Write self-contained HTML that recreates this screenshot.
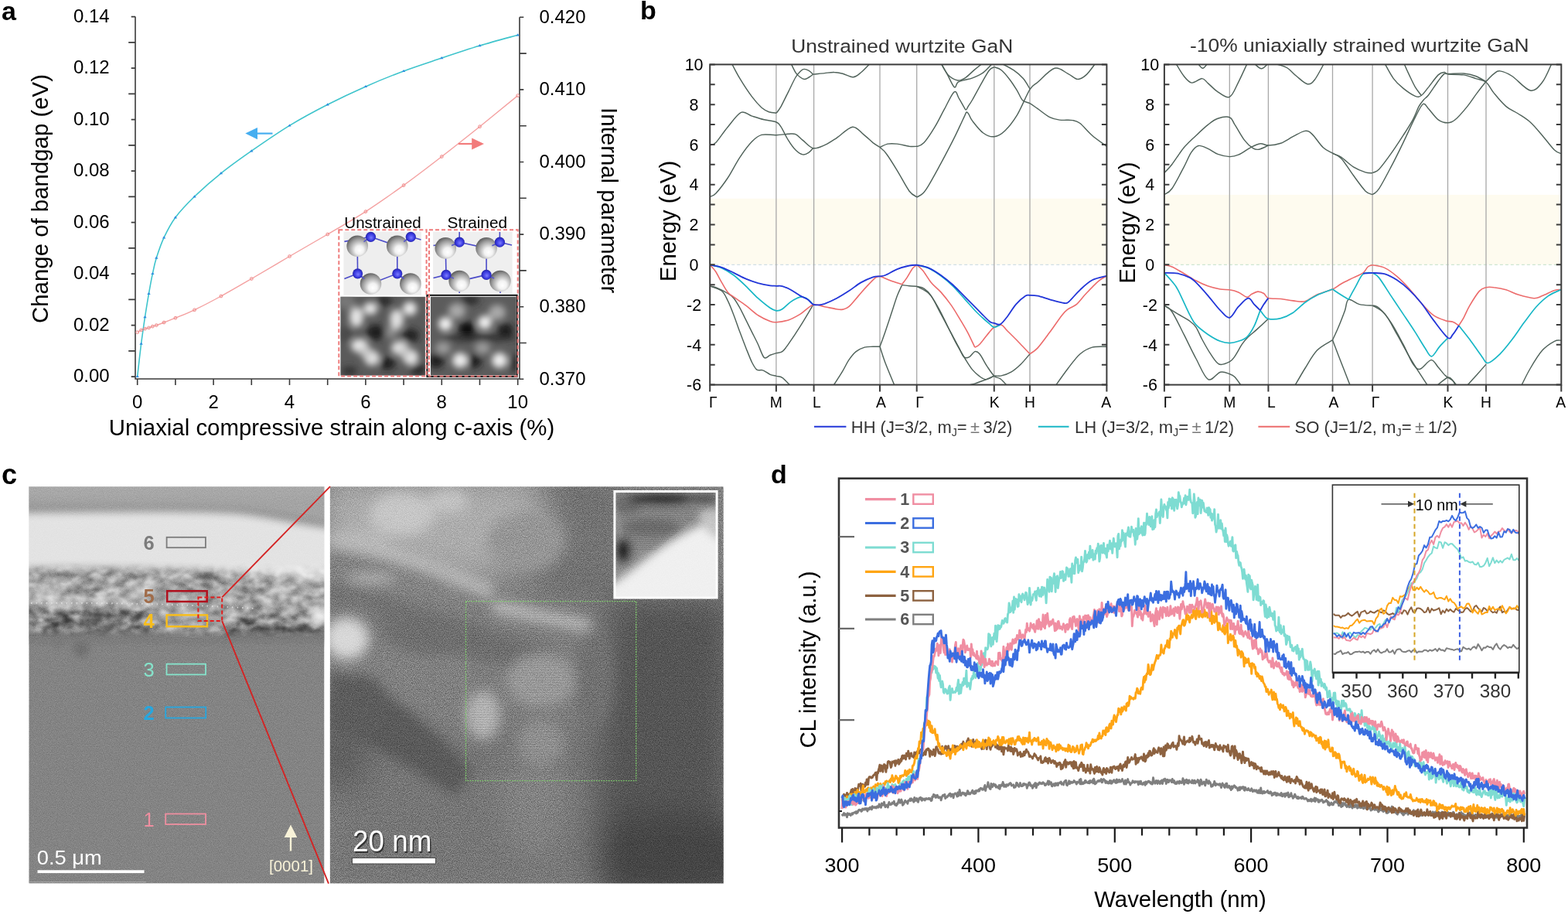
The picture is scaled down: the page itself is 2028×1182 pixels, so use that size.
<!DOCTYPE html>
<html><head><meta charset="utf-8"><title>Figure</title>
<style>
html,body{margin:0;padding:0;background:#fff;width:2028px;height:1182px;overflow:hidden}
svg{display:block}
text{font-family:"Liberation Sans",Arial,Helvetica,sans-serif;fill:#000}
</style></head><body>
<svg width="2028" height="1182" viewBox="0 0 2028 1182">
<defs>
<radialGradient id="gGa" cx="0.6" cy="0.64" r="0.66" fx="0.6" fy="0.7">
<stop offset="0" stop-color="#ffffff"/><stop offset="0.3" stop-color="#f2f2f2"/><stop offset="0.75" stop-color="#9a9a9a"/><stop offset="1" stop-color="#5e5e5e"/></radialGradient>
<radialGradient id="gN" cx="0.5" cy="0.5" r="0.55" fx="0.55" fy="0.6">
<stop offset="0" stop-color="#7c7cff"/><stop offset="0.6" stop-color="#3a3ae0"/><stop offset="1" stop-color="#20209a"/></radialGradient>
<filter id="blur4" x="-20%" y="-20%" width="140%" height="140%"><feGaussianBlur stdDeviation="4.2"/></filter>
<clipPath id="clipL"><rect x="440.5" y="383.8" width="109.4" height="101.8"/></clipPath>
<clipPath id="clipR"><rect x="557" y="383.8" width="110.6" height="101.8"/></clipPath>
<clipPath id="cb1"><rect x="918.2" y="83.4" width="513.2" height="414.20000000000005"/></clipPath>
<clipPath id="cb2"><rect x="1505.9" y="83.4" width="513.3999999999999" height="414.20000000000005"/></clipPath>
<clipPath id="clipTL"><rect x="37.3" y="629.2" width="382.2" height="513.3999999999999"/></clipPath>
<clipPath id="clipTR"><rect x="426.8" y="629.2" width="508.99999999999994" height="513.3999999999999"/></clipPath>
<clipPath id="clipIn"><rect x="795" y="636" width="132" height="137"/></clipPath>
<filter id="bl3" x="-5%" y="-5%" width="110%" height="110%"><feGaussianBlur stdDeviation="3"/></filter>
<filter id="bl5" x="-5%" y="-5%" width="110%" height="110%"><feGaussianBlur stdDeviation="5"/></filter>
<filter id="bl10" x="-10%" y="-10%" width="120%" height="120%"><feGaussianBlur stdDeviation="10"/></filter>
<filter id="bl8" x="-10%" y="-10%" width="120%" height="120%"><feGaussianBlur stdDeviation="8"/></filter>
<filter id="bl7" x="-10%" y="-10%" width="120%" height="120%"><feGaussianBlur stdDeviation="7"/></filter>
<filter id="bl6" x="-5%" y="-5%" width="110%" height="110%"><feGaussianBlur stdDeviation="6"/></filter>
<filter id="bl14" x="-10%" y="-10%" width="120%" height="120%"><feGaussianBlur stdDeviation="20"/></filter>
<filter id="grain" x="0" y="0" width="100%" height="100%" color-interpolation-filters="sRGB"><feTurbulence type="fractalNoise" baseFrequency="0.9" numOctaves="2" seed="7"/><feColorMatrix type="matrix" values="2 0 0 0 -0.5  2 0 0 0 -0.5  2 0 0 0 -0.5  0 0 0 0 1"/></filter>
<filter id="speck" x="0" y="0" width="100%" height="100%" color-interpolation-filters="sRGB"><feTurbulence type="fractalNoise" baseFrequency="0.065 0.1" numOctaves="3" seed="5"/><feColorMatrix type="matrix" values="1.8 0 0 0 -0.4  1.8 0 0 0 -0.4  1.8 0 0 0 -0.4  0 0 0 0 1"/><feGaussianBlur stdDeviation="0.8"/></filter>
<mask id="mTex" maskUnits="userSpaceOnUse" x="30" y="700" width="400" height="150"><rect x="30" y="733" width="400" height="85" fill="#fff" filter="url(#bl5)"/></mask>
<clipPath id="clipD"><rect x="1085.0" y="618.7" width="890.0" height="451.79999999999995"/></clipPath>
<clipPath id="clipDI"><rect x="1724.2" y="627.9" width="239.8" height="241"/></clipPath></defs>
<g id="pa">
<text x="2" y="25.5" font-size="34" font-weight="bold">a</text>
<path d="M175.0,21.6 V490.0 H672.0 V22.3" stroke="#3a3a3a" stroke-width="1.6" fill="none"/>
<path d="M175.0,487.1h-5.3 M175.0,453.9h-8.8 M175.0,420.6h-5.3 M175.0,387.4h-8.8 M175.0,354.1h-5.3 M175.0,320.9h-8.8 M175.0,287.6h-5.3 M175.0,254.4h-8.8 M175.0,221.1h-5.3 M175.0,187.9h-8.8 M175.0,154.6h-5.3 M175.0,121.4h-8.8 M175.0,88.1h-5.3 M175.0,54.9h-8.8 M175.0,21.6h-5.3 M177.7,490.0v8 M226.9,490.0v8 M276.1,490.0v8 M325.3,490.0v8 M374.5,490.0v8 M423.7,490.0v8 M472.9,490.0v8 M522.1,490.0v8 M571.3,490.0v8 M620.5,490.0v8 M669.7,490.0v8 M672.0,22.3h5.3 M672.0,69.1h8.8 M672.0,115.9h5.3 M672.0,162.7h8.8 M672.0,209.5h5.3 M672.0,256.3h8.8 M672.0,303.1h5.3 M672.0,349.9h8.8 M672.0,396.7h5.3 M672.0,443.5h8.8 M672.0,490.3h5.3" stroke="#3a3a3a" stroke-width="1.6" fill="none"/>
<g font-size="24" text-anchor="end"><text x="141.6" y="494.4">0.00</text><text x="141.6" y="427.9">0.02</text><text x="141.6" y="361.4">0.04</text><text x="141.6" y="294.9">0.06</text><text x="141.6" y="228.4">0.08</text><text x="141.6" y="161.9">0.10</text><text x="141.6" y="95.4">0.12</text><text x="141.6" y="28.9">0.14</text></g>
<g font-size="24"><text x="697.5" y="497.6">0.370</text><text x="697.5" y="404">0.380</text><text x="697.5" y="310.4">0.390</text><text x="697.5" y="216.8">0.400</text><text x="697.5" y="123.2">0.410</text><text x="697.5" y="29.6">0.420</text></g>
<g font-size="24" text-anchor="middle"><text x="177.7" y="528">0</text><text x="276.1" y="528">2</text><text x="374.5" y="528">4</text><text x="472.9" y="528">6</text><text x="571.3" y="528">8</text><text x="669.7" y="528">10</text></g>
<text x="429" y="563" font-size="29.4" text-anchor="middle">Uniaxial compressive strain along c-axis (%)</text>
<text transform="translate(62.3,257) rotate(-90)" font-size="29.4" text-anchor="middle">Change of bandgap (eV)</text>
<text transform="translate(777.5,259.2) rotate(90)" font-size="29.4" text-anchor="middle">Internal parameter</text>
<path d="M177.7,429.7 C178.5,429.2 181,427.6 182.6,426.9 C184.3,426.1 185.9,425.7 187.5,425.2 C189.2,424.7 190.8,424.4 192.5,423.9 C194.1,423.4 195.7,422.7 197.4,422.1 C199,421.6 199.8,421.5 202.3,420.6 C204.8,419.8 208,418.6 212.1,417 C216.2,415.4 220.3,413.9 226.9,411.2 C233.5,408.5 241.7,405.5 251.5,400.8 C261.3,396.1 273.6,389.7 285.9,383 C298.2,376.3 310.5,369.1 325.3,360.5 C340.1,351.9 358.1,341.1 374.5,331.5 C390.9,321.9 407.3,312.6 423.7,303 C440.1,293.4 456.5,284.2 472.9,273.6 C489.3,263 505.7,251.4 522.1,239.6 C538.5,227.8 554.9,215.2 571.3,202.5 C587.7,189.8 604.1,176.8 620.5,163.7 C636.9,150.5 661.5,130.3 669.7,123.6" stroke="#f4a0a0" stroke-width="1.4" fill="none"/>
<path d="M177.7,486.9 C178.5,479.8 181,457.3 182.6,444.5 C184.3,431.7 185.9,420.8 187.5,410 C189.2,399.2 190.8,389.1 192.5,379.7 C194.1,370.3 195.7,361.6 197.4,353.9 C199,346.2 199.8,341.4 202.3,333.6 C204.8,325.8 208,315.9 212.1,307.2 C216.2,298.5 220.3,290 226.9,281.2 C233.5,272.4 241.7,263.8 251.5,254.3 C261.3,244.8 273.6,233.9 285.9,224.1 C298.2,214.2 310.5,205.5 325.3,195.2 C340.1,184.9 358.1,172.4 374.5,162.4 C390.9,152.4 407.3,143.7 423.7,135.3 C440.1,126.9 456.5,119.1 472.9,111.9 C489.3,104.7 505.7,98 522.1,91.9 C538.5,85.8 554.9,80.6 571.3,75.1 C587.7,69.6 604.1,64.1 620.5,59.1 C636.9,54.1 661.5,47.6 669.7,45.3" stroke="#3ec4cc" stroke-width="1.6" fill="none"/>
<g fill="none" stroke="#f08a8a" stroke-width="1"><circle cx="177.7" cy="429.7" r="1.9"/><circle cx="182.6" cy="426.9" r="1.9"/><circle cx="187.5" cy="425.2" r="1.9"/><circle cx="192.5" cy="423.9" r="1.9"/><circle cx="197.4" cy="422.1" r="1.9"/><circle cx="202.3" cy="420.6" r="1.9"/><circle cx="212.1" cy="417" r="1.9"/><circle cx="226.9" cy="411.2" r="1.9"/><circle cx="251.5" cy="400.8" r="1.9"/><circle cx="285.9" cy="383" r="1.9"/><circle cx="325.3" cy="360.5" r="1.9"/><circle cx="374.5" cy="331.5" r="1.9"/><circle cx="423.7" cy="303" r="1.9"/><circle cx="472.9" cy="273.6" r="1.9"/><circle cx="522.1" cy="239.6" r="1.9"/><circle cx="571.3" cy="202.5" r="1.9"/><circle cx="620.5" cy="163.7" r="1.9"/><circle cx="669.7" cy="123.6" r="1.9"/></g>
<g fill="#2f8fe0"><path d="M175.5,488.1L177.7,484.9L179.9,488.1Z"/><path d="M180.4,445.7L182.6,442.5L184.8,445.7Z"/><path d="M185.3,411.2L187.5,408L189.7,411.2Z"/><path d="M190.3,380.9L192.5,377.7L194.7,380.9Z"/><path d="M195.2,355.1L197.4,351.9L199.6,355.1Z"/><path d="M200.1,334.8L202.3,331.6L204.5,334.8Z"/><path d="M209.9,308.4L212.1,305.2L214.3,308.4Z"/><path d="M224.7,282.4L226.9,279.2L229.1,282.4Z"/><path d="M249.3,255.5L251.5,252.3L253.7,255.5Z"/><path d="M283.7,225.3L285.9,222.1L288.1,225.3Z"/><path d="M323.1,196.4L325.3,193.2L327.5,196.4Z"/><path d="M372.3,163.6L374.5,160.4L376.7,163.6Z"/><path d="M421.5,136.5L423.7,133.3L425.9,136.5Z"/><path d="M470.7,113.1L472.9,109.9L475.1,113.1Z"/><path d="M519.9,93.1L522.1,89.9L524.3,93.1Z"/><path d="M569.1,76.3L571.3,73.1L573.5,76.3Z"/><path d="M618.3,60.3L620.5,57.1L622.7,60.3Z"/><path d="M667.5,46.5L669.7,43.3L671.9,46.5Z"/></g>
<path d="M332,172.6H352.5" stroke="#46aef0" stroke-width="2.2"/><path d="M317.3,172.6L333,165L333,180.2Z" fill="#46aef0"/>
<path d="M592.9,186H611" stroke="#f27c7c" stroke-width="2.2"/><path d="M626,186L610.2,178.4L610.2,193.6Z" fill="#f27c7c"/>
<g id="inset">
<text x="445.3" y="294.5" font-size="20" textLength="99.5" lengthAdjust="spacingAndGlyphs">Unstrained</text>
<text x="578.6" y="294.5" font-size="20" textLength="77.5" lengthAdjust="spacingAndGlyphs">Strained</text>
<rect x="438.3" y="297.2" width="113.3" height="189.2" fill="#fff"/>
<rect x="555" y="297.2" width="114.7" height="189.2" fill="#fff"/>
<rect x="444.4" y="299.6" width="100.5" height="82.2" fill="#eeeeee"/>
<rect x="560.1" y="299.6" width="102.5" height="80.2" fill="#efefef"/>
<rect x="440.5" y="383.8" width="109.4" height="101.8" fill="#5a5a5a"/>
<rect x="557" y="383.8" width="110.6" height="101.8" fill="#5c5c5c"/>
<g clip-path="url(#clipL)" filter="url(#blur4)">
<ellipse cx="447" cy="390" rx="12" ry="10" fill="#777"/>
<ellipse cx="497" cy="389" rx="10" ry="7" fill="#2a2a2a"/>
<ellipse cx="486" cy="430" rx="12" ry="10" fill="#1e1e1e"/>
<ellipse cx="531" cy="434" rx="11" ry="9" fill="#222"/>
<ellipse cx="447" cy="432" rx="8" ry="10" fill="#4a4a4a"/>
<ellipse cx="501" cy="470" rx="10" ry="8" fill="#1c1c1c"/>
<ellipse cx="541" cy="478" rx="10" ry="8" fill="#2a2a2a"/>
<ellipse cx="452" cy="480" rx="10" ry="6" fill="#333"/>
<ellipse cx="506" cy="430" rx="8" ry="8" fill="#8a8a8a"/>
<ellipse cx="461" cy="410" rx="9" ry="13" fill="#e4e4e4"/>
<ellipse cx="479" cy="399" rx="9" ry="8" fill="#e8e8e8"/>
<ellipse cx="513" cy="413" rx="9" ry="13" fill="#e0e0e0"/>
<ellipse cx="530" cy="399" rx="9" ry="9" fill="#ececec"/>
<ellipse cx="465" cy="447" rx="11" ry="9" fill="#e8e8e8"/>
<ellipse cx="481" cy="463" rx="10" ry="10" fill="#e0e0e0"/>
<ellipse cx="517" cy="450" rx="11" ry="9" fill="#e2e2e2"/>
<ellipse cx="531" cy="462" rx="10" ry="10" fill="#e8e8e8"/>
<ellipse cx="473" cy="455" rx="8" ry="8" fill="#c8c8c8"/>
<ellipse cx="524" cy="456" rx="8" ry="8" fill="#c8c8c8"/>
</g>
<g clip-path="url(#clipR)" filter="url(#blur4)">
<ellipse cx="604" cy="425" rx="11" ry="9" fill="#111"/>
<ellipse cx="654" cy="427" rx="10" ry="9" fill="#1a1a1a"/>
<ellipse cx="564" cy="467" rx="10" ry="9" fill="#1c1c1c"/>
<ellipse cx="613" cy="467" rx="10" ry="9" fill="#1e1e1e"/>
<ellipse cx="620" cy="437" rx="50" ry="4" fill="#2a2a2a"/>
<ellipse cx="608" cy="388" rx="12" ry="6" fill="#2a2a2a"/>
<ellipse cx="665" cy="470" rx="6" ry="12" fill="#333"/>
<ellipse cx="591" cy="402" rx="11" ry="10" fill="#a8a8a8"/>
<ellipse cx="643" cy="404" rx="11" ry="10" fill="#a8a8a8"/>
<ellipse cx="576" cy="419" rx="9" ry="9" fill="#f2f2f2"/>
<ellipse cx="627" cy="417" rx="9" ry="9" fill="#f0f0f0"/>
<ellipse cx="573" cy="450" rx="10" ry="8" fill="#9a9a9a"/>
<ellipse cx="624" cy="450" rx="10" ry="8" fill="#9a9a9a"/>
<ellipse cx="595" cy="466" rx="10" ry="10" fill="#ececec"/>
<ellipse cx="646" cy="466" rx="10" ry="10" fill="#eeeeee"/>
</g>
<g stroke="#4b4bc8" stroke-width="1.6"><line x1="445.4" y1="312.4" x2="479.5" y2="306.3"/><line x1="479.5" y1="306.3" x2="513.8" y2="318.3"/><line x1="531.3" y1="306.3" x2="544.5" y2="310"/><line x1="462.2" y1="318.3" x2="462.6" y2="353.8"/><line x1="513.8" y1="318.3" x2="513.8" y2="353.8"/><line x1="445.4" y1="360.5" x2="462.6" y2="353.8"/><line x1="462.6" y1="353.8" x2="479.5" y2="367"/><line x1="479.5" y1="367" x2="513.8" y2="353.8"/><line x1="513.8" y1="353.8" x2="530.9" y2="367"/><line x1="479.5" y1="306.3" x2="462.2" y2="318.3"/><line x1="531.3" y1="306.3" x2="513.8" y2="318.3"/></g>
<circle cx="462.2" cy="318.3" r="13.8" fill="url(#gGa)"/>
<circle cx="513.8" cy="318.3" r="13.8" fill="url(#gGa)"/>
<circle cx="479.5" cy="367" r="13.8" fill="url(#gGa)"/>
<circle cx="530.9" cy="367" r="13.8" fill="url(#gGa)"/>
<g stroke="#5656c8" stroke-width="1.6"><line x1="479.5" y1="306.3" x2="470.5" y2="312.6"/><line x1="531.3" y1="306.3" x2="522.2" y2="312.5"/><line x1="462.6" y1="353.8" x2="471.3" y2="360.6"/><line x1="513.8" y1="353.8" x2="522.5" y2="360.5"/></g>
<circle cx="479.5" cy="306.3" r="6.6" fill="url(#gN)"/>
<circle cx="531.3" cy="306.3" r="6.6" fill="url(#gN)"/>
<circle cx="462.6" cy="353.8" r="6.6" fill="url(#gN)"/>
<circle cx="513.8" cy="353.8" r="6.6" fill="url(#gN)"/>
<g stroke="#4b4bc8" stroke-width="1.6"><line x1="560.5" y1="317.5" x2="594.2" y2="313.2"/><line x1="594.2" y1="313.2" x2="629.1" y2="320.9"/><line x1="646.4" y1="313.2" x2="662" y2="317"/><line x1="576.3" y1="320.9" x2="577" y2="355.4"/><line x1="629.1" y1="320.9" x2="629.1" y2="355.4"/><line x1="560.5" y1="359.5" x2="577" y2="355.4"/><line x1="577" y1="355.4" x2="594.2" y2="363.6"/><line x1="594.2" y1="363.6" x2="629.1" y2="355.4"/><line x1="629.1" y1="355.4" x2="647" y2="363.6"/><line x1="594.2" y1="313.2" x2="594.2" y2="300"/><line x1="646.4" y1="313.2" x2="646.4" y2="300"/><line x1="594.2" y1="363.6" x2="594.2" y2="379"/><line x1="647" y1="363.6" x2="647" y2="379"/></g>
<circle cx="576.3" cy="320.9" r="13.8" fill="url(#gGa)"/>
<circle cx="629.1" cy="320.9" r="13.8" fill="url(#gGa)"/>
<circle cx="594.2" cy="363.6" r="13.8" fill="url(#gGa)"/>
<circle cx="647" cy="363.6" r="13.8" fill="url(#gGa)"/>
<g stroke="#5656c8" stroke-width="1.6"><line x1="594.2" y1="313.2" x2="584.1" y2="317.5"/><line x1="646.4" y1="313.2" x2="636.4" y2="317.7"/><line x1="577" y1="355.4" x2="586.9" y2="360.1"/><line x1="629.1" y1="355.4" x2="639.1" y2="360"/></g>
<circle cx="594.2" cy="313.2" r="6.6" fill="url(#gN)"/>
<circle cx="646.4" cy="313.2" r="6.6" fill="url(#gN)"/>
<circle cx="577" cy="355.4" r="6.6" fill="url(#gN)"/>
<circle cx="629.1" cy="355.4" r="6.6" fill="url(#gN)"/>
<rect x="552.4" y="381.8" width="116.3" height="105.3" fill="none" stroke="#111" stroke-width="2"/>
<rect x="438.3" y="297.2" width="113.3" height="189.2" fill="none" stroke="#ee7b7b" stroke-width="2" stroke-dasharray="5,3"/>
<rect x="555" y="297.2" width="114.7" height="189.2" fill="none" stroke="#ee7b7b" stroke-width="2" stroke-dasharray="5,3"/>
</g>
</g>
<g id="pb">
<text x="828" y="24.5" font-size="34" font-weight="bold">b</text>
<g fill="#333" font-size="24.3"><text x="1023.2" y="67.9" textLength="287" lengthAdjust="spacingAndGlyphs" style="fill:#333">Unstrained wurtzite GaN</text><text x="1539" y="66.9" textLength="438.5" lengthAdjust="spacingAndGlyphs" style="fill:#333">-10% uniaxially strained wurtzite GaN</text></g>
<rect x="918.2" y="256.8" width="513.2" height="85.4" fill="#fefbef"/>
<line x1="918.2" y1="342.3" x2="1431.4" y2="342.3" stroke="#c5d8e0" stroke-width="1" stroke-dasharray="4,3"/>
<g stroke="#a8a8a8" stroke-width="1.3"><line x1="1003.9" y1="83.4" x2="1003.9" y2="497.6"/><line x1="1052.6" y1="83.4" x2="1052.6" y2="497.6"/><line x1="1138" y1="83.4" x2="1138" y2="497.6"/><line x1="1185.7" y1="83.4" x2="1185.7" y2="497.6"/><line x1="1285.8" y1="83.4" x2="1285.8" y2="497.6"/><line x1="1332" y1="83.4" x2="1332" y2="497.6"/></g>
<g clip-path="url(#cb1)" fill="none" stroke-linejoin="round">
<g stroke="#50625a" stroke-width="1.45"><path d="M946,81.3 C947.8,84.7 952.5,94.3 957,101.6 C961.4,108.9 967.9,118.8 972.6,125.1 C977.3,131.3 981.5,135.9 985.1,139.2 C988.8,142.4 991.3,143.5 994.5,144.7 C997.7,145.8 1002.6,146 1004.2,146.2"/><path d="M1004.2,146.2 C1005.2,144.8 1007.6,142.2 1010.2,137.6 C1012.7,133 1016.4,125.1 1019.6,118.8 C1022.7,112.6 1026.3,104.5 1029,100 C1031.6,95.6 1033.4,94 1035.2,92.2 C1037,90.4 1038.1,89.5 1039.9,89.4 C1041.7,89.3 1044.2,90.3 1046.2,91.4 C1048.1,92.6 1050.7,95.3 1051.6,96.1"/><path d="M1022.7,81.3 C1023.7,83.3 1026.9,90.7 1029,93.8 C1031,96.9 1033.3,98.6 1035.2,100 C1037.2,101.5 1038.9,102.4 1040.7,102.4 C1042.5,102.4 1044.3,101.1 1046.2,100 C1048,99 1050.7,96.8 1051.6,96.1"/><path d="M1051.6,96.1 C1054.1,95.9 1062,95 1066.5,94.6 C1071.1,94.1 1075.1,93.3 1079,93.5 C1083,93.6 1086,94.3 1090,95.3 C1094,96.4 1099.4,100 1103.3,99.7 C1107.2,99.5 1109.7,96.9 1113.5,93.8 C1117.3,90.7 1123.9,83.3 1126,81.3"/><path d="M918.6,187.7 C919.8,187.2 921.9,188.5 925.7,184.6 C929.4,180.7 935.8,170.7 941.3,164.2 C946.8,157.7 953.3,147.8 958.5,145.4 C963.7,143.1 967.7,148.6 972.6,150.1 C977.6,151.7 983,153.5 988.3,154.8 C993.5,156.1 1000.6,156.4 1004.2,158 C1007.9,159.5 1007.6,160.3 1010.2,164.2 C1012.7,168.1 1016.4,176.5 1019.6,181.4 C1022.7,186.4 1025.8,190.9 1029,194 C1032.1,197 1035.5,199.4 1038.3,199.9 C1041.2,200.4 1044,198.5 1046.2,197.1 C1048.4,195.7 1050.7,192.5 1051.6,191.6"/><path d="M918.6,254.2 C919.8,253.6 921.9,254.3 925.7,250.3 C929.4,246.3 936.1,237.8 941.3,230 C946.5,222.1 951.7,211.2 957,203.3 C962.2,195.5 967.9,187.8 972.6,183 C977.3,178.2 979.9,175.8 985.1,174.4 C990.3,173 998.2,174.9 1003.9,174.7 C1009.7,174.5 1015.4,173.5 1019.6,173.3 C1023.7,173.1 1025.8,172.3 1029,173.6 C1032.1,175 1034.6,178.4 1038.3,181.4 C1042.1,184.4 1047,190.6 1051.6,191.6 C1056.3,192.7 1061.4,189.9 1066.5,187.7 C1071.6,185.5 1076.2,182.2 1082.2,178.3 C1088.2,174.4 1096.8,165 1102.5,164.2 C1108.3,163.4 1112.2,170.2 1116.6,173.6 C1121,177 1125.6,181.7 1129.1,184.6 C1132.7,187.4 1136.6,189.5 1138,190.5"/><path d="M1138,190.5 C1139.7,189.8 1144.2,186.9 1147.9,186.1 C1151.6,185.4 1155.7,185.6 1160.4,186.1 C1165.1,186.7 1171.8,188.7 1176.1,189.3 C1180.4,189.8 1184.6,189.3 1186.3,189.3"/><path d="M1138,190.5 C1139.4,191.9 1142.6,193.6 1146.3,198.7 C1150.1,203.7 1155.5,212.5 1160.4,220.6 C1165.4,228.6 1171.8,241.4 1176.1,247.2 C1180.4,252.9 1184.6,253.7 1186.3,255"/><path d="M1185.7,255 C1187,254.2 1190.9,252.9 1193.5,250.3 C1196.1,247.7 1197.4,245.9 1201.3,239.3 C1205.2,232.8 1211.7,220.8 1217,211.2 C1222.2,201.5 1228.4,189.7 1232.6,181.4 C1236.8,173.2 1239.5,167.1 1242,161.9 C1244.5,156.7 1246.1,152.9 1247.5,150.1 C1248.8,147.3 1249.2,145.4 1250.1,145 C1251.1,144.6 1251.7,145.9 1253,147.8 C1254.2,149.7 1254.5,152.3 1257.7,156.4 C1260.8,160.4 1267,168.7 1271.7,172 C1276.4,175.4 1281.1,177.3 1285.8,176.7 C1290.5,176.2 1295,173.6 1299.9,168.9 C1304.9,164.2 1310.2,157.4 1315.6,148.6 C1320.9,139.7 1327.6,122.7 1332,115.7 C1336.4,108.7 1336.8,110.9 1342.2,106.3 C1347.5,101.7 1357.6,90.1 1364.1,88.3 C1370.6,86.5 1376.3,93 1381.3,95.3 C1386.3,97.7 1389.9,102.1 1393.8,102.4 C1397.7,102.7 1400.9,100.4 1404.8,96.9 C1408.7,93.4 1415.2,83.9 1417.3,81.3"/><path d="M1185.7,189.7 C1187.2,188.9 1191.1,188.8 1195,184.6 C1199,180.3 1204.7,171.5 1209.1,164.2 C1213.6,156.9 1217.5,148.3 1221.7,140.7 C1225.8,133.2 1231,121 1234.2,118.8 C1237.3,116.6 1238.3,124.2 1240.4,127.4 C1242.5,130.7 1245.2,136 1246.7,138.4 C1248.2,140.8 1248.4,142.1 1249.4,142 C1250.3,141.9 1250.8,139.8 1252.2,137.6 C1253.6,135.4 1254.7,134.2 1257.7,129 C1260.7,123.8 1266.5,112.7 1270.2,106.3 C1273.8,99.9 1277,93.9 1279.6,90.7 C1282.2,87.4 1284.8,87.4 1285.8,86.7"/><path d="M1285.8,86.7 C1287.4,87.4 1291.8,87.9 1295.2,90.7 C1298.6,93.4 1302.8,98.7 1306.2,103.2 C1309.6,107.6 1312.8,112.8 1315.6,117.3 C1318.3,121.7 1319.9,127 1322.6,129.8 C1325.3,132.5 1328.7,131.9 1332,133.7 C1335.3,135.5 1337.9,137.7 1342.2,140.7 C1346.5,143.7 1353.1,149.3 1357.8,151.7 C1362.5,154.1 1365.4,154.5 1370.3,155.1 C1375.3,155.8 1383.1,154.9 1387.6,155.6 C1392,156.3 1392.8,156.3 1397,159.5 C1401.1,162.8 1406.9,170.2 1412.6,175.2 C1418.3,180.1 1428.3,186.9 1431.4,189.3"/><path d="M1293.7,81.3 C1296.5,82.8 1305.9,87.3 1310.9,90.7 C1315.8,94 1319.9,97.6 1323.4,101.6 C1326.9,105.7 1330.6,112.7 1332,114.9"/><path d="M1217,81.3 C1218.3,83.6 1221.9,90.1 1224.8,95.3 C1227.7,100.6 1231.8,110.7 1234.2,112.6 C1236.5,114.4 1236.5,107.9 1238.9,106.3 C1241.2,104.7 1245.1,104.1 1248.3,103.2 C1251.4,102.3 1253.7,102.4 1257.7,100.8 C1261.6,99.3 1267.3,97 1271.7,93.8 C1276.2,90.5 1282.2,83.3 1284.3,81.3"/><path d="M1217,82 C1218.5,84.5 1222.7,93.3 1226.3,96.9 C1230,100.6 1235.2,103.3 1238.9,104 C1242.5,104.6 1244.6,103.2 1248.3,100.8 C1251.9,98.5 1256.9,93.1 1260.8,89.9 C1264.7,86.6 1269.9,82.7 1271.7,81.3"/><path d="M918.6,370.1 C919.8,370.3 921.9,370.1 925.7,371.7 C929.4,373.2 937.4,377.1 941.3,379.5 C945.2,381.8 946.5,382.6 949.1,385.7 C951.7,388.9 954.3,393.6 957,398.3 C959.6,403 962.2,408.7 964.8,413.9 C967.4,419.1 970,424.3 972.6,429.6 C975.2,434.8 977.8,439.7 980.4,445.2 C983,450.7 985.7,460.1 988.3,462.4 C990.9,464.8 993.4,460.3 996.1,459.3 C998.7,458.3 1001.6,457.4 1004.2,456.6 C1006.8,455.9 1009.2,456.5 1011.7,454.6 C1014.3,452.7 1015.7,450.7 1019.6,445.2 C1023.5,439.7 1029.9,430.2 1035.2,421.7 C1040.6,413.3 1048.9,398.9 1051.6,394.3"/><path d="M918.6,370.1 C921.1,371.1 929.7,373.2 933.5,376.3 C937.3,379.5 938.7,383.7 941.3,388.9 C943.9,394.1 946.5,400.9 949.1,407.7 C951.7,414.4 954.3,422.5 957,429.6 C959.6,436.6 962.2,443.4 964.8,449.9 C967.4,456.4 970.3,464 972.6,468.7 C975,473.4 976.5,476.4 978.9,478.1 C981.2,479.8 983.8,477.8 986.7,478.9 C989.6,479.9 993.2,483.1 996.1,484.3 C999,485.6 1001.6,485.7 1004.2,486.4 C1006.8,487 1008.7,486.1 1011.7,488.3 C1014.8,490.4 1020.9,497.4 1022.7,499.2"/><path d="M1077.5,499.2 C1079.6,496 1086.6,485.3 1090,479.6 C1093.4,474 1095,469.7 1097.8,465.6 C1100.7,461.4 1103.8,457.3 1107.2,454.6 C1110.6,451.9 1114.5,450.2 1118.2,449.1 C1121.8,448.1 1125.8,448.5 1129.1,448.3 C1132.4,448.2 1136.6,448.3 1138,448.3"/><path d="M1138,448.3 C1139.2,451.7 1141.6,460.2 1144.8,468.7 C1148,477.2 1155.2,494.1 1157.3,499.2"/><path d="M1138,448.3 C1139.2,445.2 1142.4,436.6 1144.8,429.6 C1147.2,422.5 1150,413.9 1152.6,406.1 C1155.2,398.3 1158.1,388.9 1160.4,382.6 C1162.8,376.3 1165.6,370.9 1166.7,368.5"/><path d="M1166.7,368.5 C1168.3,368.7 1172.8,369.5 1176.1,369.8 C1179.3,370.1 1184.6,370.3 1186.3,370.4"/><path d="M1185.7,370.4 C1187.2,370.9 1191.9,371.2 1195,373.2 C1198.2,375.3 1200.8,377.1 1204.4,382.6 C1208.1,388.1 1212.8,398.3 1217,406.1 C1221.1,413.9 1225.6,422.3 1229.5,429.6 C1233.4,436.9 1237.6,444.6 1240.4,449.9 C1243.3,455.3 1244.5,459.7 1246.7,461.6 C1248.9,463.6 1251.4,462.8 1253.7,461.6 C1256.1,460.5 1258.6,455.3 1260.8,454.6 C1263,454 1264.4,454.6 1267,457.7 C1269.7,460.9 1273.3,468.6 1276.4,473.4 C1279.6,478.1 1283,483.5 1285.8,486.2 C1288.7,489 1290.8,487.7 1293.7,489.8 C1296.5,492 1301.5,497.6 1303,499.2"/><path d="M1185.7,370.4 C1188.3,371.9 1196.6,374.8 1201.3,379.5 C1206,384.1 1209.7,391 1213.8,398.3 C1218,405.6 1222.4,415.5 1226.3,423.3 C1230.3,431.1 1233.7,438.4 1237.3,445.2 C1241,452 1244.9,458.5 1248.3,464 C1251.7,469.5 1254.5,474.3 1257.7,478.1 C1260.8,481.9 1264.3,484.6 1267,486.7 C1269.8,488.8 1272,490.2 1274.1,490.6 C1276.2,491 1277.6,489.8 1279.6,489 C1281.5,488.3 1284.8,486.7 1285.8,486.2"/><path d="M1246.7,499.2 C1249,498.7 1256.7,497.3 1260.8,496.1 C1264.9,494.9 1268.3,493.3 1271.4,492.2 C1274.6,491 1277.2,490.3 1279.6,489.4 C1282,488.4 1283.2,486.8 1285.8,486.2 C1288.4,485.6 1291.6,486.7 1295.2,485.9 C1298.9,485.1 1303.6,483.7 1307.7,481.2 C1311.9,478.7 1316.2,475 1320.3,471 C1324.3,467.1 1330,460 1332,457.7"/><path d="M1364.9,499.2 C1367.6,495.4 1376,483.4 1381.3,476.5 C1386.6,469.6 1391.7,462.3 1397,457.7 C1402.2,453.2 1406.9,450.7 1412.6,449.1 C1418.3,447.6 1428.3,448.5 1431.4,448.3"/></g>
<g stroke="#ec6b6b" stroke-width="1.6"><path d="M918.6,342.7 C919.8,344.1 923.2,347.5 925.7,351.3 C928.1,355.1 930.9,361 933.5,365.4 C936.1,369.8 938.7,374.8 941.3,377.9 C943.9,381 945.2,381.3 949.1,384.2 C953,387 959.6,391.2 964.8,395.1 C970,399 975.2,404.3 980.4,407.7 C985.7,411 992.1,414 996.1,415.5 C1000.1,417 1000.3,417 1004.2,416.7 C1008.1,416.5 1014.4,415.7 1019.6,413.9 C1024.7,412.1 1029.9,409.3 1035.2,406.1 C1040.6,402.8 1046.4,395.9 1051.6,394.3 C1056.9,392.8 1061.4,395.8 1066.5,396.7 C1071.6,397.6 1078.3,399.3 1082.2,399.8 C1086.1,400.4 1087.4,400.7 1090,400.1 C1092.6,399.6 1094.4,399.6 1097.8,396.7 C1101.2,393.8 1106.4,387 1110.3,382.6 C1114.3,378.2 1117.6,374 1121.3,370.1 C1125,366.2 1129.5,361.3 1132.3,359.1 C1135,357 1137.1,357.6 1138,357.3"/><path d="M1138,357.3 C1139.2,357.7 1142.1,358.8 1144.8,359.9 C1147.5,361 1150.5,362.5 1154.2,363.8 C1157.8,365.1 1164.6,367.1 1166.7,367.7"/><path d="M1166.7,367.7 C1167.7,366.3 1170.6,362.7 1173,359.1 C1175.3,355.6 1178.6,349.3 1180.8,346.6 C1183,343.9 1185.3,343.3 1186.3,342.7"/><path d="M1185.7,342.7 C1187,343.9 1190.3,346 1193.5,349.7 C1196.6,353.5 1200.5,360.7 1204.4,365.4 C1208.3,370.1 1212.8,373.2 1217,377.9 C1221.1,382.6 1225.6,388.1 1229.5,393.6 C1233.4,399 1236.8,404.8 1240.4,410.8 C1244.1,416.8 1248,423.2 1251.4,429.6 C1254.8,436 1259.2,445.9 1260.8,449.1"/><path d="M1260.8,449.1 C1261.8,448.5 1263.9,448.5 1267,445.2 C1270.2,442 1276.4,433.2 1279.6,429.6 C1282.7,425.9 1283.2,424.9 1285.8,423.3 C1288.4,421.7 1292.3,419.4 1295.2,420.2 C1298.1,421 1299.1,424.1 1303,428 C1307,431.9 1313.9,438.7 1318.7,443.7 C1323.5,448.6 1329.8,455.4 1332,457.7"/><path d="M1332,457.7 C1333.7,456.4 1337.9,454.6 1342.2,449.9 C1346.5,445.2 1352.6,436.6 1357.8,429.6 C1363,422.5 1369.6,412.6 1373.5,407.7 C1377.4,402.7 1378.2,402.2 1381.3,399.8 C1384.4,397.5 1388.3,397 1392.3,393.6 C1396.2,390.2 1400.1,384.4 1404.8,379.5 C1409.5,374.5 1416,367.6 1420.4,363.8 C1424.9,360 1429.6,358 1431.4,356.8"/></g>
<g stroke="#18b7c6" stroke-width="1.7"><path d="M918.6,342.7 C921.1,343.3 928.4,344.4 933.5,346.6 C938.6,348.8 943.9,352.1 949.1,356 C954.3,359.9 959.6,365.1 964.8,370.1 C970,375 975.2,381 980.4,385.7 C985.7,390.4 992.1,395.6 996.1,398.3 C1000.1,400.9 1001.6,401.6 1004.2,401.9 C1006.8,402.1 1008.7,401.7 1011.7,399.8 C1014.8,397.9 1018.8,393 1022.7,390.4 C1026.6,387.8 1031.8,385 1035.2,384.2 C1038.6,383.4 1040.3,384.2 1043,385.7 C1045.8,387.3 1050.2,392.3 1051.6,393.6"/><path d="M1185.7,342.7 C1188.3,343.4 1196.1,344.6 1201.3,346.9 C1206.5,349.3 1211.7,352.9 1217,356.8 C1222.2,360.6 1227.4,365 1232.6,370.1 C1237.8,375.2 1243,381.6 1248.3,387.3 C1253.5,393 1258.7,399.3 1263.9,404.5 C1269.1,409.7 1275.9,415.5 1279.6,418.6 C1283.2,421.7 1283.5,423 1285.8,423.3 C1288.2,423.6 1292.3,420.7 1293.7,420.2"/></g>
<g stroke="#2236d8" stroke-width="1.8"><path d="M918.6,342.7 C921.1,343.2 928.4,344.1 933.5,345.8 C938.6,347.5 943.9,350.4 949.1,352.9 C954.3,355.3 959.6,358.5 964.8,360.7 C970,362.9 975.2,364.7 980.4,366.2 C985.7,367.6 992.1,368.7 996.1,369.3 C1000.1,369.9 1001.6,369.6 1004.2,369.8 C1006.8,369.9 1008.7,369.3 1011.7,370.1 C1014.8,370.9 1018.8,372.7 1022.7,374.8 C1026.6,376.9 1031.6,380.5 1035.2,382.6 C1038.9,384.7 1041.9,385.5 1044.6,387.3 C1047.3,389.1 1049.3,392.4 1051.6,393.6 C1054,394.7 1056.2,394.5 1058.7,394.3 C1061.2,394.2 1062.6,394.2 1066.5,392.8 C1070.4,391.3 1077,388.5 1082.2,385.7 C1087.4,383 1092.6,379.7 1097.8,376.3 C1103,373 1108.3,368.4 1113.5,365.4 C1118.7,362.4 1125,359.7 1129.1,358.3 C1133.2,357 1135.4,357.6 1138,357.3 C1140.7,356.9 1141,357.5 1144.8,356 C1148.5,354.5 1155.2,350.3 1160.4,348.2 C1165.6,346.1 1171.8,344.4 1176.1,343.5 C1180.4,342.6 1184.6,342.8 1186.3,342.7"/><path d="M1185.7,342.7 C1188.3,343.3 1196.1,344.4 1201.3,346.6 C1206.5,348.8 1211.7,352.3 1217,356 C1222.2,359.7 1227.4,363.8 1232.6,368.5 C1237.8,373.2 1243,379 1248.3,384.2 C1253.5,389.4 1258.7,394.6 1263.9,399.8 C1269.1,405 1275.9,412.5 1279.6,415.5 C1283.2,418.5 1283.5,417.2 1285.8,417.8 C1288.2,418.5 1290.8,420.8 1293.7,419.4 C1296.5,418 1299.6,413.5 1303,409.2 C1306.4,404.9 1310.1,398 1314,393.6 C1317.9,389.1 1323.5,384.6 1326.5,382.6 C1329.5,380.7 1329.4,381.8 1332,381.8 C1334.6,381.8 1337.9,381.7 1342.2,382.6 C1346.5,383.5 1352.1,385.7 1357.8,387.3 C1363.6,388.9 1372.4,391.6 1376.6,392 C1380.8,392.4 1379.5,392.5 1382.9,389.7 C1386.3,386.8 1392,379.3 1397,374.8 C1401.9,370.2 1406.9,365.3 1412.6,362.3 C1418.3,359.3 1428.3,357.7 1431.4,356.8"/></g>
</g>
<rect x="918.2" y="83.4" width="513.2" height="414.2" fill="none" stroke="#3c3c3c" stroke-width="2"/>
<path d="M918.2,497.6h6.5M1431.4,497.6h-6.5M918.2,471.7h6.5M1431.4,471.7h-6.5M918.2,445.8h6.5M1431.4,445.8h-6.5M918.2,419.9h6.5M1431.4,419.9h-6.5M918.2,394.1h6.5M1431.4,394.1h-6.5M918.2,368.2h6.5M1431.4,368.2h-6.5M918.2,342.3h6.5M1431.4,342.3h-6.5M918.2,316.4h6.5M1431.4,316.4h-6.5M918.2,290.5h6.5M1431.4,290.5h-6.5M918.2,264.6h6.5M1431.4,264.6h-6.5M918.2,238.7h6.5M1431.4,238.7h-6.5M918.2,212.8h6.5M1431.4,212.8h-6.5M918.2,187h6.5M1431.4,187h-6.5M918.2,161.1h6.5M1431.4,161.1h-6.5M918.2,135.2h6.5M1431.4,135.2h-6.5M918.2,109.3h6.5M1431.4,109.3h-6.5M918.2,83.4h6.5M1431.4,83.4h-6.5M918.2,497.6v9M1003.9,497.6v9M1052.6,497.6v9M1138,497.6v9M1185.7,497.6v9M1285.8,497.6v9M1332,497.6v9M1431.4,497.6v9" stroke="#3c3c3c" stroke-width="2"/>
<g font-size="21.5" text-anchor="middle"><text x="897.6" y="505.3">-6</text><text x="897.6" y="453.5">-4</text><text x="897.6" y="401.8">-2</text><text x="897.6" y="350">0</text><text x="897.6" y="298.2">2</text><text x="897.6" y="246.4">4</text><text x="897.6" y="194.7">6</text><text x="897.6" y="142.9">8</text><text x="897.6" y="91.1">10</text></g>
<g font-size="19.3"><text x="917" y="527.4" text-anchor="start">Γ</text><text x="1003.9" y="527.4" text-anchor="middle">M</text><text x="1051.1" y="527.4" text-anchor="start">L</text><text x="1139.5" y="527.4" text-anchor="middle">A</text><text x="1184.3" y="527.4" text-anchor="start">Γ</text><text x="1286.2" y="527.4" text-anchor="middle">K</text><text x="1332" y="527.4" text-anchor="middle">H</text><text x="1430.7" y="527.4" text-anchor="middle">A</text></g>
<rect x="1505.9" y="251.9" width="513.4" height="90.3" fill="#fefbef"/>
<line x1="1505.9" y1="342.3" x2="2019.3" y2="342.3" stroke="#c2e0c8" stroke-width="1" stroke-dasharray="4,3"/>
<g stroke="#a8a8a8" stroke-width="1.3"><line x1="1590.3" y1="83.4" x2="1590.3" y2="497.6"/><line x1="1640.4" y1="83.4" x2="1640.4" y2="497.6"/><line x1="1723.5" y1="83.4" x2="1723.5" y2="497.6"/><line x1="1775.1" y1="83.4" x2="1775.1" y2="497.6"/><line x1="1872.5" y1="83.4" x2="1872.5" y2="497.6"/><line x1="1922" y1="83.4" x2="1922" y2="497.6"/></g>
<g clip-path="url(#cb2)" fill="none" stroke-linejoin="round">
<g stroke="#50625a" stroke-width="1.45"><path d="M1505.9,251.6 C1507.6,250.3 1511.4,250 1515.7,244 C1519.9,238.1 1527.1,223.7 1531.3,215.9 C1535.5,208 1537.6,201.6 1540.7,197.1 C1543.8,192.5 1546.4,189.3 1550.1,188.5 C1553.7,187.7 1558.4,190.6 1562.6,192.4 C1566.8,194.2 1570.5,197.7 1575.1,199.4 C1579.7,201.1 1585.9,202.4 1590.3,202.6 C1594.7,202.7 1597.2,202.2 1601.7,200.2 C1606.3,198.3 1612.7,193.3 1617.4,190.8 C1622.1,188.4 1626.1,186.1 1629.9,185.7 C1633.7,185.2 1636,188.1 1640.4,188 C1644.8,188 1651.2,187.2 1656.5,185.3 C1661.8,183.5 1667,179.4 1672.2,176.7 C1677.4,174.1 1683.6,169.9 1687.8,169.4 C1692,168.9 1693.3,170 1697.2,173.6 C1701.1,177.2 1706.9,186.7 1711.3,190.8 C1715.7,194.9 1719.6,196.1 1723.5,198.2 C1727.4,200.3 1730.3,200.4 1734.8,203.3 C1739.3,206.3 1745.2,212.6 1750.4,215.9 C1755.6,219.1 1762,221.6 1766.1,222.9 C1770.2,224.2 1773.5,223.6 1775,223.7"/><path d="M1505.9,223.4 C1507.6,221.6 1511.4,218.2 1515.7,212.7 C1519.9,207.3 1526.1,197.1 1531.3,190.8 C1536.5,184.6 1541.7,180.1 1547,175.2 C1552.2,170.2 1557.9,164.7 1562.6,161.1 C1567.3,157.4 1570.5,154.8 1575.1,153.3 C1579.7,151.7 1586.7,150.4 1590.3,151.7 C1594,153 1593.8,156.1 1597,161.1 C1600.3,166 1605.7,176.3 1609.6,181.4 C1613.5,186.5 1617.4,189.7 1620.5,191.6 C1623.7,193.6 1625,193.8 1628.3,193.2 C1631.7,192.6 1638.4,188.9 1640.4,188"/><path d="M1723.5,198.2 C1725.4,199.3 1730.3,200.1 1734.8,204.9 C1739.3,209.7 1745.2,219.8 1750.4,226.8 C1755.6,233.9 1762,243 1766.1,247.2 C1770.2,251.3 1773.5,250.8 1775,251.6"/><path d="M1520.3,81.3 C1522.2,84.1 1527.8,94.2 1531.3,98.5 C1534.8,102.8 1537.6,106.6 1541.5,107.1 C1545.4,107.6 1551.3,101.5 1554.8,101.6 C1558.3,101.7 1559.2,105 1562.6,107.9 C1566,110.7 1570.5,115.9 1575.1,118.8 C1579.7,121.7 1585.9,127.5 1590.3,125.4 C1594.7,123.3 1597.9,113.7 1601.7,106.3 C1605.6,98.9 1611.5,85.4 1613.5,81.3"/><path d="M1549.3,82 C1550.3,83.1 1553.5,88.3 1555.6,88.3 C1557.7,88.3 1560.8,83.1 1561.8,82"/><path d="M1622.1,82 C1623.7,83.2 1628.5,88.8 1631.5,88.8 C1634.5,88.8 1638.6,83.2 1640.1,82"/><path d="M1650.3,82.8 C1652.6,83.6 1659.9,84.9 1664.3,87.5 C1668.8,90.1 1672.4,95 1676.9,98.5 C1681.3,102 1687,107.9 1691,108.7 C1694.9,109.4 1696.7,107.7 1700.3,103.2 C1704,98.6 1710.8,84.9 1712.9,81.3"/><path d="M1775.2,223.4 C1776.6,222.7 1779.5,223.1 1783.5,219 C1787.5,214.9 1793.9,206 1799.1,198.7 C1804.4,191.4 1810.1,182.5 1814.8,175.2 C1819.5,167.9 1823.9,161.1 1827.3,154.8 C1830.7,148.6 1832.8,141.9 1835.1,137.6 C1837.5,133.3 1839.3,131.5 1841.4,129 C1843.5,126.5 1844.5,126.8 1847.7,122.7 C1850.8,118.7 1856.8,109.3 1860.2,104.7 C1863.6,100.2 1866,96.8 1868,95.4 C1870.1,93.9 1871.7,96 1872.4,96.1"/><path d="M1775.2,251.6 C1776.6,250.3 1779.5,250 1783.5,244.1 C1787.5,238.1 1793.9,225.8 1799.1,215.9 C1804.4,206 1809.6,195.3 1814.8,184.6 C1820,173.9 1826.1,160.1 1830.4,151.7 C1834.7,143.4 1837.7,136.3 1840.6,134.5 C1843.5,132.7 1844.4,137.4 1847.7,140.7 C1850.9,144.1 1856.1,151.8 1860.2,154.8 C1864.3,157.8 1868.7,158.8 1872.4,158.8 C1876.1,158.8 1877.9,158.4 1882.1,154.8 C1886.3,151.3 1893.1,143.4 1897.8,137.6 C1902.5,131.9 1906.2,125.7 1910.3,120.4 C1914.3,115 1918.4,109.7 1922,105.5 C1925.7,101.4 1929.2,97.6 1932.2,95.4 C1935.2,93.1 1936.1,91.4 1940,91.9 C1943.9,92.4 1949.2,94.3 1955.7,98.5 C1962.2,102.7 1972.6,115.6 1979.2,117 C1985.7,118.3 1990.1,112.3 1994.8,106.3 C1999.5,100.4 2005.3,85.4 2007.3,81.3"/><path d="M1790.5,81.3 C1792.5,84.7 1798.2,96.1 1802.3,101.6 C1806.3,107.1 1810.1,110.4 1814.8,114.1 C1819.5,117.9 1826.5,122.7 1830.4,124.3 C1834.4,125.9 1835.4,125.5 1838.3,123.5 C1841.1,121.6 1844,117 1847.7,112.6 C1851.3,108.1 1856.8,100.1 1860.2,96.9 C1863.6,93.7 1866,93.7 1868,93.5 C1870.1,93.2 1868.2,95.1 1872.4,95.4 C1876.6,95.6 1887,94.5 1893.1,95 C1899.1,95.6 1903.9,96.7 1908.7,98.5 C1913.5,100.2 1919.8,104.4 1922,105.5"/><path d="M1815.6,81.3 C1816.7,83.9 1820.1,91.7 1822.6,96.9 C1825.1,102.1 1827.8,108.1 1830.4,112.6 C1833.1,117 1837,121.7 1838.3,123.5"/><path d="M1872.4,96.1 C1875.8,96.3 1887,96 1893.1,96.9 C1899.1,97.8 1903.9,100 1908.7,101.6 C1913.5,103.2 1918.1,103.2 1922,106.3 C1925.9,109.4 1927.9,115.2 1932.2,120.4 C1936.5,125.6 1942.6,133.2 1947.9,137.6 C1953.1,142.1 1958.3,143.6 1963.5,147 C1968.7,150.4 1973.9,153.3 1979.2,158 C1984.4,162.7 1989.6,169.2 1994.8,175.2 C2000,181.2 2006.4,190.1 2010.5,194 C2014.5,197.9 2017.6,197.9 2019.1,198.7"/><path d="M1505.9,395.1 C1507.6,396.4 1511.4,396.7 1515.7,403 C1519.9,409.2 1526.1,422.5 1531.3,432.7 C1536.5,442.9 1541.7,454.3 1547,464 C1552.2,473.6 1557.4,487.7 1562.6,490.6 C1567.8,493.5 1573.6,482.4 1578.3,481.2 C1582.9,480 1587.2,482.5 1590.3,483.6 C1593.4,484.6 1594.5,484.9 1597,487.5 C1599.6,490.1 1604.2,497.3 1605.7,499.2"/><path d="M1505.9,395.1 C1508.9,397 1517.9,402.7 1523.5,406.1 C1529,409.5 1535.2,412.6 1539.1,415.5 C1543,418.3 1544.3,419.4 1547,423.3 C1549.6,427.2 1551.7,433.2 1554.8,439 C1557.9,444.7 1562.1,452.4 1565.7,457.7 C1569.4,463.1 1572.6,469.3 1576.7,471 C1580.8,472.7 1586.9,469.6 1590.3,467.9 C1593.7,466.2 1594.4,464.6 1597,460.9 C1599.7,457.1 1603.6,449.4 1606.4,445.2 C1609.3,441 1611.1,439 1614.3,435.8 C1617.4,432.7 1620.9,430.3 1625.2,426.4 C1629.6,422.5 1637.9,414.7 1640.4,412.3"/><path d="M1674.5,499.2 C1676.7,495.4 1683,484.2 1687.8,476.5 C1692.6,468.8 1697.5,459.2 1703.5,453 C1709.4,446.9 1720.2,442 1723.5,439.7"/><path d="M1723.5,439.7 C1724.9,443.3 1727.8,451 1731.6,460.9 C1735.5,470.8 1744,492.8 1746.5,499.2"/><path d="M1723.5,439.7 C1724.9,436.7 1729,428.1 1731.6,421.7 C1734.3,415.3 1737.4,407.1 1739.5,401.4 C1741.6,395.7 1741,388.6 1744.2,387.3 C1747.3,386 1753.1,392.3 1758.3,393.6 C1763.4,394.9 1772.2,394.9 1775,395.1"/><path d="M1775.2,395.1 C1776.6,395.7 1779.5,394.6 1783.5,398.3 C1787.5,401.9 1793.9,409.2 1799.1,417.1 C1804.4,424.9 1810.1,436.4 1814.8,445.2 C1819.5,454.1 1823.7,464.9 1827.3,470.3 C1831,475.6 1832.8,478.1 1836.7,477.3 C1840.6,476.5 1846.9,466 1850.8,465.6 C1854.7,465.2 1857.1,471.6 1860.2,475 C1863.3,478.4 1866.4,483.1 1869.6,485.9 C1872.7,488.8 1876.5,490 1879,492.2 C1881.5,494.4 1883.5,498.1 1884.5,499.2"/><path d="M1775.2,395.1 C1777.9,397 1786,399.8 1791.3,406.1 C1796.6,412.4 1801.7,423.6 1807,432.7 C1812.2,441.8 1817.9,452.8 1822.6,460.9 C1827.3,469 1831.1,474.8 1835.1,481.2 C1839.2,487.6 1844.9,496.2 1846.9,499.2"/><path d="M1857.8,499.2 C1860.3,497.4 1868.9,489.5 1872.4,488.3 C1875.9,487.1 1877.2,490.4 1879,492.2 C1880.7,494 1882.2,498.1 1882.9,499.2"/><path d="M1897,499.2 C1899.2,496.8 1906.1,489.1 1910.3,484.4 C1914.5,479.7 1920.1,473.3 1922,471.1"/><path d="M1967.4,499.2 C1969.4,495.5 1974.6,484.2 1979.2,476.5 C1983.7,468.8 1989.6,458.9 1994.8,453.1 C2000,447.2 2006.4,443.5 2010.5,441.3 C2014.5,439.2 2017.6,440.4 2019.1,440.2"/></g>
<g stroke="#ec6b6b" stroke-width="1.6"><path d="M1505.9,342.7 C1507.6,343.1 1511.4,343.2 1515.7,345 C1519.9,346.9 1526.1,350.7 1531.3,353.7 C1536.5,356.7 1541.7,360.3 1547,363 C1552.2,365.8 1557.4,368.3 1562.6,370.1 C1567.8,371.9 1573.6,373.2 1578.3,374 C1582.9,374.8 1586.4,374.1 1590.3,374.8 C1594.2,375.4 1598,376.3 1601.7,377.9 C1605.5,379.5 1609.8,383.8 1612.7,384.2 C1615.6,384.6 1616.6,381.4 1619,380.3 C1621.3,379.1 1624.2,377.3 1626.8,377.1 C1629.4,377 1632.3,378.1 1634.6,379.5 C1636.9,380.9 1636.7,384.3 1640.4,385.4 C1644,386.6 1651.2,385.9 1656.5,386.5 C1661.8,387.1 1667,388.3 1672.2,388.9 C1677.4,389.4 1682.6,391 1687.8,389.7 C1693,388.3 1697.5,383.7 1703.5,381 C1709.4,378.4 1718.3,376.3 1723.5,374 C1728.7,371.7 1730.3,369.4 1734.8,367 C1739.3,364.5 1745.7,361.5 1750.4,359.1 C1755.1,356.8 1759.8,355.2 1763,352.9 C1766.1,350.5 1767.2,346.7 1769.2,345 C1771.2,343.3 1774,343.1 1775,342.7"/><path d="M1775.2,342.7 C1777.9,343.4 1786,344.1 1791.3,346.6 C1796.6,349.1 1801.7,353.1 1807,357.6 C1812.2,362 1817.4,367.5 1822.6,373.2 C1827.8,379 1833.1,386.3 1838.3,392 C1843.5,397.7 1848.7,403.9 1853.9,407.7 C1859.1,411.4 1865.4,413.3 1869.6,414.7 C1873.8,416.1 1876.1,415.2 1879,416.3 C1881.8,417.3 1885.5,420.2 1886.8,421"/><path d="M1886.8,421 C1887.8,419.3 1890.7,415.1 1893.1,410.8 C1895.4,406.5 1897.5,400.9 1900.9,395.1 C1904.3,389.4 1909.9,380.3 1913.4,376.4 C1916.9,372.4 1918.9,372.4 1922,371.7 C1925.2,370.9 1927.9,371.1 1932.2,371.7 C1936.5,372.2 1942.6,373.2 1947.9,374.8 C1953.1,376.4 1957.5,379.2 1963.5,381.1 C1969.5,382.9 1978.6,385.5 1983.9,385.7 C1989.1,386 1990.4,384.3 1994.8,382.6 C1999.3,380.9 2006.4,376.9 2010.5,375.6 C2014.5,374.2 2017.6,374.7 2019.1,374.5"/></g>
<g stroke="#18b7c6" stroke-width="1.7"><path d="M1505.9,352.9 C1507.6,354.7 1512.7,360.2 1515.7,363.8 C1518.6,367.5 1519.6,367.5 1523.5,374.8 C1527.4,382.1 1535.2,400.1 1539.1,407.7 C1543,415.2 1543,416 1547,420.2 C1550.9,424.3 1557.4,429.2 1562.6,432.7 C1567.8,436.2 1573.6,439.5 1578.3,441.3 C1582.9,443.1 1586.4,443.7 1590.3,443.7 C1594.2,443.7 1598,442.6 1601.7,441.3 C1605.5,440 1609.3,439.1 1612.7,435.8 C1616.1,432.6 1619.2,427.5 1622.1,421.7 C1625,416 1628.6,404.8 1629.9,401.4"/><path d="M1629.9,401.4 C1630.7,402.4 1632.9,405.8 1634.6,407.7 C1636.4,409.5 1636.7,411.7 1640.4,412.3 C1644,413 1651.2,412.9 1656.5,411.6 C1661.8,410.3 1667,407.9 1672.2,404.5 C1677.4,401.1 1682.6,395 1687.8,391.2 C1693,387.4 1697.5,384.7 1703.5,381.8 C1709.4,379 1720.2,375.3 1723.5,374"/><path d="M1723.5,374 C1724.9,374.9 1728.2,377.3 1731.6,379.5 C1735.1,381.7 1742.1,386 1744.2,387.3"/><path d="M1744.2,387.3 C1745.7,384.4 1750.4,375.6 1753.6,370.1 C1756.7,364.6 1759.4,357.3 1763,354.4 C1766.5,351.6 1773,353.1 1775,352.9"/><path d="M1775.2,352.9 C1776.6,353.9 1779.5,354.2 1783.5,359.1 C1787.5,364.1 1793.9,374.8 1799.1,382.6 C1804.4,390.4 1809.6,398.3 1814.8,406.1 C1820,413.9 1825.7,422.3 1830.4,429.6 C1835.1,436.9 1839.4,444.7 1843,449.9 C1846.5,455.1 1848.4,461.2 1851.6,460.9 C1854.7,460.6 1858.3,452.3 1861.8,448.4 C1865.2,444.5 1870.6,439.2 1872.4,437.4"/><path d="M1886.8,421 C1889.1,424 1895.9,432.3 1900.9,439 C1905.8,445.6 1912.6,455.8 1916.5,460.9 C1920.5,466 1920.5,470 1924.4,469.5 C1928.3,469 1934.8,462.8 1940,457.8 C1945.2,452.7 1950.5,445.8 1955.7,439 C1960.9,432.2 1966.1,424.1 1971.3,417.1 C1976.6,410 1981.8,402.4 1987,396.7 C1992.2,391 1997.3,386.3 2002.6,382.6 C2008,378.9 2016.3,375.8 2019.1,374.5"/></g>
<g stroke="#2236d8" stroke-width="1.8"><path d="M1505.9,352.9 C1508.9,353 1517.9,352.6 1523.5,353.7 C1529,354.7 1535.2,357.2 1539.1,359.1 C1543,361.1 1543,361.5 1547,365.4 C1550.9,369.3 1557.4,376.6 1562.6,382.6 C1567.8,388.6 1573.6,396.7 1578.3,401.4 C1582.9,406.1 1586.4,411.6 1590.3,410.8 C1594.2,410 1597.7,400.9 1601.7,396.7 C1605.7,392.5 1610.9,386.3 1614.3,385.7 C1617.7,385.2 1619.5,391 1622.1,393.6 C1624.7,396.2 1628.6,400.1 1629.9,401.4"/><path d="M1629.9,401.4 C1630.7,400.1 1632.9,396.2 1634.6,393.6 C1636.4,390.9 1639.4,386.8 1640.4,385.4"/><path d="M1763,353.7 C1765,353.5 1773,353 1775,352.9"/><path d="M1775.2,352.9 C1777.9,353.1 1786,352.9 1791.3,354.4 C1796.6,356 1801.7,358.9 1807,362.3 C1812.2,365.7 1817.4,369.8 1822.6,374.8 C1827.8,379.7 1833.1,385.5 1838.3,392 C1843.5,398.5 1848.2,406.5 1853.9,413.9 C1859.6,421.4 1868.2,433.5 1872.4,436.6 C1876.6,439.8 1876.6,435.3 1879,432.7 C1881.4,430.1 1885.5,422.9 1886.8,421"/></g>
</g>
<rect x="1505.9" y="83.4" width="513.4" height="414.2" fill="none" stroke="#3c3c3c" stroke-width="2"/>
<path d="M1505.9,497.6h6.5M2019.3,497.6h-6.5M1505.9,471.7h6.5M2019.3,471.7h-6.5M1505.9,445.8h6.5M2019.3,445.8h-6.5M1505.9,419.9h6.5M2019.3,419.9h-6.5M1505.9,394.1h6.5M2019.3,394.1h-6.5M1505.9,368.2h6.5M2019.3,368.2h-6.5M1505.9,342.3h6.5M2019.3,342.3h-6.5M1505.9,316.4h6.5M2019.3,316.4h-6.5M1505.9,290.5h6.5M2019.3,290.5h-6.5M1505.9,264.6h6.5M2019.3,264.6h-6.5M1505.9,238.7h6.5M2019.3,238.7h-6.5M1505.9,212.8h6.5M2019.3,212.8h-6.5M1505.9,187h6.5M2019.3,187h-6.5M1505.9,161.1h6.5M2019.3,161.1h-6.5M1505.9,135.2h6.5M2019.3,135.2h-6.5M1505.9,109.3h6.5M2019.3,109.3h-6.5M1505.9,83.4h6.5M2019.3,83.4h-6.5M1505.9,497.6v9M1590.3,497.6v9M1640.4,497.6v9M1723.5,497.6v9M1775.1,497.6v9M1872.5,497.6v9M1922,497.6v9M2019.3,497.6v9" stroke="#3c3c3c" stroke-width="2"/>
<g font-size="21.5" text-anchor="middle"><text x="1487.3" y="505.3">-6</text><text x="1487.3" y="453.5">-4</text><text x="1487.3" y="401.8">-2</text><text x="1487.3" y="350">0</text><text x="1487.3" y="298.2">2</text><text x="1487.3" y="246.4">4</text><text x="1487.3" y="194.7">6</text><text x="1487.3" y="142.9">8</text><text x="1487.3" y="91.1">10</text></g>
<g font-size="19.3"><text x="1504.7" y="527.4" text-anchor="start">Γ</text><text x="1590.3" y="527.4" text-anchor="middle">M</text><text x="1638.9" y="527.4" text-anchor="start">L</text><text x="1725" y="527.4" text-anchor="middle">A</text><text x="1773.7" y="527.4" text-anchor="start">Γ</text><text x="1872.9" y="527.4" text-anchor="middle">K</text><text x="1922" y="527.4" text-anchor="middle">H</text><text x="2018.6" y="527.4" text-anchor="middle">A</text></g>
<text transform="translate(874.4,286) rotate(-90)" font-size="29.3" text-anchor="middle">Energy (eV)</text>
<text transform="translate(1468.1,288) rotate(-90)" font-size="29.5" text-anchor="middle">Energy (eV)</text>
<line x1="1053" y1="551.8" x2="1094.4" y2="551.8" stroke="#2236d8" stroke-width="2"/>
<line x1="1342.8" y1="551.8" x2="1382.5" y2="551.8" stroke="#18b7c6" stroke-width="2"/>
<line x1="1627.4" y1="551.8" x2="1668.2" y2="551.8" stroke="#ec6b6b" stroke-width="2"/>
<text x="1100.8" y="559.9" font-size="21.7" textLength="208.5" lengthAdjust="spacingAndGlyphs" style="fill:#333">HH (J=3/2, m<tspan font-size="14" dy="4.5">J</tspan><tspan dy="-4.5">=</tspan><tspan style="fill:#777"> ± </tspan>3/2)</text>
<text x="1390.1" y="559.9" font-size="21.7" textLength="206" lengthAdjust="spacingAndGlyphs" style="fill:#333">LH (J=3/2, m<tspan font-size="14" dy="4.5">J</tspan><tspan dy="-4.5">=</tspan><tspan style="fill:#777"> ± </tspan>1/2)</text>
<text x="1674.4" y="559.9" font-size="21.7" textLength="210.5" lengthAdjust="spacingAndGlyphs" style="fill:#333">SO (J=1/2, m<tspan font-size="14" dy="4.5">J</tspan><tspan dy="-4.5">=</tspan><tspan style="fill:#777"> ± </tspan>1/2)</text>
</g>
<g id="pc">
<text x="2" y="625.5" font-size="36" font-weight="bold">c</text>
<g clip-path="url(#clipTL)">
<rect x="37.3" y="629.2" width="382.2" height="513.4" fill="#838383"/>
<g filter="url(#bl5)">
<rect x="20" y="610" width="420" height="90" fill="#a4a4a4"/>
<path d="M20,650 C150,652 290,652 330,656 C370,661 405,671 440,676 L440,690 C410,686 380,680 330,670 C250,664 150,664 20,664Z" fill="#999"/>
<path d="M20,665 C150,663 260,662 310,666 C350,670 390,681 440,686 L440,752 C380,748 320,740 250,736 C150,732 80,732 20,734 Z" fill="#e3e3e3"/>
<path d="M20,734 C100,731 200,733 280,737 C340,742 400,748 440,752 L440,822 C380,828 300,826 200,822 C120,820 60,822 20,820 Z" fill="#a2a2a2"/>
<path d="M20,786 C120,784 220,788 300,792 L440,800 L440,830 L20,830Z" fill="#828282"/>
<ellipse cx="250" cy="800" rx="55" ry="17" fill="#a4a4a4"/>
<ellipse cx="375" cy="775" rx="45" ry="22" fill="#a6a6a6"/>
<ellipse cx="412" cy="797" rx="11" ry="9" fill="#f6f6f6"/>
<ellipse cx="365" cy="764" rx="12" ry="5" fill="#d8d8d8"/>
<ellipse cx="85" cy="812" rx="28" ry="14" fill="#6c6c6c"/>
<ellipse cx="130" cy="806" rx="14" ry="20" fill="#676767"/>
<ellipse cx="75" cy="828" rx="8" ry="8" fill="#6a6a6a"/>
<ellipse cx="175" cy="815" rx="18" ry="10" fill="#737373"/>
<ellipse cx="330" cy="815" rx="35" ry="8" fill="#717171"/>
<ellipse cx="395" cy="818" rx="30" ry="7" fill="#6e6e6e"/>
<path d="M290,812 C330,812 380,815 430,812 L430,830 C380,832 330,828 290,826Z" fill="#6c6c6c"/>
<path d="M20,640 L440,640 L440,620 L20,620Z" fill="#a8a8a8"/>
<ellipse cx="270" cy="748" rx="14" ry="10" fill="#8a8a8a"/>
<ellipse cx="115" cy="770" rx="10" ry="14" fill="#888"/>
<ellipse cx="60" cy="760" rx="20" ry="8" fill="#bdbdbd"/>
<ellipse cx="180" cy="762" rx="25" ry="8" fill="#b8b8b8"/>
<path d="M20,772 C80,770 160,772 220,776 L220,784 C160,781 80,780 20,781Z" fill="#c4c4c4"/>
<ellipse cx="105" cy="838" rx="10" ry="12" fill="#6e6e6e"/>
<path d="M20,818 L300,822 L430,818 L430,832 L20,832Z" fill="#7a7a7a"/>
</g>
<rect x="37" y="720" width="383" height="110" filter="url(#speck)" mask="url(#mTex)" style="mix-blend-mode:overlay" opacity="0.5"/>
<path d="M40,780 C150,779 250,782 330,787" stroke="#eeeeee" stroke-width="1.8" stroke-dasharray="1.5,5" fill="none" opacity="0.7"/>
<rect x="37.3" y="629.2" width="382.2" height="513.4" filter="url(#grain)" style="mix-blend-mode:overlay" opacity="0.11"/>
</g>
<g clip-path="url(#clipTR)">
<rect x="426.8" y="629.2" width="509" height="513.4" fill="#808080"/>
<g filter="url(#bl14)">
<path d="M420,620 L690,620 L715,700 L620,750 L420,705Z" fill="#acacac"/>
<path d="M700,620 L800,620 L800,785 L690,765 L720,690Z" fill="#6c6c6c"/>
<path d="M792,772 L945,772 L945,1150 L760,1150 L772,980Z" fill="#545454"/>
<ellipse cx="870" cy="1110" rx="130" ry="60" fill="#454545"/>
<rect x="420" y="940" width="350" height="210" fill="#767676"/>
<ellipse cx="690" cy="1030" rx="40" ry="80" fill="#828282"/>
<ellipse cx="440" cy="975" rx="40" ry="50" fill="#5e5e5e"/>
<ellipse cx="750" cy="700" rx="30" ry="60" fill="#747474"/>
</g>
<g filter="url(#bl8)">
<ellipse cx="520" cy="665" rx="42" ry="28" fill="#c6c6c6"/>
<ellipse cx="580" cy="648" rx="26" ry="16" fill="#c2c2c2"/>
<ellipse cx="470" cy="695" rx="38" ry="14" fill="#b6b6b6"/>
<path d="M425,686 C500,698 560,722 640,758 L634,774 C560,742 500,722 425,706Z" fill="#b8b8b8"/>
<path d="M425,716 C480,720 530,733 580,752 L574,762 C525,746 475,736 425,730Z" fill="#7c7c7c"/>
<ellipse cx="480" cy="748" rx="32" ry="5" fill="#bebebe"/>
<path d="M425,752 C480,766 540,782 610,806 L715,840 L700,872 C600,850 530,834 470,818 L425,806Z" fill="#707070"/>
<ellipse cx="565" cy="822" rx="62" ry="26" fill="#6e6e6e"/>
<ellipse cx="455" cy="815" rx="40" ry="40" fill="#7a7a7a"/>
<ellipse cx="448" cy="826" rx="28" ry="26" fill="#d8d8d8"/>
<path d="M640,778 C680,786 720,794 765,802 L760,816 C715,808 675,800 635,792Z" fill="#c4c4c4"/>
<path d="M425,868 C475,874 540,918 612,996 L590,1030 C520,985 465,955 425,945Z" fill="#5a5a5a"/>
<ellipse cx="462" cy="912" rx="42" ry="40" fill="#5c5c5c"/>
<ellipse cx="625" cy="925" rx="22" ry="32" fill="#b8b8b8"/>
<ellipse cx="700" cy="880" rx="45" ry="35" fill="#9c9c9c"/>
<ellipse cx="768" cy="880" rx="24" ry="60" fill="#727272"/>
<ellipse cx="700" cy="960" rx="30" ry="30" fill="#929292"/>
<ellipse cx="680" cy="700" rx="50" ry="38" fill="#959595"/>
</g>
<path d="M610,790H815M610,793.2H815M610,796.4H815M610,799.6H815M610,802.8H815M610,806H815M610,809.2H815M610,812.4H815M610,815.6H815M610,818.8H815M610,822H815M610,825.2H815M610,828.4H815M610,831.6H815M610,834.8H815M610,838H815M610,841.2H815M610,844.4H815M610,847.6H815M610,850.8H815M610,854H815M610,857.2H815M610,860.4H815M610,863.6H815M610,866.8H815M610,870H815M610,873.2H815M610,876.4H815M610,879.6H815M610,882.8H815M610,886H815M610,889.2H815M610,892.4H815M610,895.6H815M610,898.8H815M610,902H815M610,905.2H815M610,908.4H815M610,911.6H815M610,914.8H815M610,918H815M610,921.2H815M610,924.4H815M610,927.6H815M610,930.8H815M610,934H815M610,937.2H815M610,940.4H815M610,943.6H815M610,946.8H815M610,950H815M610,953.2H815M610,956.4H815M610,959.6H815M610,962.8H815M610,966H815M610,969.2H815M610,972.4H815M610,975.6H815M610,978.8H815M610,982H815M610,985.2H815M610,988.4H815M610,991.6H815M610,994.8H815M610,998H815" stroke="#5a5a5a" stroke-width="1" opacity="0.22"/>
<rect x="426.8" y="629.2" width="509" height="513.4" filter="url(#grain)" style="mix-blend-mode:overlay" opacity="0.26"/>
</g>
<g clip-path="url(#clipIn)">
<rect x="795" y="636" width="132" height="137" fill="#f0f0f0"/>
<g filter="url(#bl6)">
<path d="M785,626 L935,626 L935,668 C905,678 880,690 850,712 C825,730 808,745 785,760Z" fill="#8c8c8c"/>
<path d="M905,660 L935,660 L935,700 C915,690 905,680 905,660Z" fill="#c4c4c4"/>
<ellipse cx="812" cy="650" rx="20" ry="14" fill="#6c6c6c"/>
<ellipse cx="858" cy="645" rx="45" ry="9" fill="#262626"/>
<ellipse cx="910" cy="645" rx="22" ry="7" fill="#4a4a4a"/>
<ellipse cx="842" cy="682" rx="38" ry="12" fill="#6e6e6e"/>
<ellipse cx="806" cy="712" rx="11" ry="17" fill="#1c1c1c"/>
</g>
<path d="M800,656H915M800.5,658.6H911.9M801,661.2H908.8M801.6,663.8H905.6M802.1,666.4H902.5M802.6,669H899.4M803.1,671.6H896.3M803.6,674.2H893.2M804.2,676.8H890M804.7,679.4H886.9M805.2,682H883.8M805.7,684.6H880.7M806.2,687.2H877.6M806.8,689.8H874.4M807.3,692.4H871.3M807.8,695H868.2M808.3,697.6H865.1M808.8,700.2H862M809.4,702.8H858.8M809.9,705.4H855.7M810.4,708H852.6M810.9,710.6H849.5" stroke="#333" stroke-width="1" opacity="0.2"/>
<rect x="795" y="636" width="132" height="137" filter="url(#grain)" style="mix-blend-mode:overlay" opacity="0.16"/>
</g>
<rect x="794.9" y="635.5" width="132.2" height="137.5" fill="none" stroke="#fff" stroke-width="3"/>
<rect x="602.5" y="777.7" width="220.2" height="232" fill="none" stroke="#7fd36a" stroke-width="1.3" stroke-dasharray="1.6,1.6"/>
<rect x="455.5" y="1109.5" width="108" height="7.5" fill="#fff" stroke="#333" stroke-width="0.8"/>
<text x="457.5" y="1102.5" font-size="38.5" textLength="102.5" lengthAdjust="spacingAndGlyphs" style="fill:#222;opacity:0.8">20 nm</text><text x="456" y="1101.3" font-size="38.5" textLength="102.5" lengthAdjust="spacingAndGlyphs" style="fill:#fff">20 nm</text>
<rect x="48.5" y="1125.3" width="138" height="3.8" fill="#fff"/>
<line x1="37.5" y1="1140.6" x2="189" y2="1140.6" stroke="#aaa" stroke-width="1"/>
<text x="47.8" y="1117.8" font-size="26" textLength="84" lengthAdjust="spacingAndGlyphs" style="fill:#fff">0.5 μm</text>
<path d="M376,1066.5 L384.3,1083 L367.7,1083Z M374.8,1082 H377.2 V1100.5 H374.8Z" fill="#f8f2d8"/>
<text x="376.5" y="1126.5" font-size="20.5" text-anchor="middle" style="fill:#f8f2d8">[0001]</text>
<rect x="215.6" y="694.8" width="50.3" height="13.4" fill="none" stroke="#7c7c7c" stroke-width="1.8"/>
<text x="192.5" y="710.8" font-size="25.5" font-weight="bold" text-anchor="middle" style="fill:#7c7c7c">6</text>
<rect x="216.2" y="764.3" width="51.5" height="13.7" fill="none" stroke="#b0101e" stroke-width="2.5"/>
<text x="192.5" y="780.4" font-size="25.5" font-weight="bold" text-anchor="middle" style="fill:#a06c4a">5</text>
<rect x="215.6" y="795.4" width="52.4" height="14.8" fill="none" stroke="#f7bd1c" stroke-width="2.5"/>
<text x="192.5" y="812.1" font-size="25.5" font-weight="bold" text-anchor="middle" style="fill:#f7bd1c">4</text>
<rect x="215.5" y="858.7" width="50.5" height="13.7" fill="none" stroke="#86e3cb" stroke-width="1.8"/>
<text x="192.5" y="874.9" font-size="25.5" font-weight="normal" text-anchor="middle" style="fill:#86e3cb">3</text>
<rect x="214.2" y="914.5" width="52" height="14" fill="none" stroke="#27a6de" stroke-width="1.8"/>
<text x="192.5" y="930.8" font-size="25.5" font-weight="bold" text-anchor="middle" style="fill:#27a6de">2</text>
<rect x="214.2" y="1052.5" width="51.8" height="13.5" fill="none" stroke="#ee8fa0" stroke-width="1.8"/>
<text x="192.5" y="1068.5" font-size="25.5" font-weight="normal" text-anchor="middle" style="fill:#ee8fa0">1</text>
<rect x="256.4" y="772.4" width="30.8" height="30.7" fill="none" stroke="#e21d1d" stroke-width="2" stroke-dasharray="5,3"/>
<path d="M287.2,772.4 L427,629.2 M287.2,803.1 L425,1142.6" stroke="#d42424" stroke-width="1.9" fill="none"/>
</g>
<g id="pd">
<text x="997" y="624.5" font-size="34" font-weight="bold">d</text>
<g fill="none" stroke-width="2.9" stroke-linejoin="round" clip-path="url(#clipD)">
<path d="M1089.1,1052.7 1089.9,1054.3 1090.7,1052.9 1091.5,1051.6 1092.3,1054.2 1093.1,1052.5 1093.9,1052.9 1094.7,1054.1 1095.5,1056.8 1096.3,1051.7 1097.1,1053.0 1097.9,1053.4 1098.7,1052.3 1099.5,1053.6 1100.3,1054.4 1101.1,1053.0 1101.9,1051.9 1102.7,1053.1 1103.5,1051.4 1104.3,1051.2 1105.1,1050.7 1105.9,1051.1 1106.7,1049.8 1107.5,1051.9 1108.3,1049.6 1109.1,1050.9 1109.9,1049.0 1110.7,1047.4 1111.5,1047.3 1112.3,1047.8 1113.1,1047.4 1113.9,1049.3 1114.7,1049.0 1115.5,1046.0 1116.3,1046.5 1117.1,1047.1 1117.9,1045.8 1118.7,1046.9 1119.5,1045.6 1120.3,1046.9 1121.1,1045.6 1121.9,1049.0 1122.7,1045.6 1123.5,1045.4 1124.3,1046.7 1125.1,1044.4 1125.9,1044.0 1126.7,1045.3 1127.5,1046.8 1128.3,1042.6 1129.1,1044.2 1129.9,1043.9 1130.7,1044.4 1131.5,1043.5 1132.3,1044.5 1133.1,1044.9 1133.9,1043.2 1134.7,1042.7 1135.5,1044.2 1136.3,1044.0 1137.1,1040.0 1137.9,1042.1 1138.7,1042.7 1139.5,1044.3 1140.3,1039.0 1141.1,1041.4 1141.9,1039.8 1142.7,1041.0 1143.5,1037.1 1144.3,1041.5 1145.1,1043.7 1145.9,1041.7 1146.7,1041.3 1147.5,1041.2 1148.3,1044.1 1149.1,1040.1 1149.9,1037.4 1150.7,1039.6 1151.5,1040.6 1152.3,1040.4 1153.1,1039.9 1153.9,1038.1 1154.7,1039.2 1155.5,1038.2 1156.3,1036.2 1157.1,1040.2 1157.9,1041.2 1158.7,1040.0 1159.5,1041.7 1160.3,1039.0 1161.1,1039.5 1161.9,1036.5 1162.7,1033.9 1163.5,1035.3 1164.3,1038.3 1165.1,1036.1 1165.9,1034.1 1166.7,1036.7 1167.5,1041.2 1168.3,1040.4 1169.1,1039.3 1169.9,1037.1 1170.7,1035.2 1171.5,1036.6 1172.3,1037.4 1173.1,1036.8 1173.9,1039.3 1174.7,1035.4 1175.5,1035.1 1176.3,1035.3 1177.1,1033.1 1177.9,1035.5 1178.7,1032.8 1179.5,1034.5 1180.3,1034.0 1181.1,1036.1 1181.9,1037.1 1182.7,1031.4 1183.5,1035.5 1184.3,1032.8 1185.1,1035.1 1185.9,1032.6 1186.7,1036.3 1187.5,1037.1 1188.3,1034.1 1189.1,1032.1 1189.9,1032.9 1190.7,1031.2 1191.5,1034.0 1192.3,1035.3 1193.1,1032.6 1193.9,1034.2 1194.7,1034.0 1195.5,1033.0 1196.3,1034.9 1197.1,1033.5 1197.9,1032.5 1198.7,1033.3 1199.5,1033.3 1200.3,1033.4 1201.1,1032.3 1201.9,1033.5 1202.7,1032.5 1203.5,1033.9 1204.3,1035.5 1205.1,1035.1 1205.9,1030.1 1206.7,1030.5 1207.5,1027.4 1208.3,1028.1 1209.1,1028.4 1209.9,1031.3 1210.7,1031.2 1211.5,1028.7 1212.3,1028.2 1213.1,1030.3 1213.9,1031.8 1214.7,1031.0 1215.5,1031.2 1216.3,1030.9 1217.1,1034.8 1217.9,1031.8 1218.7,1029.8 1219.5,1028.4 1220.3,1028.2 1221.1,1029.3 1221.9,1027.4 1222.7,1032.5 1223.5,1031.4 1224.3,1030.6 1225.1,1030.7 1225.9,1028.9 1226.7,1029.1 1227.5,1027.3 1228.3,1026.4 1229.1,1026.2 1229.9,1030.1 1230.7,1027.4 1231.5,1027.8 1232.3,1027.0 1233.1,1031.7 1233.9,1027.2 1234.7,1026.9 1235.5,1025.9 1236.3,1026.9 1237.1,1027.1 1237.9,1030.1 1238.7,1025.0 1239.5,1029.4 1240.3,1027.4 1241.1,1021.5 1241.9,1025.2 1242.7,1028.7 1243.5,1027.2 1244.3,1025.8 1245.1,1024.9 1245.9,1025.5 1246.7,1027.1 1247.5,1025.7 1248.3,1028.1 1249.1,1028.8 1249.9,1025.8 1250.7,1026.9 1251.5,1022.6 1252.3,1023.9 1253.1,1026.9 1253.9,1026.0 1254.7,1026.9 1255.5,1025.1 1256.3,1025.1 1257.1,1023.3 1257.9,1022.1 1258.7,1026.0 1259.5,1024.7 1260.3,1026.5 1261.1,1023.1 1261.9,1025.9 1262.7,1022.3 1263.5,1023.1 1264.3,1022.4 1265.1,1023.1 1265.9,1020.9 1266.7,1022.9 1267.5,1020.5 1268.3,1019.2 1269.1,1019.7 1269.9,1019.6 1270.7,1021.3 1271.5,1020.8 1272.3,1021.0 1273.1,1017.8 1273.9,1015.4 1274.7,1022.5 1275.5,1018.1 1276.3,1017.7 1277.1,1017.4 1277.9,1011.7 1278.7,1017.0 1279.5,1018.1 1280.3,1020.2 1281.1,1020.4 1281.9,1013.5 1282.7,1017.5 1283.5,1017.7 1284.3,1014.3 1285.1,1013.7 1285.9,1014.7 1286.7,1016.3 1287.5,1014.7 1288.3,1018.2 1289.1,1016.8 1289.9,1017.7 1290.7,1018.3 1291.5,1019.2 1292.3,1015.5 1293.1,1020.3 1293.9,1016.1 1294.7,1015.0 1295.5,1016.3 1296.3,1015.8 1297.1,1011.4 1297.9,1014.7 1298.7,1017.4 1299.5,1015.0 1300.3,1015.9 1301.1,1017.4 1301.9,1014.6 1302.7,1014.7 1303.5,1015.9 1304.3,1015.5 1305.1,1013.7 1305.9,1013.7 1306.7,1012.6 1307.5,1013.4 1308.3,1016.0 1309.1,1015.3 1309.9,1015.5 1310.7,1014.9 1311.5,1018.5 1312.3,1016.7 1313.1,1018.0 1313.9,1015.9 1314.7,1012.3 1315.5,1012.6 1316.3,1016.0 1317.1,1016.3 1317.9,1017.3 1318.7,1014.8 1319.5,1012.6 1320.3,1015.5 1321.1,1016.6 1321.9,1016.6 1322.7,1016.2 1323.5,1013.6 1324.3,1015.3 1325.1,1013.6 1325.9,1014.3 1326.7,1014.8 1327.5,1014.6 1328.3,1019.3 1329.1,1015.4 1329.9,1015.9 1330.7,1012.1 1331.5,1011.9 1332.3,1013.4 1333.1,1016.3 1333.9,1015.4 1334.7,1015.9 1335.5,1019.3 1336.3,1017.3 1337.1,1014.7 1337.9,1016.7 1338.7,1012.8 1339.5,1012.8 1340.3,1018.7 1341.1,1014.7 1341.9,1013.7 1342.7,1015.1 1343.5,1013.7 1344.3,1011.9 1345.1,1012.2 1345.9,1013.3 1346.7,1013.7 1347.5,1012.7 1348.3,1013.4 1349.1,1011.7 1349.9,1012.8 1350.7,1013.2 1351.5,1015.5 1352.3,1015.3 1353.1,1014.6 1353.9,1012.9 1354.7,1012.9 1355.5,1009.9 1356.3,1014.8 1357.1,1010.5 1357.9,1013.9 1358.7,1013.0 1359.5,1011.7 1360.3,1016.6 1361.1,1016.7 1361.9,1014.7 1362.7,1013.7 1363.5,1014.4 1364.3,1016.2 1365.1,1012.9 1365.9,1015.3 1366.7,1014.2 1367.5,1012.7 1368.3,1015.6 1369.1,1012.9 1369.9,1012.5 1370.7,1012.0 1371.5,1012.7 1372.3,1011.1 1373.1,1014.3 1373.9,1013.0 1374.7,1013.4 1375.5,1014.9 1376.3,1011.2 1377.1,1010.6 1377.9,1009.5 1378.7,1009.3 1379.5,1015.0 1380.3,1015.7 1381.1,1014.1 1381.9,1012.8 1382.7,1009.8 1383.5,1013.6 1384.3,1012.8 1385.1,1011.1 1385.9,1011.4 1386.7,1012.4 1387.5,1011.5 1388.3,1011.7 1389.1,1009.6 1389.9,1010.4 1390.7,1011.4 1391.5,1012.0 1392.3,1014.1 1393.1,1011.2 1393.9,1012.2 1394.7,1011.9 1395.5,1011.3 1396.3,1008.6 1397.1,1013.9 1397.9,1007.5 1398.7,1013.8 1399.5,1013.8 1400.3,1011.9 1401.1,1013.5 1401.9,1011.7 1402.7,1012.6 1403.5,1009.4 1404.3,1009.7 1405.1,1011.9 1405.9,1011.5 1406.7,1012.2 1407.5,1012.6 1408.3,1010.6 1409.1,1012.8 1409.9,1009.5 1410.7,1011.5 1411.5,1011.6 1412.3,1011.0 1413.1,1008.9 1413.9,1012.9 1414.7,1007.3 1415.5,1009.7 1416.3,1013.9 1417.1,1013.1 1417.9,1012.5 1418.7,1011.0 1419.5,1010.2 1420.3,1009.5 1421.1,1010.5 1421.9,1009.4 1422.7,1010.2 1423.5,1009.6 1424.3,1007.6 1425.1,1011.8 1425.9,1011.5 1426.7,1008.2 1427.5,1007.6 1428.3,1008.6 1429.1,1009.2 1429.9,1012.4 1430.7,1010.3 1431.5,1012.3 1432.3,1010.9 1433.1,1012.9 1433.9,1013.1 1434.7,1011.7 1435.5,1009.4 1436.3,1013.0 1437.1,1009.6 1437.9,1013.2 1438.7,1010.9 1439.5,1011.3 1440.3,1008.9 1441.1,1008.8 1441.9,1010.0 1442.7,1012.2 1443.5,1012.5 1444.3,1008.0 1445.1,1011.8 1445.9,1009.3 1446.7,1011.1 1447.5,1008.5 1448.3,1011.1 1449.1,1009.8 1449.9,1011.0 1450.7,1009.3 1451.5,1007.6 1452.3,1009.9 1453.1,1010.8 1453.9,1014.0 1454.7,1013.2 1455.5,1008.9 1456.3,1014.1 1457.1,1011.5 1457.9,1010.2 1458.7,1007.6 1459.5,1011.9 1460.3,1011.3 1461.1,1012.4 1461.9,1015.1 1462.7,1012.9 1463.5,1012.6 1464.3,1012.2 1465.1,1009.8 1465.9,1011.5 1466.7,1011.1 1467.5,1012.3 1468.3,1010.5 1469.1,1011.3 1469.9,1010.9 1470.7,1010.6 1471.5,1011.3 1472.3,1014.7 1473.1,1010.6 1473.9,1012.6 1474.7,1013.6 1475.5,1010.2 1476.3,1014.0 1477.1,1013.3 1477.9,1014.5 1478.7,1012.8 1479.5,1011.9 1480.3,1012.0 1481.1,1015.4 1481.9,1010.9 1482.7,1013.7 1483.5,1012.3 1484.3,1011.3 1485.1,1010.2 1485.9,1010.2 1486.7,1011.7 1487.5,1011.1 1488.3,1013.2 1489.1,1011.9 1489.9,1014.1 1490.7,1013.7 1491.5,1005.8 1492.3,1009.9 1493.1,1011.5 1493.9,1013.2 1494.7,1011.4 1495.5,1009.5 1496.3,1011.7 1497.1,1013.4 1497.9,1009.6 1498.7,1012.0 1499.5,1011.1 1500.3,1013.5 1501.1,1010.3 1501.9,1012.2 1502.7,1008.9 1503.5,1013.5 1504.3,1010.2 1505.1,1007.9 1505.9,1009.4 1506.7,1007.2 1507.5,1008.1 1508.3,1013.5 1509.1,1009.1 1509.9,1008.2 1510.7,1011.3 1511.5,1011.6 1512.3,1009.0 1513.1,1008.9 1513.9,1008.9 1514.7,1010.0 1515.5,1011.6 1516.3,1007.5 1517.1,1010.7 1517.9,1011.8 1518.7,1009.5 1519.5,1013.0 1520.3,1013.5 1521.1,1011.9 1521.9,1013.4 1522.7,1010.8 1523.5,1011.6 1524.3,1010.7 1525.1,1013.2 1525.9,1010.2 1526.7,1010.8 1527.5,1012.3 1528.3,1012.5 1529.1,1012.1 1529.9,1006.6 1530.7,1009.0 1531.5,1014.3 1532.3,1010.1 1533.1,1009.1 1533.9,1011.7 1534.7,1008.1 1535.5,1012.6 1536.3,1009.5 1537.1,1013.1 1537.9,1008.9 1538.7,1011.3 1539.5,1011.4 1540.3,1011.2 1541.1,1012.6 1541.9,1009.0 1542.7,1009.8 1543.5,1012.9 1544.3,1009.5 1545.1,1009.3 1545.9,1013.0 1546.7,1010.7 1547.5,1011.2 1548.3,1011.3 1549.1,1008.6 1549.9,1009.4 1550.7,1013.2 1551.5,1016.1 1552.3,1013.4 1553.1,1008.3 1553.9,1010.1 1554.7,1014.2 1555.5,1013.5 1556.3,1012.8 1557.1,1011.0 1557.9,1012.4 1558.7,1015.8 1559.5,1012.7 1560.3,1008.1 1561.1,1011.6 1561.9,1012.0 1562.7,1013.4 1563.5,1009.7 1564.3,1011.4 1565.1,1011.7 1565.9,1013.9 1566.7,1017.3 1567.5,1016.3 1568.3,1016.7 1569.1,1014.3 1569.9,1014.9 1570.7,1010.5 1571.5,1013.1 1572.3,1015.8 1573.1,1013.6 1573.9,1014.4 1574.7,1014.0 1575.5,1014.6 1576.3,1015.2 1577.1,1013.9 1577.9,1013.7 1578.7,1016.1 1579.5,1018.5 1580.3,1015.8 1581.1,1013.0 1581.9,1014.8 1582.7,1015.0 1583.5,1017.9 1584.3,1018.5 1585.1,1015.0 1585.9,1013.2 1586.7,1013.3 1587.5,1018.2 1588.3,1016.7 1589.1,1018.0 1589.9,1016.2 1590.7,1019.5 1591.5,1017.7 1592.3,1021.6 1593.1,1016.9 1593.9,1019.9 1594.7,1018.2 1595.5,1016.8 1596.3,1015.9 1597.1,1016.6 1597.9,1018.4 1598.7,1017.9 1599.5,1018.9 1600.3,1019.7 1601.1,1022.2 1601.9,1020.3 1602.7,1018.2 1603.5,1021.8 1604.3,1018.0 1605.1,1018.9 1605.9,1019.8 1606.7,1017.9 1607.5,1017.7 1608.3,1017.8 1609.1,1021.8 1609.9,1022.2 1610.7,1018.3 1611.5,1020.2 1612.3,1021.0 1613.1,1021.8 1613.9,1020.3 1614.7,1019.5 1615.5,1021.7 1616.3,1021.7 1617.1,1022.7 1617.9,1021.4 1618.7,1019.8 1619.5,1021.7 1620.3,1023.6 1621.1,1021.9 1621.9,1022.9 1622.7,1021.7 1623.5,1023.3 1624.3,1022.8 1625.1,1021.9 1625.9,1024.9 1626.7,1023.2 1627.5,1025.5 1628.3,1021.8 1629.1,1022.7 1629.9,1025.7 1630.7,1019.0 1631.5,1024.2 1632.3,1025.8 1633.1,1026.1 1633.9,1023.6 1634.7,1023.3 1635.5,1025.5 1636.3,1024.9 1637.1,1024.1 1637.9,1024.2 1638.7,1023.9 1639.5,1022.5 1640.3,1025.5 1641.1,1024.8 1641.9,1026.1 1642.7,1023.9 1643.5,1023.9 1644.3,1025.2 1645.1,1028.7 1645.9,1026.5 1646.7,1027.8 1647.5,1025.6 1648.3,1027.0 1649.1,1025.1 1649.9,1025.5 1650.7,1028.8 1651.5,1025.9 1652.3,1025.9 1653.1,1028.2 1653.9,1027.2 1654.7,1027.3 1655.5,1028.6 1656.3,1027.3 1657.1,1025.4 1657.9,1029.4 1658.7,1029.7 1659.5,1026.9 1660.3,1026.9 1661.1,1026.5 1661.9,1030.3 1662.7,1028.8 1663.5,1026.0 1664.3,1028.4 1665.1,1026.5 1665.9,1025.1 1666.7,1030.9 1667.5,1030.6 1668.3,1027.9 1669.1,1029.6 1669.9,1025.7 1670.7,1029.4 1671.5,1029.5 1672.3,1032.3 1673.1,1031.2 1673.9,1030.8 1674.7,1027.1 1675.5,1029.0 1676.3,1030.5 1677.1,1031.6 1677.9,1032.4 1678.7,1030.4 1679.5,1032.7 1680.3,1031.8 1681.1,1031.8 1681.9,1031.3 1682.7,1032.2 1683.5,1032.7 1684.3,1030.2 1685.1,1030.4 1685.9,1032.5 1686.7,1033.2 1687.5,1032.7 1688.3,1033.0 1689.1,1032.3 1689.9,1033.0 1690.7,1034.2 1691.5,1035.9 1692.3,1034.4 1693.1,1035.7 1693.9,1035.7 1694.7,1034.4 1695.5,1033.2 1696.3,1036.4 1697.1,1035.4 1697.9,1033.9 1698.7,1035.4 1699.5,1035.7 1700.3,1032.0 1701.1,1036.5 1701.9,1032.5 1702.7,1034.5 1703.5,1034.1 1704.3,1033.7 1705.1,1037.1 1705.9,1037.2 1706.7,1034.8 1707.5,1036.1 1708.3,1035.0 1709.1,1034.4 1709.9,1034.3 1710.7,1036.1 1711.5,1038.0 1712.3,1036.6 1713.1,1037.1 1713.9,1036.4 1714.7,1035.7 1715.5,1034.6 1716.3,1036.8 1717.1,1036.6 1717.9,1040.8 1718.7,1037.7 1719.5,1041.5 1720.3,1039.4 1721.1,1040.2 1721.9,1038.0 1722.7,1040.2 1723.5,1040.8 1724.3,1040.7 1725.1,1038.3 1725.9,1036.7 1726.7,1037.7 1727.5,1036.2 1728.3,1037.1 1729.1,1036.6 1729.9,1038.7 1730.7,1036.0 1731.5,1041.7 1732.3,1039.6 1733.1,1041.4 1733.9,1039.3 1734.7,1043.6 1735.5,1038.4 1736.3,1042.6 1737.1,1041.4 1737.9,1038.6 1738.7,1039.5 1739.5,1038.9 1740.3,1041.6 1741.1,1040.8 1741.9,1043.6 1742.7,1041.6 1743.5,1042.5 1744.3,1042.2 1745.1,1043.7 1745.9,1039.8 1746.7,1043.1 1747.5,1043.4 1748.3,1040.4 1749.1,1045.0 1749.9,1043.5 1750.7,1042.2 1751.5,1042.9 1752.3,1043.7 1753.1,1040.8 1753.9,1040.8 1754.7,1042.5 1755.5,1045.2 1756.3,1041.0 1757.1,1041.3 1757.9,1044.2 1758.7,1042.4 1759.5,1044.6 1760.3,1044.7 1761.1,1040.6 1761.9,1044.3 1762.7,1041.7 1763.5,1045.8 1764.3,1042.7 1765.1,1041.0 1765.9,1044.1 1766.7,1045.4 1767.5,1046.0 1768.3,1046.1 1769.1,1045.3 1769.9,1045.7 1770.7,1044.5 1771.5,1043.1 1772.3,1045.3 1773.1,1048.0 1773.9,1047.2 1774.7,1047.1 1775.5,1045.9 1776.3,1045.4 1777.1,1045.2 1777.9,1047.2 1778.7,1046.4 1779.5,1046.3 1780.3,1047.2 1781.1,1046.3 1781.9,1046.8 1782.7,1049.9 1783.5,1049.1 1784.3,1046.3 1785.1,1044.9 1785.9,1047.5 1786.7,1046.0 1787.5,1048.2 1788.3,1045.7 1789.1,1049.5 1789.9,1048.9 1790.7,1046.2 1791.5,1046.3 1792.3,1045.8 1793.1,1051.4 1793.9,1048.4 1794.7,1051.4 1795.5,1045.1 1796.3,1050.3 1797.1,1048.2 1797.9,1049.3 1798.7,1048.8 1799.5,1045.0 1800.3,1043.1 1801.1,1047.7 1801.9,1049.6 1802.7,1048.9 1803.5,1049.9 1804.3,1050.0 1805.1,1051.0 1805.9,1051.1 1806.7,1052.6 1807.5,1053.2 1808.3,1050.4 1809.1,1050.2 1809.9,1050.3 1810.7,1047.9 1811.5,1048.3 1812.3,1050.1 1813.1,1051.8 1813.9,1050.1 1814.7,1054.0 1815.5,1054.0 1816.3,1050.5 1817.1,1051.2 1817.9,1051.8 1818.7,1048.4 1819.5,1050.6 1820.3,1047.6 1821.1,1053.2 1821.9,1050.9 1822.7,1050.3 1823.5,1051.5 1824.3,1051.9 1825.1,1052.7 1825.9,1052.9 1826.7,1050.7 1827.5,1050.2 1828.3,1047.7 1829.1,1050.4 1829.9,1052.1 1830.7,1050.2 1831.5,1051.8 1832.3,1051.6 1833.1,1050.7 1833.9,1050.1 1834.7,1054.2 1835.5,1051.4 1836.3,1054.2 1837.1,1051.3 1837.9,1054.5 1838.7,1050.9 1839.5,1054.5 1840.3,1052.9 1841.1,1051.3 1841.9,1052.7 1842.7,1052.4 1843.5,1054.8 1844.3,1051.6 1845.1,1052.4 1845.9,1053.5 1846.7,1050.9 1847.5,1051.1 1848.3,1051.6 1849.1,1052.5 1849.9,1050.9 1850.7,1054.6 1851.5,1052.6 1852.3,1052.5 1853.1,1050.0 1853.9,1053.4 1854.7,1053.2 1855.5,1050.6 1856.3,1056.3 1857.1,1054.7 1857.9,1048.7 1858.7,1053.0 1859.5,1049.9 1860.3,1053.4 1861.1,1052.2 1861.9,1050.9 1862.7,1052.2 1863.5,1054.2 1864.3,1054.1 1865.1,1050.0 1865.9,1050.5 1866.7,1051.2 1867.5,1055.2 1868.3,1053.4 1869.1,1053.4 1869.9,1057.2 1870.7,1051.2 1871.5,1051.8 1872.3,1050.1 1873.1,1051.3 1873.9,1055.1 1874.7,1053.2 1875.5,1051.6 1876.3,1052.8 1877.1,1055.0 1877.9,1054.8 1878.7,1055.4 1879.5,1050.1 1880.3,1050.8 1881.1,1055.4 1881.9,1054.4 1882.7,1054.3 1883.5,1053.7 1884.3,1052.8 1885.1,1053.1 1885.9,1056.3 1886.7,1053.7 1887.5,1055.3 1888.3,1052.4 1889.1,1052.4 1889.9,1050.5 1890.7,1052.9 1891.5,1054.0 1892.3,1052.3 1893.1,1057.4 1893.9,1053.9 1894.7,1054.1 1895.5,1057.4 1896.3,1054.5 1897.1,1055.5 1897.9,1054.6 1898.7,1052.2 1899.5,1050.6 1900.3,1054.0 1901.1,1051.1 1901.9,1050.8 1902.7,1053.7 1903.5,1052.6 1904.3,1050.7 1905.1,1056.1 1905.9,1057.2 1906.7,1056.5 1907.5,1056.1 1908.3,1053.5 1909.1,1055.9 1909.9,1054.5 1910.7,1053.7 1911.5,1055.0 1912.3,1056.5 1913.1,1055.0 1913.9,1054.0 1914.7,1054.7 1915.5,1053.9 1916.3,1055.5 1917.1,1057.0 1917.9,1055.9 1918.7,1056.1 1919.5,1054.1 1920.3,1057.1 1921.1,1057.6 1921.9,1057.3 1922.7,1055.6 1923.5,1053.6 1924.3,1057.0 1925.1,1055.8 1925.9,1053.8 1926.7,1056.2 1927.5,1054.7 1928.3,1056.0 1929.1,1054.1 1929.9,1052.1 1930.7,1053.2 1931.5,1055.6 1932.3,1055.6 1933.1,1053.7 1933.9,1052.8 1934.7,1057.2 1935.5,1057.3 1936.3,1054.5 1937.1,1052.1 1937.9,1056.8 1938.7,1054.9 1939.5,1057.5 1940.3,1054.9 1941.1,1055.0 1941.9,1055.3 1942.7,1053.0 1943.5,1052.6 1944.3,1056.0 1945.1,1053.8 1945.9,1055.2 1946.7,1057.3 1947.5,1054.3 1948.3,1054.2 1949.1,1055.1 1949.9,1054.3 1950.7,1054.6 1951.5,1053.6 1952.3,1057.1 1953.1,1053.6 1953.9,1053.0 1954.7,1053.9 1955.5,1057.6 1956.3,1054.4 1957.1,1056.9 1957.9,1053.5 1958.7,1053.4 1959.5,1056.4 1960.3,1055.3 1961.1,1054.2 1961.9,1057.5 1962.7,1058.0 1963.5,1055.1 1964.3,1056.3 1965.1,1055.3 1965.9,1055.4 1966.7,1057.5 1967.5,1053.8 1968.3,1051.7 1969.1,1056.6 1969.9,1053.5 1970.7,1054.7 1971.5,1055.4 1972.3,1055.2" stroke="#7f7f7f"/>
<path d="M1089.1,1029.7 1089.9,1032.9 1090.7,1034.8 1091.5,1027.3 1092.3,1028.7 1093.1,1028.2 1093.9,1029.8 1094.7,1029.4 1095.5,1025.4 1096.3,1028.7 1097.1,1029.7 1097.9,1031.9 1098.7,1026.8 1099.5,1028.9 1100.3,1024.7 1101.1,1021.5 1101.9,1025.3 1102.7,1020.4 1103.5,1024.6 1104.3,1024.3 1105.1,1024.8 1105.9,1019.5 1106.7,1021.3 1107.5,1020.1 1108.3,1022.9 1109.1,1024.2 1109.9,1018.5 1110.7,1014.3 1111.5,1015.3 1112.3,1016.5 1113.1,1013.1 1113.9,1022.1 1114.7,1022.2 1115.5,1014.1 1116.3,1016.7 1117.1,1015.1 1117.9,1016.7 1118.7,1017.2 1119.5,1012.0 1120.3,1015.0 1121.1,1007.9 1121.9,1009.8 1122.7,1014.6 1123.5,1006.6 1124.3,1004.8 1125.1,1004.7 1125.9,1004.6 1126.7,1006.1 1127.5,1005.1 1128.3,1005.4 1129.1,1003.4 1129.9,1002.7 1130.7,1001.8 1131.5,1001.1 1132.3,999.2 1133.1,1002.7 1133.9,1008.6 1134.7,998.4 1135.5,999.9 1136.3,995.6 1137.1,992.9 1137.9,989.1 1138.7,997.3 1139.5,994.3 1140.3,990.0 1141.1,994.8 1141.9,998.2 1142.7,991.3 1143.5,988.6 1144.3,988.9 1145.1,992.2 1145.9,998.4 1146.7,990.3 1147.5,993.4 1148.3,985.3 1149.1,984.5 1149.9,985.1 1150.7,985.2 1151.5,988.5 1152.3,992.5 1153.1,990.8 1153.9,985.0 1154.7,985.4 1155.5,985.9 1156.3,984.4 1157.1,984.0 1157.9,990.4 1158.7,983.6 1159.5,987.5 1160.3,983.9 1161.1,985.2 1161.9,982.3 1162.7,988.2 1163.5,986.5 1164.3,985.8 1165.1,981.5 1165.9,984.1 1166.7,977.7 1167.5,977.0 1168.3,981.0 1169.1,980.3 1169.9,977.1 1170.7,979.0 1171.5,982.1 1172.3,974.3 1173.1,976.6 1173.9,977.6 1174.7,971.2 1175.5,976.1 1176.3,981.1 1177.1,974.6 1177.9,976.6 1178.7,974.0 1179.5,978.3 1180.3,978.3 1181.1,978.4 1181.9,979.8 1182.7,972.9 1183.5,979.2 1184.3,979.3 1185.1,973.0 1185.9,974.6 1186.7,971.4 1187.5,971.1 1188.3,973.4 1189.1,974.0 1189.9,973.3 1190.7,969.5 1191.5,974.3 1192.3,974.7 1193.1,977.0 1193.9,976.8 1194.7,973.8 1195.5,975.0 1196.3,971.7 1197.1,976.1 1197.9,969.4 1198.7,968.9 1199.5,969.6 1200.3,968.0 1201.1,968.4 1201.9,972.2 1202.7,978.4 1203.5,970.7 1204.3,973.0 1205.1,972.2 1205.9,976.2 1206.7,975.4 1207.5,969.1 1208.3,972.0 1209.1,977.5 1209.9,974.6 1210.7,966.0 1211.5,965.8 1212.3,969.1 1213.1,969.4 1213.9,973.3 1214.7,974.3 1215.5,972.7 1216.3,974.5 1217.1,975.2 1217.9,973.5 1218.7,965.1 1219.5,974.9 1220.3,971.2 1221.1,969.1 1221.9,968.1 1222.7,965.0 1223.5,965.0 1224.3,966.5 1225.1,970.4 1225.9,969.3 1226.7,964.8 1227.5,971.7 1228.3,970.7 1229.1,968.8 1229.9,970.0 1230.7,969.3 1231.5,968.6 1232.3,966.8 1233.1,965.0 1233.9,967.5 1234.7,964.4 1235.5,965.3 1236.3,969.0 1237.1,968.6 1237.9,965.2 1238.7,967.7 1239.5,967.1 1240.3,965.7 1241.1,968.9 1241.9,965.0 1242.7,967.1 1243.5,962.3 1244.3,962.7 1245.1,962.4 1245.9,959.1 1246.7,965.0 1247.5,965.6 1248.3,964.9 1249.1,962.5 1249.9,963.7 1250.7,958.1 1251.5,957.4 1252.3,955.0 1253.1,960.7 1253.9,960.5 1254.7,959.7 1255.5,957.9 1256.3,963.1 1257.1,965.4 1257.9,964.0 1258.7,956.4 1259.5,961.4 1260.3,959.8 1261.1,960.5 1261.9,964.1 1262.7,957.4 1263.5,960.3 1264.3,960.1 1265.1,961.6 1265.9,960.9 1266.7,960.5 1267.5,963.4 1268.3,962.4 1269.1,966.5 1269.9,968.7 1270.7,960.9 1271.5,958.0 1272.3,968.3 1273.1,958.7 1273.9,960.1 1274.7,957.1 1275.5,964.8 1276.3,968.8 1277.1,959.5 1277.9,960.2 1278.7,960.3 1279.5,963.0 1280.3,966.8 1281.1,969.3 1281.9,964.6 1282.7,965.3 1283.5,964.4 1284.3,960.5 1285.1,962.3 1285.9,959.4 1286.7,962.0 1287.5,966.4 1288.3,962.1 1289.1,963.7 1289.9,968.0 1290.7,963.9 1291.5,968.1 1292.3,969.2 1293.1,964.9 1293.9,966.8 1294.7,964.5 1295.5,971.8 1296.3,968.9 1297.1,966.5 1297.9,975.9 1298.7,969.7 1299.5,966.6 1300.3,968.0 1301.1,967.9 1301.9,968.1 1302.7,967.6 1303.5,970.9 1304.3,963.7 1305.1,969.6 1305.9,967.2 1306.7,971.3 1307.5,965.9 1308.3,971.6 1309.1,967.8 1309.9,968.7 1310.7,975.5 1311.5,972.2 1312.3,967.5 1313.1,969.2 1313.9,971.0 1314.7,968.8 1315.5,971.4 1316.3,977.0 1317.1,973.7 1317.9,975.6 1318.7,974.2 1319.5,972.6 1320.3,978.6 1321.1,975.0 1321.9,975.1 1322.7,977.9 1323.5,976.6 1324.3,972.1 1325.1,976.9 1325.9,971.7 1326.7,973.6 1327.5,969.3 1328.3,971.9 1329.1,971.7 1329.9,972.9 1330.7,975.3 1331.5,978.6 1332.3,976.9 1333.1,978.3 1333.9,978.9 1334.7,979.2 1335.5,981.0 1336.3,978.2 1337.1,977.8 1337.9,974.7 1338.7,976.4 1339.5,976.6 1340.3,978.9 1341.1,979.7 1341.9,981.6 1342.7,983.0 1343.5,980.4 1344.3,980.2 1345.1,980.5 1345.9,978.0 1346.7,986.3 1347.5,984.4 1348.3,986.6 1349.1,985.7 1349.9,985.5 1350.7,983.3 1351.5,980.5 1352.3,979.6 1353.1,984.7 1353.9,981.5 1354.7,981.3 1355.5,987.1 1356.3,984.1 1357.1,980.3 1357.9,982.3 1358.7,983.4 1359.5,986.6 1360.3,984.6 1361.1,984.7 1361.9,983.2 1362.7,985.4 1363.5,987.3 1364.3,984.5 1365.1,987.3 1365.9,986.6 1366.7,991.6 1367.5,987.3 1368.3,989.4 1369.1,988.7 1369.9,986.3 1370.7,986.1 1371.5,987.5 1372.3,994.7 1373.1,989.3 1373.9,993.9 1374.7,992.7 1375.5,989.4 1376.3,985.2 1377.1,984.8 1377.9,982.6 1378.7,992.4 1379.5,987.2 1380.3,985.7 1381.1,987.4 1381.9,988.2 1382.7,987.8 1383.5,985.6 1384.3,985.7 1385.1,985.7 1385.9,990.1 1386.7,991.2 1387.5,985.7 1388.3,993.8 1389.1,984.5 1389.9,993.2 1390.7,992.0 1391.5,985.8 1392.3,993.2 1393.1,992.3 1393.9,993.6 1394.7,996.6 1395.5,993.4 1396.3,990.3 1397.1,988.7 1397.9,991.5 1398.7,986.1 1399.5,988.0 1400.3,990.2 1401.1,996.8 1401.9,989.3 1402.7,995.5 1403.5,993.7 1404.3,999.1 1405.1,996.3 1405.9,996.1 1406.7,989.1 1407.5,996.9 1408.3,995.8 1409.1,994.3 1409.9,1000.1 1410.7,988.8 1411.5,992.9 1412.3,995.2 1413.1,994.2 1413.9,995.3 1414.7,997.6 1415.5,1000.4 1416.3,992.5 1417.1,998.3 1417.9,993.9 1418.7,991.3 1419.5,997.7 1420.3,997.2 1421.1,998.6 1421.9,992.5 1422.7,994.4 1423.5,997.5 1424.3,999.6 1425.1,999.7 1425.9,1002.0 1426.7,995.4 1427.5,993.4 1428.3,998.5 1429.1,998.8 1429.9,995.3 1430.7,1000.5 1431.5,993.5 1432.3,994.2 1433.1,997.5 1433.9,997.6 1434.7,999.0 1435.5,996.7 1436.3,992.2 1437.1,995.6 1437.9,999.3 1438.7,992.3 1439.5,992.8 1440.3,991.3 1441.1,991.0 1441.9,993.9 1442.7,994.5 1443.5,993.5 1444.3,991.8 1445.1,993.7 1445.9,991.5 1446.7,996.5 1447.5,990.7 1448.3,989.4 1449.1,988.0 1449.9,993.7 1450.7,991.0 1451.5,996.6 1452.3,991.3 1453.1,989.0 1453.9,991.7 1454.7,988.9 1455.5,985.6 1456.3,984.8 1457.1,992.6 1457.9,987.8 1458.7,979.5 1459.5,983.0 1460.3,986.4 1461.1,984.8 1461.9,982.6 1462.7,981.7 1463.5,979.4 1464.3,982.2 1465.1,982.0 1465.9,981.4 1466.7,981.4 1467.5,978.7 1468.3,975.6 1469.1,988.3 1469.9,984.3 1470.7,980.3 1471.5,986.2 1472.3,985.1 1473.1,980.2 1473.9,981.9 1474.7,979.9 1475.5,979.4 1476.3,978.7 1477.1,981.1 1477.9,982.5 1478.7,983.5 1479.5,975.0 1480.3,978.1 1481.1,984.9 1481.9,983.3 1482.7,977.6 1483.5,976.8 1484.3,979.3 1485.1,973.9 1485.9,977.9 1486.7,971.1 1487.5,971.4 1488.3,974.1 1489.1,977.1 1489.9,976.6 1490.7,974.7 1491.5,970.3 1492.3,967.7 1493.1,974.6 1493.9,969.7 1494.7,972.3 1495.5,972.8 1496.3,972.0 1497.1,973.4 1497.9,969.5 1498.7,966.8 1499.5,968.2 1500.3,971.0 1501.1,975.4 1501.9,967.8 1502.7,969.9 1503.5,970.4 1504.3,977.9 1505.1,966.0 1505.9,977.7 1506.7,969.1 1507.5,964.0 1508.3,970.2 1509.1,967.5 1509.9,961.7 1510.7,962.7 1511.5,967.2 1512.3,965.7 1513.1,964.7 1513.9,967.4 1514.7,965.5 1515.5,962.6 1516.3,961.1 1517.1,960.2 1517.9,966.0 1518.7,965.5 1519.5,965.0 1520.3,964.5 1521.1,965.8 1521.9,969.4 1522.7,964.6 1523.5,961.0 1524.3,964.5 1525.1,951.6 1525.9,957.0 1526.7,956.3 1527.5,957.4 1528.3,958.4 1529.1,960.1 1529.9,962.1 1530.7,957.8 1531.5,952.9 1532.3,963.1 1533.1,960.8 1533.9,960.0 1534.7,958.7 1535.5,959.1 1536.3,957.8 1537.1,958.0 1537.9,959.7 1538.7,954.1 1539.5,958.9 1540.3,955.6 1541.1,956.1 1541.9,952.3 1542.7,956.5 1543.5,960.2 1544.3,959.3 1545.1,960.0 1545.9,963.2 1546.7,959.2 1547.5,959.6 1548.3,955.9 1549.1,961.4 1549.9,957.5 1550.7,951.4 1551.5,955.3 1552.3,955.8 1553.1,956.5 1553.9,955.3 1554.7,962.0 1555.5,960.9 1556.3,962.7 1557.1,964.8 1557.9,960.0 1558.7,962.5 1559.5,959.5 1560.3,965.7 1561.1,959.9 1561.9,963.5 1562.7,960.1 1563.5,957.5 1564.3,967.1 1565.1,964.6 1565.9,966.1 1566.7,963.4 1567.5,963.7 1568.3,965.8 1569.1,963.6 1569.9,966.4 1570.7,969.9 1571.5,965.1 1572.3,961.5 1573.1,965.6 1573.9,964.5 1574.7,966.6 1575.5,969.6 1576.3,965.6 1577.1,970.0 1577.9,963.7 1578.7,968.0 1579.5,968.2 1580.3,966.7 1581.1,968.7 1581.9,972.0 1582.7,964.1 1583.5,966.5 1584.3,965.9 1585.1,965.2 1585.9,966.2 1586.7,971.5 1587.5,971.9 1588.3,963.3 1589.1,971.3 1589.9,971.1 1590.7,974.4 1591.5,977.1 1592.3,975.1 1593.1,965.4 1593.9,964.8 1594.7,970.6 1595.5,972.3 1596.3,980.5 1597.1,964.9 1597.9,977.1 1598.7,970.2 1599.5,972.5 1600.3,977.9 1601.1,982.6 1601.9,975.0 1602.7,980.4 1603.5,974.8 1604.3,977.2 1605.1,981.1 1605.9,986.9 1606.7,981.2 1607.5,972.2 1608.3,982.9 1609.1,979.2 1609.9,986.6 1610.7,983.5 1611.5,980.3 1612.3,983.6 1613.1,981.4 1613.9,981.0 1614.7,981.4 1615.5,985.3 1616.3,990.6 1617.1,988.5 1617.9,987.8 1618.7,985.6 1619.5,989.5 1620.3,987.8 1621.1,986.7 1621.9,993.7 1622.7,987.8 1623.5,987.7 1624.3,989.8 1625.1,994.8 1625.9,991.9 1626.7,991.2 1627.5,993.2 1628.3,993.8 1629.1,993.0 1629.9,994.1 1630.7,997.8 1631.5,992.5 1632.3,997.9 1633.1,996.5 1633.9,998.3 1634.7,1001.0 1635.5,996.9 1636.3,997.0 1637.1,1001.2 1637.9,997.1 1638.7,997.0 1639.5,1000.7 1640.3,999.4 1641.1,1002.0 1641.9,998.8 1642.7,1000.6 1643.5,1001.5 1644.3,997.6 1645.1,998.9 1645.9,1001.3 1646.7,997.4 1647.5,997.9 1648.3,1005.5 1649.1,1002.4 1649.9,997.5 1650.7,1002.8 1651.5,1004.3 1652.3,1002.3 1653.1,1001.2 1653.9,998.6 1654.7,1003.1 1655.5,1002.5 1656.3,1003.7 1657.1,1006.2 1657.9,1003.4 1658.7,1007.6 1659.5,1005.8 1660.3,1008.9 1661.1,1005.9 1661.9,1004.1 1662.7,1008.6 1663.5,1009.0 1664.3,1011.3 1665.1,1004.9 1665.9,1008.0 1666.7,1010.3 1667.5,1004.2 1668.3,1009.5 1669.1,1012.6 1669.9,1007.9 1670.7,1007.5 1671.5,1009.5 1672.3,1009.7 1673.1,1010.8 1673.9,1009.8 1674.7,1008.5 1675.5,1013.1 1676.3,1007.6 1677.1,1004.5 1677.9,1005.8 1678.7,1010.4 1679.5,1008.2 1680.3,1008.5 1681.1,1014.4 1681.9,1009.4 1682.7,1009.4 1683.5,1012.3 1684.3,1014.1 1685.1,1016.2 1685.9,1017.7 1686.7,1018.3 1687.5,1019.0 1688.3,1015.8 1689.1,1019.2 1689.9,1011.2 1690.7,1015.5 1691.5,1019.7 1692.3,1022.2 1693.1,1011.9 1693.9,1017.2 1694.7,1019.6 1695.5,1016.7 1696.3,1013.7 1697.1,1017.9 1697.9,1019.9 1698.7,1022.1 1699.5,1023.7 1700.3,1019.5 1701.1,1018.9 1701.9,1017.2 1702.7,1024.7 1703.5,1018.0 1704.3,1023.2 1705.1,1023.1 1705.9,1022.8 1706.7,1022.1 1707.5,1025.7 1708.3,1021.0 1709.1,1022.9 1709.9,1020.9 1710.7,1027.5 1711.5,1025.4 1712.3,1027.2 1713.1,1020.9 1713.9,1029.9 1714.7,1029.6 1715.5,1025.1 1716.3,1025.4 1717.1,1022.2 1717.9,1031.6 1718.7,1029.8 1719.5,1027.1 1720.3,1029.6 1721.1,1029.7 1721.9,1031.9 1722.7,1030.1 1723.5,1025.7 1724.3,1033.5 1725.1,1028.9 1725.9,1024.2 1726.7,1030.8 1727.5,1030.6 1728.3,1033.4 1729.1,1033.9 1729.9,1028.6 1730.7,1029.2 1731.5,1037.2 1732.3,1035.1 1733.1,1038.9 1733.9,1036.7 1734.7,1033.0 1735.5,1032.7 1736.3,1033.6 1737.1,1033.4 1737.9,1035.0 1738.7,1032.6 1739.5,1034.5 1740.3,1034.0 1741.1,1036.8 1741.9,1036.2 1742.7,1037.7 1743.5,1033.0 1744.3,1040.3 1745.1,1037.7 1745.9,1035.5 1746.7,1034.4 1747.5,1037.1 1748.3,1039.3 1749.1,1036.3 1749.9,1042.3 1750.7,1036.4 1751.5,1035.4 1752.3,1034.8 1753.1,1037.7 1753.9,1036.7 1754.7,1033.3 1755.5,1037.8 1756.3,1038.0 1757.1,1038.0 1757.9,1036.9 1758.7,1042.2 1759.5,1041.3 1760.3,1038.9 1761.1,1042.7 1761.9,1040.0 1762.7,1035.9 1763.5,1038.4 1764.3,1042.1 1765.1,1040.9 1765.9,1038.4 1766.7,1037.1 1767.5,1036.6 1768.3,1046.9 1769.1,1039.3 1769.9,1040.0 1770.7,1041.4 1771.5,1043.0 1772.3,1042.0 1773.1,1041.4 1773.9,1038.1 1774.7,1039.5 1775.5,1045.7 1776.3,1041.2 1777.1,1042.8 1777.9,1040.8 1778.7,1044.7 1779.5,1044.7 1780.3,1043.9 1781.1,1043.7 1781.9,1043.7 1782.7,1044.9 1783.5,1046.3 1784.3,1043.3 1785.1,1037.9 1785.9,1039.9 1786.7,1042.7 1787.5,1040.8 1788.3,1046.8 1789.1,1046.2 1789.9,1042.8 1790.7,1046.8 1791.5,1043.3 1792.3,1046.7 1793.1,1049.6 1793.9,1045.0 1794.7,1044.9 1795.5,1046.0 1796.3,1044.0 1797.1,1047.0 1797.9,1047.4 1798.7,1046.1 1799.5,1049.1 1800.3,1051.1 1801.1,1050.2 1801.9,1043.9 1802.7,1050.5 1803.5,1047.0 1804.3,1045.5 1805.1,1046.2 1805.9,1048.1 1806.7,1048.5 1807.5,1050.5 1808.3,1050.6 1809.1,1044.9 1809.9,1044.7 1810.7,1047.7 1811.5,1046.2 1812.3,1049.0 1813.1,1047.5 1813.9,1049.1 1814.7,1049.3 1815.5,1049.0 1816.3,1048.7 1817.1,1049.8 1817.9,1048.0 1818.7,1045.6 1819.5,1047.5 1820.3,1049.3 1821.1,1045.5 1821.9,1049.3 1822.7,1051.7 1823.5,1047.6 1824.3,1051.7 1825.1,1052.2 1825.9,1051.2 1826.7,1049.8 1827.5,1049.3 1828.3,1054.6 1829.1,1053.9 1829.9,1049.8 1830.7,1049.2 1831.5,1048.9 1832.3,1055.5 1833.1,1048.8 1833.9,1046.9 1834.7,1055.7 1835.5,1055.2 1836.3,1053.8 1837.1,1049.3 1837.9,1047.0 1838.7,1050.5 1839.5,1052.4 1840.3,1054.3 1841.1,1052.6 1841.9,1050.4 1842.7,1051.2 1843.5,1054.4 1844.3,1053.5 1845.1,1051.8 1845.9,1046.6 1846.7,1052.7 1847.5,1054.6 1848.3,1050.3 1849.1,1052.6 1849.9,1049.5 1850.7,1054.6 1851.5,1054.3 1852.3,1053.0 1853.1,1054.8 1853.9,1052.6 1854.7,1057.4 1855.5,1052.8 1856.3,1056.7 1857.1,1056.0 1857.9,1051.2 1858.7,1054.1 1859.5,1055.3 1860.3,1050.3 1861.1,1054.7 1861.9,1059.2 1862.7,1055.2 1863.5,1057.4 1864.3,1051.3 1865.1,1054.2 1865.9,1058.5 1866.7,1050.5 1867.5,1052.9 1868.3,1055.1 1869.1,1050.2 1869.9,1051.4 1870.7,1058.3 1871.5,1053.3 1872.3,1054.2 1873.1,1053.1 1873.9,1052.7 1874.7,1053.3 1875.5,1051.4 1876.3,1056.2 1877.1,1051.7 1877.9,1054.6 1878.7,1054.2 1879.5,1055.0 1880.3,1052.0 1881.1,1054.3 1881.9,1058.8 1882.7,1058.7 1883.5,1053.8 1884.3,1059.2 1885.1,1057.6 1885.9,1055.1 1886.7,1054.5 1887.5,1051.2 1888.3,1059.8 1889.1,1053.4 1889.9,1055.7 1890.7,1057.2 1891.5,1055.7 1892.3,1055.6 1893.1,1059.4 1893.9,1061.0 1894.7,1056.5 1895.5,1056.5 1896.3,1057.8 1897.1,1055.9 1897.9,1058.6 1898.7,1051.3 1899.5,1054.9 1900.3,1054.8 1901.1,1054.7 1901.9,1057.8 1902.7,1053.3 1903.5,1057.7 1904.3,1059.0 1905.1,1061.9 1905.9,1055.5 1906.7,1055.1 1907.5,1057.4 1908.3,1058.2 1909.1,1057.2 1909.9,1057.9 1910.7,1058.0 1911.5,1050.3 1912.3,1050.9 1913.1,1048.2 1913.9,1055.8 1914.7,1057.5 1915.5,1055.7 1916.3,1053.2 1917.1,1054.8 1917.9,1056.7 1918.7,1058.4 1919.5,1055.1 1920.3,1056.9 1921.1,1051.6 1921.9,1057.0 1922.7,1056.1 1923.5,1055.2 1924.3,1056.5 1925.1,1056.4 1925.9,1058.7 1926.7,1053.0 1927.5,1057.1 1928.3,1055.8 1929.1,1054.6 1929.9,1052.6 1930.7,1057.4 1931.5,1056.6 1932.3,1060.8 1933.1,1054.5 1933.9,1055.3 1934.7,1055.6 1935.5,1055.2 1936.3,1052.8 1937.1,1054.0 1937.9,1058.2 1938.7,1060.3 1939.5,1054.7 1940.3,1057.0 1941.1,1053.4 1941.9,1055.8 1942.7,1054.5 1943.5,1055.3 1944.3,1055.3 1945.1,1058.6 1945.9,1058.1 1946.7,1056.6 1947.5,1057.9 1948.3,1058.9 1949.1,1056.1 1949.9,1057.6 1950.7,1060.2 1951.5,1058.7 1952.3,1057.5 1953.1,1056.7 1953.9,1056.9 1954.7,1054.4 1955.5,1056.3 1956.3,1058.2 1957.1,1054.2 1957.9,1053.3 1958.7,1059.6 1959.5,1054.9 1960.3,1058.0 1961.1,1057.3 1961.9,1061.7 1962.7,1059.1 1963.5,1060.5 1964.3,1061.1 1965.1,1058.3 1965.9,1057.9 1966.7,1059.4 1967.5,1057.9 1968.3,1061.8 1969.1,1054.4 1969.9,1054.7 1970.7,1061.4 1971.5,1055.0 1972.3,1055.3" stroke="#8d6240"/>
<path d="M1089.1,1033.4 1089.9,1036.1 1090.7,1035.1 1091.5,1034.6 1092.3,1035.5 1093.1,1036.0 1093.9,1034.4 1094.7,1033.6 1095.5,1029.9 1096.3,1033.9 1097.1,1031.6 1097.9,1034.7 1098.7,1034.9 1099.5,1027.0 1100.3,1033.9 1101.1,1028.4 1101.9,1026.8 1102.7,1028.7 1103.5,1030.1 1104.3,1032.2 1105.1,1036.2 1105.9,1024.4 1106.7,1026.4 1107.5,1028.1 1108.3,1025.1 1109.1,1021.5 1109.9,1025.2 1110.7,1025.7 1111.5,1026.4 1112.3,1024.3 1113.1,1028.5 1113.9,1025.4 1114.7,1026.1 1115.5,1020.4 1116.3,1016.0 1117.1,1024.7 1117.9,1023.9 1118.7,1024.4 1119.5,1022.5 1120.3,1020.8 1121.1,1020.8 1121.9,1023.7 1122.7,1018.7 1123.5,1019.4 1124.3,1020.0 1125.1,1021.2 1125.9,1025.8 1126.7,1018.6 1127.5,1026.0 1128.3,1019.5 1129.1,1018.3 1129.9,1016.9 1130.7,1020.6 1131.5,1022.2 1132.3,1014.8 1133.1,1016.3 1133.9,1015.6 1134.7,1014.4 1135.5,1013.0 1136.3,1016.8 1137.1,1017.6 1137.9,1015.9 1138.7,1013.4 1139.5,1015.2 1140.3,1017.1 1141.1,1015.6 1141.9,1016.5 1142.7,1013.1 1143.5,1015.4 1144.3,1014.7 1145.1,1010.8 1145.9,1011.5 1146.7,1009.9 1147.5,1011.9 1148.3,1011.0 1149.1,1011.3 1149.9,1010.7 1150.7,1009.1 1151.5,1011.6 1152.3,1007.0 1153.1,1009.3 1153.9,1002.8 1154.7,1006.2 1155.5,1011.0 1156.3,1008.4 1157.1,1009.3 1157.9,1005.4 1158.7,1003.3 1159.5,1004.4 1160.3,1007.2 1161.1,1006.4 1161.9,1012.3 1162.7,1012.6 1163.5,1008.9 1164.3,1003.5 1165.1,1005.5 1165.9,1003.5 1166.7,1002.7 1167.5,1002.9 1168.3,1003.4 1169.1,1002.1 1169.9,1001.9 1170.7,996.5 1171.5,999.9 1172.3,1003.4 1173.1,1002.6 1173.9,997.0 1174.7,1000.8 1175.5,999.7 1176.3,995.3 1177.1,998.3 1177.9,998.3 1178.7,995.9 1179.5,999.0 1180.3,990.5 1181.1,990.3 1181.9,988.8 1182.7,986.0 1183.5,980.5 1184.3,980.5 1185.1,977.5 1185.9,980.8 1186.7,974.8 1187.5,967.6 1188.3,968.6 1189.1,958.9 1189.9,959.9 1190.7,960.9 1191.5,947.2 1192.3,953.1 1193.1,948.7 1193.9,942.1 1194.7,943.8 1195.5,935.3 1196.3,940.1 1197.1,936.2 1197.9,938.2 1198.7,930.8 1199.5,936.4 1200.3,937.4 1201.1,932.2 1201.9,941.0 1202.7,933.8 1203.5,945.7 1204.3,946.6 1205.1,938.7 1205.9,947.7 1206.7,945.1 1207.5,946.4 1208.3,947.6 1209.1,942.8 1209.9,950.2 1210.7,952.2 1211.5,956.5 1212.3,950.2 1213.1,959.3 1213.9,964.8 1214.7,961.5 1215.5,966.8 1216.3,968.3 1217.1,967.1 1217.9,970.1 1218.7,972.7 1219.5,966.7 1220.3,974.0 1221.1,972.4 1221.9,973.9 1222.7,973.0 1223.5,973.2 1224.3,977.5 1225.1,976.9 1225.9,974.2 1226.7,970.2 1227.5,976.2 1228.3,977.2 1229.1,981.1 1229.9,972.6 1230.7,974.2 1231.5,972.0 1232.3,964.0 1233.1,969.3 1233.9,972.6 1234.7,969.2 1235.5,975.5 1236.3,971.5 1237.1,968.1 1237.9,971.4 1238.7,966.8 1239.5,970.3 1240.3,967.6 1241.1,967.3 1241.9,963.4 1242.7,965.0 1243.5,965.8 1244.3,965.1 1245.1,966.6 1245.9,969.8 1246.7,963.4 1247.5,961.3 1248.3,965.6 1249.1,962.3 1249.9,968.0 1250.7,962.0 1251.5,960.5 1252.3,963.8 1253.1,959.4 1253.9,961.4 1254.7,964.8 1255.5,957.1 1256.3,963.1 1257.1,961.2 1257.9,962.8 1258.7,965.9 1259.5,964.1 1260.3,964.6 1261.1,961.3 1261.9,967.1 1262.7,963.9 1263.5,956.6 1264.3,966.0 1265.1,958.8 1265.9,965.8 1266.7,959.6 1267.5,963.9 1268.3,965.9 1269.1,961.7 1269.9,963.4 1270.7,963.8 1271.5,956.6 1272.3,967.6 1273.1,961.7 1273.9,963.2 1274.7,962.4 1275.5,964.6 1276.3,961.6 1277.1,957.5 1277.9,963.3 1278.7,953.9 1279.5,963.1 1280.3,955.6 1281.1,964.2 1281.9,962.9 1282.7,960.8 1283.5,958.9 1284.3,960.1 1285.1,957.6 1285.9,962.2 1286.7,962.0 1287.5,963.0 1288.3,956.9 1289.1,957.3 1289.9,957.2 1290.7,952.5 1291.5,954.6 1292.3,960.5 1293.1,963.5 1293.9,957.7 1294.7,956.7 1295.5,963.4 1296.3,953.5 1297.1,961.3 1297.9,953.5 1298.7,960.1 1299.5,959.0 1300.3,960.9 1301.1,959.6 1301.9,957.5 1302.7,957.8 1303.5,957.2 1304.3,961.9 1305.1,955.8 1305.9,961.9 1306.7,957.9 1307.5,955.0 1308.3,962.6 1309.1,954.9 1309.9,954.7 1310.7,958.4 1311.5,959.7 1312.3,962.8 1313.1,962.6 1313.9,957.2 1314.7,958.3 1315.5,957.2 1316.3,952.7 1317.1,957.1 1317.9,952.4 1318.7,957.6 1319.5,955.2 1320.3,956.4 1321.1,960.4 1321.9,960.4 1322.7,962.5 1323.5,954.0 1324.3,959.6 1325.1,962.3 1325.9,954.4 1326.7,954.5 1327.5,956.3 1328.3,959.0 1329.1,954.8 1329.9,960.2 1330.7,955.0 1331.5,947.2 1332.3,958.2 1333.1,957.9 1333.9,958.7 1334.7,963.0 1335.5,957.0 1336.3,956.2 1337.1,958.1 1337.9,954.4 1338.7,956.2 1339.5,955.8 1340.3,958.4 1341.1,955.8 1341.9,955.4 1342.7,953.8 1343.5,963.1 1344.3,959.8 1345.1,961.0 1345.9,962.8 1346.7,961.6 1347.5,958.5 1348.3,959.4 1349.1,968.0 1349.9,956.8 1350.7,958.1 1351.5,963.1 1352.3,962.1 1353.1,963.8 1353.9,955.5 1354.7,957.5 1355.5,961.2 1356.3,958.3 1357.1,968.3 1357.9,961.3 1358.7,960.0 1359.5,962.7 1360.3,965.5 1361.1,969.8 1361.9,966.0 1362.7,963.9 1363.5,967.0 1364.3,967.9 1365.1,966.1 1365.9,971.8 1366.7,965.8 1367.5,963.1 1368.3,969.8 1369.1,970.1 1369.9,962.6 1370.7,968.3 1371.5,964.1 1372.3,967.1 1373.1,968.0 1373.9,967.0 1374.7,969.8 1375.5,969.0 1376.3,967.7 1377.1,968.5 1377.9,971.0 1378.7,968.0 1379.5,969.6 1380.3,970.9 1381.1,971.9 1381.9,963.3 1382.7,970.4 1383.5,964.4 1384.3,971.3 1385.1,972.6 1385.9,972.4 1386.7,969.6 1387.5,965.4 1388.3,968.7 1389.1,966.8 1389.9,972.7 1390.7,971.2 1391.5,971.7 1392.3,968.4 1393.1,964.5 1393.9,969.1 1394.7,969.7 1395.5,974.2 1396.3,970.4 1397.1,969.4 1397.9,963.6 1398.7,965.5 1399.5,962.9 1400.3,975.0 1401.1,975.6 1401.9,969.8 1402.7,969.7 1403.5,966.7 1404.3,965.5 1405.1,960.6 1405.9,965.7 1406.7,962.9 1407.5,967.9 1408.3,964.3 1409.1,963.7 1409.9,964.5 1410.7,962.5 1411.5,960.0 1412.3,959.4 1413.1,956.2 1413.9,959.5 1414.7,957.0 1415.5,958.4 1416.3,956.9 1417.1,958.4 1417.9,957.7 1418.7,956.3 1419.5,956.3 1420.3,951.5 1421.1,955.7 1421.9,947.9 1422.7,953.9 1423.5,954.5 1424.3,955.0 1425.1,951.9 1425.9,951.9 1426.7,945.0 1427.5,948.9 1428.3,944.9 1429.1,948.3 1429.9,950.6 1430.7,941.0 1431.5,940.7 1432.3,946.4 1433.1,942.6 1433.9,945.4 1434.7,937.9 1435.5,936.1 1436.3,941.7 1437.1,941.9 1437.9,932.3 1438.7,934.4 1439.5,937.1 1440.3,929.1 1441.1,924.9 1441.9,927.5 1442.7,930.8 1443.5,933.5 1444.3,928.6 1445.1,924.7 1445.9,924.6 1446.7,916.1 1447.5,920.5 1448.3,917.3 1449.1,919.8 1449.9,923.9 1450.7,914.9 1451.5,920.3 1452.3,918.8 1453.1,916.8 1453.9,913.7 1454.7,915.0 1455.5,917.3 1456.3,919.0 1457.1,909.9 1457.9,913.4 1458.7,908.6 1459.5,912.8 1460.3,910.3 1461.1,900.1 1461.9,904.0 1462.7,901.4 1463.5,903.0 1464.3,903.3 1465.1,902.9 1465.9,904.3 1466.7,902.5 1467.5,902.7 1468.3,903.2 1469.1,895.5 1469.9,895.4 1470.7,890.2 1471.5,891.5 1472.3,896.9 1473.1,895.0 1473.9,894.5 1474.7,897.3 1475.5,891.3 1476.3,889.2 1477.1,889.1 1477.9,891.5 1478.7,880.0 1479.5,875.4 1480.3,882.4 1481.1,874.2 1481.9,879.2 1482.7,872.8 1483.5,870.8 1484.3,871.5 1485.1,859.4 1485.9,863.6 1486.7,869.2 1487.5,872.7 1488.3,871.9 1489.1,868.0 1489.9,859.9 1490.7,860.0 1491.5,866.3 1492.3,861.6 1493.1,858.6 1493.9,856.0 1494.7,854.1 1495.5,850.6 1496.3,847.3 1497.1,848.0 1497.9,851.7 1498.7,847.7 1499.5,847.5 1500.3,847.4 1501.1,845.2 1501.9,833.9 1502.7,843.3 1503.5,841.0 1504.3,843.5 1505.1,845.0 1505.9,838.6 1506.7,838.4 1507.5,834.6 1508.3,835.8 1509.1,833.8 1509.9,828.1 1510.7,837.1 1511.5,834.2 1512.3,837.6 1513.1,825.9 1513.9,827.2 1514.7,816.2 1515.5,818.2 1516.3,824.4 1517.1,819.5 1517.9,820.1 1518.7,818.8 1519.5,814.4 1520.3,822.2 1521.1,823.2 1521.9,825.3 1522.7,812.0 1523.5,813.2 1524.3,809.8 1525.1,809.1 1525.9,816.3 1526.7,820.0 1527.5,809.2 1528.3,808.4 1529.1,804.8 1529.9,801.9 1530.7,801.7 1531.5,809.2 1532.3,808.5 1533.1,805.3 1533.9,802.2 1534.7,793.3 1535.5,798.3 1536.3,801.1 1537.1,796.3 1537.9,801.7 1538.7,804.9 1539.5,798.2 1540.3,798.8 1541.1,795.6 1541.9,799.2 1542.7,798.0 1543.5,788.8 1544.3,791.9 1545.1,789.0 1545.9,798.2 1546.7,800.4 1547.5,795.8 1548.3,786.8 1549.1,790.7 1549.9,785.9 1550.7,798.0 1551.5,790.6 1552.3,792.3 1553.1,790.2 1553.9,797.4 1554.7,787.6 1555.5,798.3 1556.3,794.0 1557.1,789.2 1557.9,788.6 1558.7,797.3 1559.5,792.0 1560.3,794.5 1561.1,792.7 1561.9,798.5 1562.7,794.4 1563.5,796.2 1564.3,797.1 1565.1,803.1 1565.9,797.7 1566.7,789.5 1567.5,806.9 1568.3,801.8 1569.1,796.4 1569.9,797.1 1570.7,805.4 1571.5,801.5 1572.3,800.6 1573.1,791.2 1573.9,804.2 1574.7,804.8 1575.5,814.8 1576.3,807.4 1577.1,805.8 1577.9,811.0 1578.7,814.2 1579.5,814.1 1580.3,814.1 1581.1,816.8 1581.9,808.8 1582.7,809.9 1583.5,819.0 1584.3,820.1 1585.1,817.3 1585.9,809.1 1586.7,813.0 1587.5,806.3 1588.3,831.6 1589.1,825.6 1589.9,827.1 1590.7,824.3 1591.5,820.2 1592.3,828.3 1593.1,823.5 1593.9,826.6 1594.7,822.0 1595.5,824.2 1596.3,836.1 1597.1,835.8 1597.9,828.3 1598.7,837.1 1599.5,835.1 1600.3,839.3 1601.1,847.5 1601.9,840.5 1602.7,842.0 1603.5,845.3 1604.3,843.0 1605.1,850.1 1605.9,842.4 1606.7,843.8 1607.5,845.3 1608.3,850.9 1609.1,861.9 1609.9,850.4 1610.7,851.3 1611.5,857.4 1612.3,852.6 1613.1,854.1 1613.9,856.4 1614.7,851.8 1615.5,858.2 1616.3,861.5 1617.1,862.2 1617.9,858.5 1618.7,871.4 1619.5,857.6 1620.3,859.2 1621.1,859.0 1621.9,859.2 1622.7,864.3 1623.5,862.4 1624.3,871.5 1625.1,869.4 1625.9,874.7 1626.7,870.8 1627.5,872.0 1628.3,875.0 1629.1,877.5 1629.9,874.5 1630.7,877.9 1631.5,880.5 1632.3,875.0 1633.1,878.2 1633.9,882.7 1634.7,883.7 1635.5,885.1 1636.3,888.1 1637.1,887.9 1637.9,894.6 1638.7,894.2 1639.5,891.2 1640.3,894.5 1641.1,898.3 1641.9,895.7 1642.7,895.3 1643.5,894.9 1644.3,892.1 1645.1,900.9 1645.9,904.9 1646.7,901.6 1647.5,894.9 1648.3,904.5 1649.1,904.8 1649.9,897.3 1650.7,903.3 1651.5,904.1 1652.3,909.8 1653.1,911.5 1653.9,915.4 1654.7,912.8 1655.5,917.8 1656.3,910.8 1657.1,913.2 1657.9,914.1 1658.7,915.2 1659.5,911.9 1660.3,915.0 1661.1,919.9 1661.9,916.0 1662.7,914.4 1663.5,916.1 1664.3,925.8 1665.1,921.2 1665.9,919.0 1666.7,925.5 1667.5,923.0 1668.3,929.0 1669.1,923.2 1669.9,924.7 1670.7,925.1 1671.5,927.9 1672.3,921.5 1673.1,933.7 1673.9,939.0 1674.7,932.0 1675.5,932.3 1676.3,927.9 1677.1,935.8 1677.9,929.2 1678.7,935.4 1679.5,938.6 1680.3,933.4 1681.1,932.7 1681.9,939.0 1682.7,940.4 1683.5,940.3 1684.3,943.8 1685.1,945.1 1685.9,941.6 1686.7,943.4 1687.5,949.3 1688.3,945.8 1689.1,944.8 1689.9,944.5 1690.7,945.2 1691.5,945.1 1692.3,947.2 1693.1,947.9 1693.9,951.8 1694.7,946.8 1695.5,947.1 1696.3,948.0 1697.1,952.2 1697.9,951.1 1698.7,949.7 1699.5,950.8 1700.3,951.2 1701.1,954.0 1701.9,951.5 1702.7,957.8 1703.5,956.4 1704.3,955.3 1705.1,954.5 1705.9,960.9 1706.7,959.3 1707.5,953.2 1708.3,953.8 1709.1,962.1 1709.9,958.9 1710.7,965.1 1711.5,967.2 1712.3,961.2 1713.1,958.0 1713.9,969.1 1714.7,958.5 1715.5,961.1 1716.3,966.2 1717.1,963.7 1717.9,956.8 1718.7,964.2 1719.5,968.0 1720.3,971.2 1721.1,971.8 1721.9,970.2 1722.7,967.0 1723.5,967.2 1724.3,977.9 1725.1,974.3 1725.9,977.2 1726.7,972.7 1727.5,973.3 1728.3,980.4 1729.1,975.3 1729.9,975.3 1730.7,980.4 1731.5,974.9 1732.3,976.6 1733.1,981.7 1733.9,985.7 1734.7,993.1 1735.5,985.5 1736.3,986.1 1737.1,985.1 1737.9,986.2 1738.7,984.9 1739.5,989.6 1740.3,993.6 1741.1,990.6 1741.9,997.9 1742.7,993.8 1743.5,992.3 1744.3,993.0 1745.1,991.1 1745.9,996.5 1746.7,993.5 1747.5,995.7 1748.3,1001.0 1749.1,1001.6 1749.9,1000.5 1750.7,994.2 1751.5,999.5 1752.3,1001.1 1753.1,1004.3 1753.9,1001.5 1754.7,1003.5 1755.5,997.4 1756.3,998.1 1757.1,1004.6 1757.9,1009.5 1758.7,1005.8 1759.5,1002.9 1760.3,1007.7 1761.1,1001.7 1761.9,1010.7 1762.7,1012.5 1763.5,1009.7 1764.3,1006.4 1765.1,1002.3 1765.9,1011.8 1766.7,1009.6 1767.5,1010.4 1768.3,1009.0 1769.1,1007.0 1769.9,1008.6 1770.7,1007.6 1771.5,1007.5 1772.3,1004.8 1773.1,1008.0 1773.9,1014.0 1774.7,1006.5 1775.5,1005.1 1776.3,1010.9 1777.1,1011.5 1777.9,1013.4 1778.7,1005.8 1779.5,1010.1 1780.3,1010.4 1781.1,1016.0 1781.9,1012.4 1782.7,1016.6 1783.5,1015.6 1784.3,1014.9 1785.1,1017.5 1785.9,1016.0 1786.7,1015.4 1787.5,1017.0 1788.3,1017.8 1789.1,1021.3 1789.9,1017.5 1790.7,1019.0 1791.5,1020.4 1792.3,1020.8 1793.1,1024.4 1793.9,1017.1 1794.7,1027.8 1795.5,1027.7 1796.3,1018.4 1797.1,1019.5 1797.9,1022.9 1798.7,1026.9 1799.5,1028.5 1800.3,1022.7 1801.1,1021.7 1801.9,1027.0 1802.7,1024.4 1803.5,1021.4 1804.3,1016.5 1805.1,1020.2 1805.9,1021.3 1806.7,1024.1 1807.5,1027.6 1808.3,1024.3 1809.1,1024.6 1809.9,1030.3 1810.7,1031.2 1811.5,1027.9 1812.3,1032.4 1813.1,1033.1 1813.9,1032.1 1814.7,1032.5 1815.5,1030.2 1816.3,1026.6 1817.1,1028.3 1817.9,1029.3 1818.7,1024.7 1819.5,1030.4 1820.3,1030.5 1821.1,1031.3 1821.9,1031.1 1822.7,1030.6 1823.5,1031.7 1824.3,1027.5 1825.1,1030.4 1825.9,1033.6 1826.7,1033.7 1827.5,1036.1 1828.3,1035.2 1829.1,1034.9 1829.9,1035.6 1830.7,1035.2 1831.5,1035.1 1832.3,1032.1 1833.1,1034.9 1833.9,1034.3 1834.7,1036.7 1835.5,1033.9 1836.3,1034.2 1837.1,1037.7 1837.9,1033.6 1838.7,1035.7 1839.5,1033.6 1840.3,1036.9 1841.1,1037.2 1841.9,1035.6 1842.7,1035.8 1843.5,1037.6 1844.3,1035.1 1845.1,1033.6 1845.9,1040.3 1846.7,1038.4 1847.5,1034.8 1848.3,1036.2 1849.1,1037.4 1849.9,1035.2 1850.7,1041.6 1851.5,1038.3 1852.3,1037.9 1853.1,1041.3 1853.9,1035.6 1854.7,1036.0 1855.5,1041.3 1856.3,1041.5 1857.1,1038.7 1857.9,1040.4 1858.7,1048.5 1859.5,1046.0 1860.3,1043.3 1861.1,1046.0 1861.9,1039.9 1862.7,1044.7 1863.5,1041.1 1864.3,1042.8 1865.1,1045.2 1865.9,1041.1 1866.7,1045.1 1867.5,1043.6 1868.3,1047.3 1869.1,1045.8 1869.9,1043.8 1870.7,1044.7 1871.5,1048.7 1872.3,1044.4 1873.1,1044.5 1873.9,1044.0 1874.7,1046.3 1875.5,1046.2 1876.3,1043.9 1877.1,1044.1 1877.9,1041.9 1878.7,1042.8 1879.5,1042.9 1880.3,1043.1 1881.1,1042.6 1881.9,1042.0 1882.7,1039.5 1883.5,1048.3 1884.3,1045.5 1885.1,1043.9 1885.9,1045.6 1886.7,1045.0 1887.5,1045.5 1888.3,1047.6 1889.1,1044.0 1889.9,1046.9 1890.7,1044.2 1891.5,1044.3 1892.3,1046.3 1893.1,1044.9 1893.9,1049.5 1894.7,1049.9 1895.5,1050.0 1896.3,1047.4 1897.1,1045.0 1897.9,1048.4 1898.7,1049.2 1899.5,1043.3 1900.3,1046.3 1901.1,1045.4 1901.9,1042.4 1902.7,1048.2 1903.5,1049.7 1904.3,1051.8 1905.1,1045.3 1905.9,1040.5 1906.7,1048.6 1907.5,1044.6 1908.3,1049.6 1909.1,1049.5 1909.9,1048.8 1910.7,1041.5 1911.5,1046.3 1912.3,1046.5 1913.1,1044.2 1913.9,1051.2 1914.7,1046.7 1915.5,1047.2 1916.3,1044.6 1917.1,1050.1 1917.9,1045.5 1918.7,1046.2 1919.5,1051.0 1920.3,1044.6 1921.1,1048.8 1921.9,1049.3 1922.7,1052.3 1923.5,1046.5 1924.3,1049.8 1925.1,1050.1 1925.9,1051.7 1926.7,1047.4 1927.5,1044.1 1928.3,1046.1 1929.1,1044.8 1929.9,1048.3 1930.7,1047.9 1931.5,1049.2 1932.3,1044.9 1933.1,1052.1 1933.9,1048.4 1934.7,1050.1 1935.5,1047.9 1936.3,1044.9 1937.1,1051.0 1937.9,1047.2 1938.7,1046.2 1939.5,1050.3 1940.3,1051.2 1941.1,1046.9 1941.9,1047.6 1942.7,1046.3 1943.5,1050.0 1944.3,1048.1 1945.1,1052.7 1945.9,1054.7 1946.7,1051.3 1947.5,1052.2 1948.3,1052.2 1949.1,1048.9 1949.9,1048.0 1950.7,1049.1 1951.5,1050.6 1952.3,1053.2 1953.1,1044.8 1953.9,1050.8 1954.7,1049.8 1955.5,1050.7 1956.3,1046.6 1957.1,1048.1 1957.9,1050.3 1958.7,1050.8 1959.5,1052.2 1960.3,1054.8 1961.1,1047.4 1961.9,1050.9 1962.7,1049.5 1963.5,1052.8 1964.3,1049.6 1965.1,1049.1 1965.9,1050.3 1966.7,1051.8 1967.5,1047.4 1968.3,1046.3 1969.1,1050.2 1969.9,1051.8 1970.7,1046.4 1971.5,1053.5 1972.3,1051.8" stroke="#ffa514"/>
<path d="M1089.1,1037.1 1089.9,1037.8 1090.7,1037.0 1091.5,1032.9 1092.3,1031.7 1093.1,1036.9 1093.9,1037.7 1094.7,1042.2 1095.5,1033.5 1096.3,1036.3 1097.1,1035.4 1097.9,1033.5 1098.7,1029.3 1099.5,1028.9 1100.3,1040.4 1101.1,1032.9 1101.9,1040.8 1102.7,1036.1 1103.5,1031.0 1104.3,1033.9 1105.1,1027.1 1105.9,1030.3 1106.7,1032.2 1107.5,1033.0 1108.3,1029.7 1109.1,1027.6 1109.9,1030.5 1110.7,1031.3 1111.5,1029.4 1112.3,1030.2 1113.1,1034.2 1113.9,1035.6 1114.7,1034.9 1115.5,1027.1 1116.3,1028.0 1117.1,1031.4 1117.9,1030.9 1118.7,1034.5 1119.5,1029.0 1120.3,1031.5 1121.1,1026.2 1121.9,1025.2 1122.7,1026.3 1123.5,1030.8 1124.3,1020.2 1125.1,1023.5 1125.9,1021.7 1126.7,1025.2 1127.5,1028.7 1128.3,1027.6 1129.1,1026.7 1129.9,1020.0 1130.7,1025.9 1131.5,1029.7 1132.3,1025.8 1133.1,1028.2 1133.9,1019.3 1134.7,1024.0 1135.5,1026.7 1136.3,1022.0 1137.1,1017.3 1137.9,1016.0 1138.7,1017.7 1139.5,1020.4 1140.3,1016.6 1141.1,1017.6 1141.9,1015.3 1142.7,1017.0 1143.5,1018.7 1144.3,1018.4 1145.1,1019.3 1145.9,1021.0 1146.7,1023.0 1147.5,1019.2 1148.3,1012.7 1149.1,1020.4 1149.9,1016.5 1150.7,1020.3 1151.5,1017.5 1152.3,1020.8 1153.1,1019.2 1153.9,1014.5 1154.7,1021.7 1155.5,1015.4 1156.3,1016.3 1157.1,1020.3 1157.9,1014.4 1158.7,1017.4 1159.5,1020.9 1160.3,1018.5 1161.1,1018.3 1161.9,1021.8 1162.7,1019.9 1163.5,1015.7 1164.3,1013.4 1165.1,1012.8 1165.9,1014.0 1166.7,1019.8 1167.5,1010.8 1168.3,1014.7 1169.1,1009.3 1169.9,1016.4 1170.7,1015.4 1171.5,1017.8 1172.3,1007.4 1173.1,1011.2 1173.9,1011.8 1174.7,1004.1 1175.5,1006.2 1176.3,1004.7 1177.1,1008.9 1177.9,1002.7 1178.7,1003.4 1179.5,1004.4 1180.3,1004.4 1181.1,999.6 1181.9,997.5 1182.7,999.5 1183.5,1002.9 1184.3,1003.0 1185.1,1003.5 1185.9,997.5 1186.7,1002.3 1187.5,986.4 1188.3,981.4 1189.1,985.8 1189.9,982.0 1190.7,979.7 1191.5,975.9 1192.3,972.1 1193.1,969.4 1193.9,955.6 1194.7,951.9 1195.5,942.9 1196.3,933.0 1197.1,924.0 1197.9,920.6 1198.7,901.9 1199.5,900.0 1200.3,898.8 1201.1,884.6 1201.9,879.4 1202.7,873.0 1203.5,867.9 1204.3,858.2 1205.1,869.9 1205.9,861.3 1206.7,865.6 1207.5,864.5 1208.3,861.3 1209.1,862.4 1209.9,862.3 1210.7,870.1 1211.5,864.0 1212.3,869.8 1213.1,877.2 1213.9,870.6 1214.7,880.5 1215.5,873.5 1216.3,883.4 1217.1,888.9 1217.9,882.5 1218.7,881.1 1219.5,884.8 1220.3,895.0 1221.1,896.2 1221.9,891.8 1222.7,891.1 1223.5,892.2 1224.3,895.0 1225.1,897.1 1225.9,896.7 1226.7,892.4 1227.5,888.9 1228.3,887.1 1229.1,905.4 1229.9,897.0 1230.7,895.3 1231.5,890.4 1232.3,895.2 1233.1,895.7 1233.9,895.0 1234.7,894.6 1235.5,895.5 1236.3,893.8 1237.1,889.3 1237.9,893.4 1238.7,884.8 1239.5,879.2 1240.3,897.4 1241.1,885.4 1241.9,885.5 1242.7,896.4 1243.5,889.5 1244.3,885.9 1245.1,882.3 1245.9,886.3 1246.7,877.1 1247.5,884.1 1248.3,884.2 1249.1,877.8 1249.9,867.2 1250.7,888.2 1251.5,882.6 1252.3,884.4 1253.1,887.1 1253.9,883.6 1254.7,891.2 1255.5,884.6 1256.3,877.4 1257.1,878.8 1257.9,874.1 1258.7,877.4 1259.5,867.4 1260.3,874.0 1261.1,872.3 1261.9,876.5 1262.7,873.5 1263.5,873.5 1264.3,857.6 1265.1,861.1 1265.9,876.5 1266.7,870.9 1267.5,862.1 1268.3,866.1 1269.1,859.4 1269.9,860.0 1270.7,849.2 1271.5,853.9 1272.3,844.6 1273.1,845.7 1273.9,850.4 1274.7,837.7 1275.5,839.9 1276.3,839.8 1277.1,839.7 1277.9,836.7 1278.7,819.6 1279.5,821.5 1280.3,821.0 1281.1,832.1 1281.9,835.9 1282.7,825.1 1283.5,824.6 1284.3,833.3 1285.1,825.2 1285.9,819.3 1286.7,826.4 1287.5,809.2 1288.3,812.6 1289.1,829.6 1289.9,820.6 1290.7,808.8 1291.5,814.1 1292.3,809.2 1293.1,813.4 1293.9,810.7 1294.7,810.9 1295.5,806.8 1296.3,802.5 1297.1,803.1 1297.9,806.3 1298.7,804.9 1299.5,800.5 1300.3,799.6 1301.1,801.3 1301.9,804.4 1302.7,805.0 1303.5,794.3 1304.3,792.8 1305.1,779.9 1305.9,783.6 1306.7,791.5 1307.5,790.4 1308.3,785.7 1309.1,787.3 1309.9,777.2 1310.7,792.3 1311.5,772.0 1312.3,788.2 1313.1,780.4 1313.9,774.5 1314.7,775.4 1315.5,775.5 1316.3,784.5 1317.1,784.2 1317.9,768.7 1318.7,776.7 1319.5,770.9 1320.3,774.4 1321.1,778.7 1321.9,770.1 1322.7,768.0 1323.5,770.2 1324.3,772.8 1325.1,775.9 1325.9,770.7 1326.7,766.3 1327.5,766.8 1328.3,774.3 1329.1,781.6 1329.9,773.4 1330.7,779.2 1331.5,760.4 1332.3,768.9 1333.1,782.1 1333.9,772.9 1334.7,776.7 1335.5,774.2 1336.3,768.7 1337.1,768.4 1337.9,768.2 1338.7,764.9 1339.5,773.0 1340.3,776.5 1341.1,764.1 1341.9,765.9 1342.7,760.2 1343.5,767.4 1344.3,771.0 1345.1,770.2 1345.9,762.7 1346.7,771.5 1347.5,759.1 1348.3,759.4 1349.1,769.3 1349.9,761.8 1350.7,760.1 1351.5,765.0 1352.3,767.6 1353.1,779.8 1353.9,765.1 1354.7,749.4 1355.5,761.0 1356.3,758.6 1357.1,765.3 1357.9,746.1 1358.7,762.0 1359.5,747.1 1360.3,764.9 1361.1,753.0 1361.9,754.7 1362.7,747.2 1363.5,741.7 1364.3,749.6 1365.1,765.5 1365.9,749.7 1366.7,745.8 1367.5,744.8 1368.3,760.5 1369.1,754.7 1369.9,747.6 1370.7,746.8 1371.5,739.4 1372.3,747.6 1373.1,746.0 1373.9,738.8 1374.7,739.3 1375.5,751.4 1376.3,749.1 1377.1,742.9 1377.9,749.8 1378.7,742.8 1379.5,734.0 1380.3,735.1 1381.1,735.6 1381.9,745.3 1382.7,745.3 1383.5,744.9 1384.3,735.7 1385.1,741.5 1385.9,753.2 1386.7,728.9 1387.5,741.7 1388.3,732.0 1389.1,736.5 1389.9,741.7 1390.7,724.6 1391.5,720.9 1392.3,727.9 1393.1,725.5 1393.9,723.3 1394.7,740.8 1395.5,736.4 1396.3,737.5 1397.1,731.3 1397.9,734.5 1398.7,720.1 1399.5,738.9 1400.3,734.6 1401.1,726.9 1401.9,726.6 1402.7,722.6 1403.5,712.4 1404.3,723.2 1405.1,727.1 1405.9,725.4 1406.7,717.5 1407.5,721.6 1408.3,714.3 1409.1,722.2 1409.9,706.1 1410.7,718.4 1411.5,720.4 1412.3,716.6 1413.1,711.5 1413.9,724.2 1414.7,716.7 1415.5,721.1 1416.3,723.1 1417.1,712.1 1417.9,715.8 1418.7,708.8 1419.5,712.3 1420.3,703.1 1421.1,712.2 1421.9,726.1 1422.7,721.6 1423.5,705.7 1424.3,705.3 1425.1,711.5 1425.9,715.0 1426.7,708.5 1427.5,702.5 1428.3,714.6 1429.1,715.8 1429.9,709.5 1430.7,717.2 1431.5,721.0 1432.3,704.7 1433.1,713.1 1433.9,707.5 1434.7,705.0 1435.5,699.3 1436.3,710.0 1437.1,704.7 1437.9,702.8 1438.7,715.4 1439.5,704.7 1440.3,696.3 1441.1,704.3 1441.9,706.9 1442.7,703.4 1443.5,702.7 1444.3,709.1 1445.1,720.8 1445.9,693.2 1446.7,690.4 1447.5,709.9 1448.3,700.8 1449.1,706.2 1449.9,698.0 1450.7,700.1 1451.5,685.6 1452.3,698.4 1453.1,689.2 1453.9,694.8 1454.7,702.3 1455.5,707.1 1456.3,689.9 1457.1,690.6 1457.9,692.1 1458.7,686.8 1459.5,682.0 1460.3,693.4 1461.1,693.9 1461.9,694.2 1462.7,687.5 1463.5,681.2 1464.3,687.8 1465.1,686.5 1465.9,685.3 1466.7,693.2 1467.5,692.0 1468.3,704.2 1469.1,683.5 1469.9,693.2 1470.7,697.2 1471.5,691.2 1472.3,670.6 1473.1,690.8 1473.9,683.1 1474.7,689.4 1475.5,687.7 1476.3,680.7 1477.1,688.6 1477.9,692.2 1478.7,686.0 1479.5,676.3 1480.3,691.9 1481.1,689.9 1481.9,676.0 1482.7,678.5 1483.5,664.3 1484.3,675.1 1485.1,673.0 1485.9,678.6 1486.7,668.5 1487.5,671.6 1488.3,680.8 1489.1,669.9 1489.9,667.8 1490.7,684.7 1491.5,674.1 1492.3,684.1 1493.1,672.4 1493.9,681.8 1494.7,664.4 1495.5,658.9 1496.3,668.6 1497.1,664.8 1497.9,666.1 1498.7,664.4 1499.5,661.9 1500.3,676.5 1501.1,663.3 1501.9,646.0 1502.7,659.5 1503.5,666.2 1504.3,668.5 1505.1,656.6 1505.9,652.4 1506.7,656.2 1507.5,654.8 1508.3,659.3 1509.1,658.6 1509.9,669.9 1510.7,649.4 1511.5,656.8 1512.3,644.9 1513.1,646.7 1513.9,653.7 1514.7,645.6 1515.5,658.0 1516.3,643.8 1517.1,644.8 1517.9,654.0 1518.7,660.2 1519.5,646.5 1520.3,647.7 1521.1,646.3 1521.9,654.1 1522.7,657.9 1523.5,653.3 1524.3,636.7 1525.1,641.0 1525.9,641.5 1526.7,649.3 1527.5,649.4 1528.3,655.8 1529.1,652.5 1529.9,652.0 1530.7,649.2 1531.5,644.3 1532.3,650.7 1533.1,640.6 1533.9,652.8 1534.7,647.5 1535.5,642.7 1536.3,642.4 1537.1,646.4 1537.9,644.1 1538.7,633.3 1539.5,644.9 1540.3,648.9 1541.1,650.2 1541.9,650.8 1542.7,663.7 1543.5,658.5 1544.3,639.0 1545.1,647.3 1545.9,669.3 1546.7,667.2 1547.5,652.7 1548.3,649.6 1549.1,664.6 1549.9,644.0 1550.7,650.5 1551.5,653.7 1552.3,646.1 1553.1,663.5 1553.9,656.2 1554.7,647.2 1555.5,656.0 1556.3,650.1 1557.1,655.9 1557.9,661.1 1558.7,660.5 1559.5,662.1 1560.3,662.4 1561.1,656.9 1561.9,658.6 1562.7,666.3 1563.5,656.4 1564.3,658.1 1565.1,658.7 1565.9,669.3 1566.7,664.0 1567.5,673.1 1568.3,671.1 1569.1,664.7 1569.9,669.3 1570.7,658.6 1571.5,678.1 1572.3,680.5 1573.1,688.1 1573.9,683.3 1574.7,678.9 1575.5,665.3 1576.3,683.2 1577.1,679.5 1577.9,683.0 1578.7,672.8 1579.5,683.7 1580.3,676.9 1581.1,684.3 1581.9,687.0 1582.7,692.8 1583.5,686.1 1584.3,700.5 1585.1,683.0 1585.9,700.5 1586.7,691.8 1587.5,694.9 1588.3,702.2 1589.1,706.1 1589.9,703.0 1590.7,701.9 1591.5,700.0 1592.3,706.3 1593.1,703.4 1593.9,694.7 1594.7,712.4 1595.5,713.0 1596.3,706.2 1597.1,705.5 1597.9,704.8 1598.7,721.6 1599.5,713.3 1600.3,716.9 1601.1,718.4 1601.9,727.2 1602.7,731.2 1603.5,727.2 1604.3,727.7 1605.1,733.0 1605.9,735.1 1606.7,739.8 1607.5,748.4 1608.3,745.7 1609.1,736.3 1609.9,744.5 1610.7,749.0 1611.5,744.3 1612.3,753.7 1613.1,759.1 1613.9,765.4 1614.7,743.2 1615.5,755.2 1616.3,744.6 1617.1,760.3 1617.9,762.0 1618.7,750.2 1619.5,754.0 1620.3,756.8 1621.1,775.9 1621.9,768.6 1622.7,765.5 1623.5,758.3 1624.3,760.2 1625.1,775.5 1625.9,775.2 1626.7,756.3 1627.5,776.7 1628.3,771.2 1629.1,774.9 1629.9,772.3 1630.7,782.6 1631.5,778.7 1632.3,778.5 1633.1,780.5 1633.9,776.7 1634.7,777.4 1635.5,789.8 1636.3,797.3 1637.1,781.9 1637.9,787.0 1638.7,799.1 1639.5,787.6 1640.3,794.2 1641.1,797.8 1641.9,785.2 1642.7,789.9 1643.5,792.6 1644.3,796.7 1645.1,797.0 1645.9,793.3 1646.7,801.4 1647.5,797.2 1648.3,790.7 1649.1,808.6 1649.9,810.5 1650.7,816.0 1651.5,811.1 1652.3,813.6 1653.1,814.8 1653.9,798.3 1654.7,815.9 1655.5,817.7 1656.3,808.6 1657.1,819.7 1657.9,815.7 1658.7,814.6 1659.5,817.8 1660.3,809.9 1661.1,822.2 1661.9,820.2 1662.7,821.1 1663.5,833.5 1664.3,831.3 1665.1,822.2 1665.9,825.9 1666.7,827.3 1667.5,823.4 1668.3,828.8 1669.1,836.7 1669.9,835.7 1670.7,834.2 1671.5,841.3 1672.3,840.0 1673.1,841.9 1673.9,838.0 1674.7,837.8 1675.5,836.5 1676.3,839.0 1677.1,845.2 1677.9,834.4 1678.7,841.4 1679.5,838.8 1680.3,853.1 1681.1,844.3 1681.9,850.1 1682.7,842.0 1683.5,847.9 1684.3,839.1 1685.1,848.3 1685.9,852.1 1686.7,852.6 1687.5,853.7 1688.3,866.6 1689.1,853.7 1689.9,855.4 1690.7,855.0 1691.5,866.3 1692.3,862.2 1693.1,866.2 1693.9,864.8 1694.7,855.9 1695.5,859.9 1696.3,868.5 1697.1,880.8 1697.9,867.3 1698.7,870.3 1699.5,867.6 1700.3,865.1 1701.1,874.1 1701.9,873.8 1702.7,877.9 1703.5,868.5 1704.3,868.2 1705.1,886.1 1705.9,868.3 1706.7,876.1 1707.5,882.5 1708.3,878.2 1709.1,887.3 1709.9,882.7 1710.7,885.1 1711.5,886.5 1712.3,889.2 1713.1,884.5 1713.9,887.0 1714.7,891.7 1715.5,888.9 1716.3,894.0 1717.1,901.8 1717.9,901.2 1718.7,898.1 1719.5,893.5 1720.3,897.4 1721.1,909.9 1721.9,907.8 1722.7,909.0 1723.5,902.1 1724.3,905.6 1725.1,896.2 1725.9,902.3 1726.7,896.0 1727.5,908.4 1728.3,910.8 1729.1,906.1 1729.9,914.8 1730.7,910.8 1731.5,907.0 1732.3,914.4 1733.1,916.5 1733.9,913.0 1734.7,917.5 1735.5,906.3 1736.3,912.9 1737.1,913.2 1737.9,906.1 1738.7,913.2 1739.5,911.0 1740.3,909.6 1741.1,911.2 1741.9,918.1 1742.7,917.7 1743.5,918.5 1744.3,917.0 1745.1,918.1 1745.9,916.9 1746.7,920.0 1747.5,923.7 1748.3,920.5 1749.1,930.2 1749.9,924.7 1750.7,929.4 1751.5,929.2 1752.3,922.5 1753.1,924.4 1753.9,938.5 1754.7,926.9 1755.5,932.6 1756.3,926.5 1757.1,923.5 1757.9,931.3 1758.7,927.5 1759.5,924.6 1760.3,932.3 1761.1,918.7 1761.9,928.4 1762.7,933.4 1763.5,933.1 1764.3,928.0 1765.1,938.4 1765.9,933.2 1766.7,932.0 1767.5,934.3 1768.3,941.1 1769.1,937.7 1769.9,943.5 1770.7,941.8 1771.5,939.5 1772.3,944.4 1773.1,943.2 1773.9,941.7 1774.7,943.1 1775.5,937.3 1776.3,939.6 1777.1,939.2 1777.9,951.2 1778.7,940.1 1779.5,946.9 1780.3,953.8 1781.1,954.9 1781.9,951.4 1782.7,952.0 1783.5,946.2 1784.3,950.1 1785.1,950.8 1785.9,958.7 1786.7,955.8 1787.5,954.2 1788.3,951.1 1789.1,963.7 1789.9,955.8 1790.7,955.6 1791.5,962.9 1792.3,953.6 1793.1,956.5 1793.9,962.1 1794.7,960.5 1795.5,960.5 1796.3,959.4 1797.1,965.2 1797.9,957.4 1798.7,964.8 1799.5,966.5 1800.3,969.9 1801.1,964.9 1801.9,960.9 1802.7,965.9 1803.5,963.8 1804.3,960.7 1805.1,966.1 1805.9,957.1 1806.7,968.4 1807.5,972.5 1808.3,966.5 1809.1,971.5 1809.9,968.2 1810.7,961.6 1811.5,971.7 1812.3,970.4 1813.1,971.0 1813.9,967.5 1814.7,971.3 1815.5,972.9 1816.3,972.0 1817.1,963.3 1817.9,979.0 1818.7,981.0 1819.5,977.9 1820.3,974.4 1821.1,972.7 1821.9,971.8 1822.7,979.0 1823.5,984.1 1824.3,977.7 1825.1,985.3 1825.9,978.4 1826.7,978.7 1827.5,983.6 1828.3,986.0 1829.1,981.6 1829.9,990.8 1830.7,988.0 1831.5,990.7 1832.3,990.3 1833.1,989.0 1833.9,988.6 1834.7,989.0 1835.5,987.3 1836.3,984.4 1837.1,991.6 1837.9,986.2 1838.7,994.8 1839.5,998.3 1840.3,995.9 1841.1,985.8 1841.9,991.8 1842.7,999.8 1843.5,1001.9 1844.3,998.9 1845.1,998.5 1845.9,999.4 1846.7,998.1 1847.5,996.3 1848.3,1008.0 1849.1,1000.0 1849.9,994.7 1850.7,1004.9 1851.5,1007.0 1852.3,1005.9 1853.1,1005.1 1853.9,999.5 1854.7,1000.9 1855.5,994.4 1856.3,996.9 1857.1,1012.1 1857.9,1004.4 1858.7,999.7 1859.5,1004.3 1860.3,1003.3 1861.1,1007.7 1861.9,999.3 1862.7,1006.3 1863.5,999.0 1864.3,1000.1 1865.1,1005.6 1865.9,1008.1 1866.7,1011.3 1867.5,999.9 1868.3,1006.5 1869.1,1006.6 1869.9,1006.4 1870.7,1009.1 1871.5,1013.1 1872.3,1010.2 1873.1,1010.3 1873.9,1005.8 1874.7,1005.6 1875.5,1012.4 1876.3,1016.9 1877.1,1009.2 1877.9,1012.3 1878.7,1012.1 1879.5,1009.3 1880.3,1016.5 1881.1,1013.1 1881.9,1010.2 1882.7,1012.3 1883.5,1016.9 1884.3,1016.1 1885.1,1013.3 1885.9,1014.9 1886.7,1017.4 1887.5,1018.0 1888.3,1017.7 1889.1,1017.8 1889.9,1009.1 1890.7,1012.0 1891.5,1021.1 1892.3,1020.4 1893.1,1022.0 1893.9,1016.0 1894.7,1018.7 1895.5,1018.7 1896.3,1019.2 1897.1,1017.2 1897.9,1023.4 1898.7,1024.2 1899.5,1022.2 1900.3,1025.3 1901.1,1022.4 1901.9,1022.9 1902.7,1018.0 1903.5,1023.5 1904.3,1024.0 1905.1,1022.1 1905.9,1024.7 1906.7,1024.4 1907.5,1021.6 1908.3,1018.6 1909.1,1026.9 1909.9,1028.0 1910.7,1022.5 1911.5,1026.5 1912.3,1025.8 1913.1,1027.6 1913.9,1020.2 1914.7,1026.1 1915.5,1028.9 1916.3,1030.6 1917.1,1027.7 1917.9,1025.0 1918.7,1023.6 1919.5,1024.8 1920.3,1022.7 1921.1,1027.2 1921.9,1025.4 1922.7,1025.3 1923.5,1027.9 1924.3,1026.4 1925.1,1028.7 1925.9,1022.9 1926.7,1019.1 1927.5,1021.1 1928.3,1032.0 1929.1,1022.4 1929.9,1027.8 1930.7,1018.8 1931.5,1020.9 1932.3,1018.3 1933.1,1031.2 1933.9,1034.4 1934.7,1024.8 1935.5,1021.4 1936.3,1028.9 1937.1,1032.1 1937.9,1029.2 1938.7,1028.7 1939.5,1031.7 1940.3,1023.9 1941.1,1029.5 1941.9,1029.1 1942.7,1030.2 1943.5,1025.2 1944.3,1025.6 1945.1,1022.9 1945.9,1027.1 1946.7,1021.8 1947.5,1031.4 1948.3,1041.3 1949.1,1033.8 1949.9,1031.9 1950.7,1035.9 1951.5,1030.0 1952.3,1035.1 1953.1,1037.0 1953.9,1034.6 1954.7,1032.3 1955.5,1031.3 1956.3,1035.2 1957.1,1032.6 1957.9,1024.0 1958.7,1031.7 1959.5,1029.9 1960.3,1033.7 1961.1,1036.2 1961.9,1037.9 1962.7,1037.0 1963.5,1030.2 1964.3,1033.9 1965.1,1034.1 1965.9,1034.8 1966.7,1036.9 1967.5,1035.0 1968.3,1036.7 1969.1,1036.5 1969.9,1039.3 1970.7,1042.8 1971.5,1035.1 1972.3,1031.2" stroke="#7edcd2"/>
<path d="M1089.1,1046.1 1089.9,1031.2 1090.7,1041.7 1091.5,1039.9 1092.3,1043.0 1093.1,1040.6 1093.9,1044.1 1094.7,1038.7 1095.5,1036.7 1096.3,1039.6 1097.1,1039.0 1097.9,1036.4 1098.7,1036.6 1099.5,1039.2 1100.3,1038.9 1101.1,1035.1 1101.9,1034.7 1102.7,1031.0 1103.5,1040.4 1104.3,1035.5 1105.1,1039.4 1105.9,1037.0 1106.7,1041.1 1107.5,1039.7 1108.3,1036.0 1109.1,1038.5 1109.9,1031.7 1110.7,1037.0 1111.5,1029.4 1112.3,1034.3 1113.1,1036.4 1113.9,1033.7 1114.7,1031.4 1115.5,1029.9 1116.3,1031.2 1117.1,1035.2 1117.9,1034.6 1118.7,1030.7 1119.5,1027.6 1120.3,1032.6 1121.1,1026.5 1121.9,1028.6 1122.7,1028.3 1123.5,1032.4 1124.3,1031.0 1125.1,1031.3 1125.9,1030.4 1126.7,1027.5 1127.5,1031.0 1128.3,1033.4 1129.1,1029.1 1129.9,1030.5 1130.7,1028.3 1131.5,1031.4 1132.3,1030.4 1133.1,1030.6 1133.9,1029.1 1134.7,1032.3 1135.5,1026.3 1136.3,1025.6 1137.1,1024.9 1137.9,1028.0 1138.7,1024.3 1139.5,1024.0 1140.3,1028.1 1141.1,1029.4 1141.9,1026.8 1142.7,1016.8 1143.5,1021.1 1144.3,1020.9 1145.1,1020.4 1145.9,1023.1 1146.7,1029.5 1147.5,1023.1 1148.3,1021.5 1149.1,1025.5 1149.9,1023.7 1150.7,1023.4 1151.5,1020.9 1152.3,1022.8 1153.1,1023.6 1153.9,1016.4 1154.7,1017.2 1155.5,1025.3 1156.3,1024.7 1157.1,1020.1 1157.9,1018.2 1158.7,1020.3 1159.5,1017.3 1160.3,1019.9 1161.1,1025.7 1161.9,1021.3 1162.7,1023.6 1163.5,1019.4 1164.3,1020.8 1165.1,1023.2 1165.9,1014.7 1166.7,1016.9 1167.5,1017.4 1168.3,1018.6 1169.1,1022.0 1169.9,1018.7 1170.7,1011.5 1171.5,1014.3 1172.3,1012.2 1173.1,1012.2 1173.9,1020.4 1174.7,1011.1 1175.5,1013.9 1176.3,1010.9 1177.1,1014.9 1177.9,1012.9 1178.7,1011.1 1179.5,1009.7 1180.3,1012.0 1181.1,1004.7 1181.9,1003.9 1182.7,1002.4 1183.5,1009.0 1184.3,1003.1 1185.1,999.2 1185.9,1000.2 1186.7,1007.4 1187.5,997.3 1188.3,996.9 1189.1,992.3 1189.9,986.4 1190.7,979.5 1191.5,975.6 1192.3,969.9 1193.1,959.0 1193.9,969.7 1194.7,959.0 1195.5,949.6 1196.3,941.8 1197.1,933.5 1197.9,933.1 1198.7,922.3 1199.5,916.8 1200.3,901.7 1201.1,900.2 1201.9,898.2 1202.7,881.0 1203.5,877.4 1204.3,868.5 1205.1,867.8 1205.9,863.2 1206.7,854.6 1207.5,848.3 1208.3,848.7 1209.1,844.7 1209.9,839.3 1210.7,841.8 1211.5,839.7 1212.3,832.2 1213.1,835.1 1213.9,847.9 1214.7,838.0 1215.5,834.3 1216.3,844.5 1217.1,831.3 1217.9,822.0 1218.7,825.4 1219.5,829.4 1220.3,839.5 1221.1,843.9 1221.9,832.1 1222.7,846.7 1223.5,838.4 1224.3,845.1 1225.1,846.9 1225.9,846.9 1226.7,845.1 1227.5,845.3 1228.3,839.6 1229.1,845.7 1229.9,849.0 1230.7,849.2 1231.5,856.0 1232.3,848.9 1233.1,846.6 1233.9,849.9 1234.7,842.7 1235.5,834.5 1236.3,830.4 1237.1,845.8 1237.9,843.5 1238.7,844.0 1239.5,838.8 1240.3,842.0 1241.1,848.8 1241.9,841.7 1242.7,834.8 1243.5,838.1 1244.3,845.9 1245.1,834.7 1245.9,827.2 1246.7,828.4 1247.5,833.7 1248.3,843.8 1249.1,841.1 1249.9,837.0 1250.7,834.9 1251.5,840.3 1252.3,840.6 1253.1,839.1 1253.9,840.6 1254.7,839.4 1255.5,850.1 1256.3,832.9 1257.1,843.1 1257.9,839.6 1258.7,847.3 1259.5,844.3 1260.3,847.3 1261.1,848.7 1261.9,848.1 1262.7,851.4 1263.5,842.1 1264.3,852.2 1265.1,848.4 1265.9,851.7 1266.7,857.7 1267.5,856.9 1268.3,859.8 1269.1,841.9 1269.9,847.6 1270.7,856.7 1271.5,848.7 1272.3,853.6 1273.1,862.7 1273.9,859.6 1274.7,852.2 1275.5,858.6 1276.3,860.2 1277.1,858.1 1277.9,857.7 1278.7,858.6 1279.5,852.1 1280.3,858.7 1281.1,854.9 1281.9,860.6 1282.7,860.7 1283.5,855.2 1284.3,861.2 1285.1,860.2 1285.9,858.3 1286.7,860.9 1287.5,856.1 1288.3,855.6 1289.1,856.7 1289.9,856.1 1290.7,859.8 1291.5,844.4 1292.3,851.5 1293.1,844.2 1293.9,850.0 1294.7,853.1 1295.5,851.8 1296.3,855.1 1297.1,850.7 1297.9,836.2 1298.7,842.5 1299.5,854.2 1300.3,853.6 1301.1,845.4 1301.9,837.5 1302.7,851.6 1303.5,832.8 1304.3,841.4 1305.1,839.5 1305.9,839.2 1306.7,831.9 1307.5,834.5 1308.3,840.2 1309.1,832.1 1309.9,826.9 1310.7,832.1 1311.5,832.0 1312.3,829.9 1313.1,826.2 1313.9,831.1 1314.7,827.1 1315.5,821.5 1316.3,826.7 1317.1,825.2 1317.9,824.4 1318.7,815.1 1319.5,818.5 1320.3,824.0 1321.1,825.7 1321.9,822.3 1322.7,820.7 1323.5,822.7 1324.3,823.8 1325.1,826.6 1325.9,819.7 1326.7,814.1 1327.5,817.4 1328.3,806.2 1329.1,814.5 1329.9,812.4 1330.7,814.1 1331.5,816.2 1332.3,813.3 1333.1,805.9 1333.9,810.2 1334.7,808.3 1335.5,811.8 1336.3,813.1 1337.1,807.1 1337.9,814.8 1338.7,817.3 1339.5,809.9 1340.3,813.2 1341.1,802.8 1341.9,806.8 1342.7,813.3 1343.5,800.6 1344.3,805.4 1345.1,804.4 1345.9,814.0 1346.7,813.8 1347.5,805.2 1348.3,807.1 1349.1,794.9 1349.9,810.6 1350.7,809.4 1351.5,812.6 1352.3,795.5 1353.1,807.3 1353.9,803.9 1354.7,793.1 1355.5,801.8 1356.3,805.7 1357.1,810.0 1357.9,807.0 1358.7,803.6 1359.5,808.0 1360.3,805.5 1361.1,802.6 1361.9,801.1 1362.7,806.9 1363.5,808.1 1364.3,815.8 1365.1,806.0 1365.9,815.1 1366.7,810.1 1367.5,813.3 1368.3,803.6 1369.1,803.5 1369.9,806.8 1370.7,812.8 1371.5,810.1 1372.3,812.6 1373.1,811.0 1373.9,814.2 1374.7,810.1 1375.5,806.7 1376.3,811.3 1377.1,810.1 1377.9,817.3 1378.7,808.5 1379.5,808.9 1380.3,807.3 1381.1,814.1 1381.9,812.9 1382.7,810.9 1383.5,801.2 1384.3,799.6 1385.1,808.2 1385.9,811.0 1386.7,813.5 1387.5,798.0 1388.3,804.1 1389.1,797.2 1389.9,800.2 1390.7,804.2 1391.5,809.5 1392.3,802.2 1393.1,800.6 1393.9,802.8 1394.7,810.8 1395.5,815.5 1396.3,796.6 1397.1,801.2 1397.9,801.2 1398.7,808.6 1399.5,805.7 1400.3,809.9 1401.1,797.8 1401.9,801.7 1402.7,799.3 1403.5,796.1 1404.3,800.0 1405.1,796.2 1405.9,811.7 1406.7,803.4 1407.5,795.7 1408.3,797.8 1409.1,808.5 1409.9,798.5 1410.7,803.2 1411.5,802.9 1412.3,804.9 1413.1,802.2 1413.9,797.3 1414.7,794.2 1415.5,788.4 1416.3,796.1 1417.1,797.0 1417.9,794.2 1418.7,794.2 1419.5,789.5 1420.3,804.7 1421.1,791.7 1421.9,787.8 1422.7,789.4 1423.5,791.4 1424.3,794.6 1425.1,779.4 1425.9,792.2 1426.7,787.2 1427.5,788.9 1428.3,794.6 1429.1,792.8 1429.9,785.1 1430.7,787.9 1431.5,797.5 1432.3,795.0 1433.1,791.8 1433.9,787.3 1434.7,791.4 1435.5,788.3 1436.3,783.0 1437.1,780.7 1437.9,788.1 1438.7,788.2 1439.5,791.6 1440.3,784.0 1441.1,792.3 1441.9,784.6 1442.7,792.0 1443.5,788.6 1444.3,782.6 1445.1,780.7 1445.9,784.8 1446.7,784.9 1447.5,790.5 1448.3,782.5 1449.1,778.6 1449.9,786.5 1450.7,796.9 1451.5,795.6 1452.3,784.3 1453.1,785.7 1453.9,788.6 1454.7,784.2 1455.5,786.1 1456.3,786.0 1457.1,782.4 1457.9,784.6 1458.7,785.8 1459.5,789.2 1460.3,782.9 1461.1,788.7 1461.9,783.8 1462.7,784.3 1463.5,784.7 1464.3,809.7 1465.1,797.8 1465.9,797.3 1466.7,794.5 1467.5,789.3 1468.3,790.7 1469.1,792.2 1469.9,793.4 1470.7,794.7 1471.5,798.1 1472.3,776.9 1473.1,788.1 1473.9,795.0 1474.7,790.5 1475.5,792.0 1476.3,800.1 1477.1,794.9 1477.9,802.0 1478.7,793.7 1479.5,794.2 1480.3,787.7 1481.1,783.3 1481.9,791.2 1482.7,794.2 1483.5,792.1 1484.3,787.8 1485.1,797.4 1485.9,795.3 1486.7,794.6 1487.5,791.5 1488.3,803.4 1489.1,803.0 1489.9,797.0 1490.7,794.6 1491.5,796.8 1492.3,804.5 1493.1,809.6 1493.9,795.8 1494.7,792.1 1495.5,786.6 1496.3,807.7 1497.1,790.4 1497.9,798.7 1498.7,797.7 1499.5,800.9 1500.3,789.8 1501.1,785.7 1501.9,794.3 1502.7,796.3 1503.5,799.0 1504.3,785.3 1505.1,790.4 1505.9,791.2 1506.7,786.1 1507.5,791.8 1508.3,796.6 1509.1,792.1 1509.9,785.2 1510.7,793.7 1511.5,796.6 1512.3,795.1 1513.1,795.2 1513.9,783.6 1514.7,793.2 1515.5,794.2 1516.3,789.2 1517.1,790.1 1517.9,787.1 1518.7,796.3 1519.5,788.8 1520.3,785.3 1521.1,790.5 1521.9,790.5 1522.7,792.6 1523.5,785.0 1524.3,785.5 1525.1,791.3 1525.9,800.2 1526.7,791.1 1527.5,781.5 1528.3,788.1 1529.1,783.2 1529.9,777.6 1530.7,783.0 1531.5,784.1 1532.3,789.2 1533.1,793.9 1533.9,792.9 1534.7,790.5 1535.5,784.1 1536.3,786.4 1537.1,785.9 1537.9,792.2 1538.7,782.1 1539.5,782.4 1540.3,792.3 1541.1,787.8 1541.9,782.3 1542.7,784.8 1543.5,784.8 1544.3,785.0 1545.1,787.7 1545.9,785.3 1546.7,782.0 1547.5,779.4 1548.3,773.3 1549.1,779.7 1549.9,787.7 1550.7,783.0 1551.5,778.2 1552.3,779.6 1553.1,776.8 1553.9,783.0 1554.7,792.1 1555.5,791.4 1556.3,788.1 1557.1,785.5 1557.9,779.9 1558.7,774.9 1559.5,781.0 1560.3,779.7 1561.1,786.1 1561.9,783.1 1562.7,779.7 1563.5,785.9 1564.3,797.8 1565.1,780.2 1565.9,789.5 1566.7,787.6 1567.5,784.1 1568.3,781.2 1569.1,785.5 1569.9,787.4 1570.7,790.8 1571.5,791.0 1572.3,789.3 1573.1,785.0 1573.9,790.0 1574.7,786.9 1575.5,785.0 1576.3,794.7 1577.1,788.1 1577.9,786.0 1578.7,792.3 1579.5,783.9 1580.3,793.5 1581.1,797.2 1581.9,794.0 1582.7,798.5 1583.5,808.9 1584.3,806.6 1585.1,804.7 1585.9,803.4 1586.7,798.7 1587.5,801.1 1588.3,801.5 1589.1,803.9 1589.9,804.9 1590.7,802.1 1591.5,813.5 1592.3,802.5 1593.1,809.5 1593.9,813.5 1594.7,808.9 1595.5,806.2 1596.3,810.5 1597.1,820.0 1597.9,814.4 1598.7,810.2 1599.5,814.2 1600.3,810.5 1601.1,803.2 1601.9,813.6 1602.7,818.6 1603.5,819.4 1604.3,813.6 1605.1,808.1 1605.9,820.4 1606.7,815.6 1607.5,820.3 1608.3,823.0 1609.1,820.0 1609.9,818.5 1610.7,816.6 1611.5,818.5 1612.3,821.5 1613.1,820.6 1613.9,824.6 1614.7,815.2 1615.5,820.2 1616.3,826.0 1617.1,824.2 1617.9,825.6 1618.7,824.4 1619.5,834.0 1620.3,839.1 1621.1,828.7 1621.9,838.0 1622.7,828.0 1623.5,834.8 1624.3,827.1 1625.1,838.8 1625.9,838.4 1626.7,840.0 1627.5,845.7 1628.3,843.9 1629.1,841.5 1629.9,838.8 1630.7,843.2 1631.5,841.0 1632.3,843.4 1633.1,852.9 1633.9,851.3 1634.7,849.3 1635.5,850.8 1636.3,842.7 1637.1,849.2 1637.9,842.6 1638.7,847.7 1639.5,853.4 1640.3,854.5 1641.1,856.4 1641.9,854.6 1642.7,854.6 1643.5,855.4 1644.3,862.3 1645.1,862.1 1645.9,850.9 1646.7,858.1 1647.5,864.0 1648.3,858.3 1649.1,860.4 1649.9,857.4 1650.7,855.6 1651.5,861.9 1652.3,860.7 1653.1,862.0 1653.9,857.2 1654.7,859.1 1655.5,864.3 1656.3,864.3 1657.1,868.8 1657.9,863.3 1658.7,871.2 1659.5,871.7 1660.3,870.5 1661.1,873.3 1661.9,871.0 1662.7,871.0 1663.5,872.1 1664.3,867.9 1665.1,873.9 1665.9,877.9 1666.7,869.3 1667.5,878.8 1668.3,874.7 1669.1,876.4 1669.9,879.2 1670.7,881.0 1671.5,886.1 1672.3,881.3 1673.1,888.9 1673.9,883.2 1674.7,885.3 1675.5,886.4 1676.3,881.2 1677.1,879.9 1677.9,885.6 1678.7,889.0 1679.5,890.0 1680.3,886.0 1681.1,894.5 1681.9,887.5 1682.7,885.7 1683.5,893.7 1684.3,894.4 1685.1,886.3 1685.9,893.1 1686.7,885.8 1687.5,891.9 1688.3,901.9 1689.1,898.9 1689.9,896.8 1690.7,896.6 1691.5,891.4 1692.3,896.5 1693.1,897.6 1693.9,892.5 1694.7,898.0 1695.5,900.3 1696.3,899.8 1697.1,901.1 1697.9,898.9 1698.7,896.1 1699.5,900.7 1700.3,894.1 1701.1,899.7 1701.9,908.3 1702.7,912.0 1703.5,906.5 1704.3,896.4 1705.1,911.3 1705.9,909.6 1706.7,907.4 1707.5,911.7 1708.3,911.4 1709.1,905.1 1709.9,905.6 1710.7,914.9 1711.5,903.7 1712.3,915.2 1713.1,915.8 1713.9,919.4 1714.7,923.3 1715.5,922.7 1716.3,924.0 1717.1,921.8 1717.9,921.3 1718.7,923.8 1719.5,920.1 1720.3,917.2 1721.1,920.4 1721.9,915.5 1722.7,920.4 1723.5,931.0 1724.3,925.9 1725.1,923.1 1725.9,921.3 1726.7,917.3 1727.5,922.1 1728.3,922.0 1729.1,925.3 1729.9,926.0 1730.7,925.2 1731.5,919.2 1732.3,931.7 1733.1,928.8 1733.9,927.0 1734.7,926.0 1735.5,929.3 1736.3,932.6 1737.1,930.1 1737.9,923.2 1738.7,922.3 1739.5,918.9 1740.3,928.5 1741.1,931.8 1741.9,933.8 1742.7,930.1 1743.5,932.1 1744.3,926.1 1745.1,931.2 1745.9,929.1 1746.7,926.7 1747.5,923.5 1748.3,933.4 1749.1,921.9 1749.9,931.8 1750.7,927.6 1751.5,932.4 1752.3,928.8 1753.1,933.4 1753.9,929.9 1754.7,926.7 1755.5,928.4 1756.3,924.9 1757.1,932.2 1757.9,935.5 1758.7,933.3 1759.5,932.3 1760.3,936.2 1761.1,927.5 1761.9,933.4 1762.7,931.7 1763.5,930.0 1764.3,933.4 1765.1,927.5 1765.9,931.1 1766.7,932.9 1767.5,927.6 1768.3,931.2 1769.1,934.6 1769.9,936.1 1770.7,929.7 1771.5,936.2 1772.3,932.5 1773.1,933.8 1773.9,932.2 1774.7,937.1 1775.5,932.4 1776.3,936.2 1777.1,937.4 1777.9,938.8 1778.7,933.0 1779.5,939.7 1780.3,938.2 1781.1,943.5 1781.9,937.5 1782.7,936.8 1783.5,939.1 1784.3,938.9 1785.1,939.6 1785.9,935.8 1786.7,933.2 1787.5,936.0 1788.3,940.3 1789.1,944.6 1789.9,942.5 1790.7,940.6 1791.5,944.1 1792.3,946.3 1793.1,956.7 1793.9,952.1 1794.7,947.8 1795.5,942.4 1796.3,947.3 1797.1,947.9 1797.9,952.0 1798.7,958.1 1799.5,950.5 1800.3,944.0 1801.1,950.5 1801.9,946.4 1802.7,955.8 1803.5,957.8 1804.3,955.1 1805.1,949.0 1805.9,954.2 1806.7,959.5 1807.5,952.4 1808.3,954.0 1809.1,957.7 1809.9,959.2 1810.7,958.2 1811.5,959.5 1812.3,959.3 1813.1,957.0 1813.9,959.2 1814.7,960.8 1815.5,956.7 1816.3,961.5 1817.1,962.1 1817.9,963.8 1818.7,963.7 1819.5,959.2 1820.3,959.0 1821.1,964.9 1821.9,964.5 1822.7,965.7 1823.5,963.8 1824.3,962.1 1825.1,967.9 1825.9,967.7 1826.7,970.9 1827.5,973.4 1828.3,974.0 1829.1,973.7 1829.9,967.1 1830.7,963.4 1831.5,968.7 1832.3,967.4 1833.1,967.8 1833.9,974.5 1834.7,968.0 1835.5,976.7 1836.3,978.7 1837.1,984.1 1837.9,979.4 1838.7,982.3 1839.5,973.3 1840.3,973.2 1841.1,978.7 1841.9,972.0 1842.7,979.9 1843.5,975.5 1844.3,970.4 1845.1,982.8 1845.9,974.6 1846.7,985.7 1847.5,973.3 1848.3,975.0 1849.1,979.0 1849.9,978.4 1850.7,973.5 1851.5,979.2 1852.3,980.1 1853.1,980.8 1853.9,974.2 1854.7,977.5 1855.5,979.9 1856.3,983.3 1857.1,981.4 1857.9,979.7 1858.7,980.1 1859.5,986.3 1860.3,979.5 1861.1,982.5 1861.9,975.6 1862.7,988.3 1863.5,984.8 1864.3,977.9 1865.1,986.0 1865.9,989.5 1866.7,988.0 1867.5,985.9 1868.3,988.4 1869.1,983.7 1869.9,985.4 1870.7,985.7 1871.5,987.3 1872.3,984.6 1873.1,992.6 1873.9,988.2 1874.7,985.2 1875.5,988.4 1876.3,990.8 1877.1,990.5 1877.9,993.9 1878.7,989.5 1879.5,988.3 1880.3,993.0 1881.1,995.7 1881.9,988.5 1882.7,986.4 1883.5,989.8 1884.3,992.0 1885.1,989.6 1885.9,993.4 1886.7,991.0 1887.5,996.5 1888.3,990.4 1889.1,991.4 1889.9,995.3 1890.7,998.0 1891.5,999.0 1892.3,994.4 1893.1,997.0 1893.9,999.5 1894.7,1002.5 1895.5,995.5 1896.3,994.8 1897.1,1000.7 1897.9,999.6 1898.7,1004.8 1899.5,1001.4 1900.3,1002.4 1901.1,999.5 1901.9,1003.4 1902.7,1006.8 1903.5,1002.5 1904.3,1000.0 1905.1,1006.6 1905.9,1003.6 1906.7,1004.8 1907.5,1003.1 1908.3,1008.2 1909.1,1003.5 1909.9,1004.4 1910.7,1006.4 1911.5,1005.6 1912.3,999.9 1913.1,1008.2 1913.9,1004.1 1914.7,1008.5 1915.5,1007.0 1916.3,1007.9 1917.1,1006.2 1917.9,1005.6 1918.7,1009.7 1919.5,1010.6 1920.3,1013.3 1921.1,1011.9 1921.9,1008.5 1922.7,1014.7 1923.5,1018.3 1924.3,1013.8 1925.1,1010.6 1925.9,1008.4 1926.7,1011.5 1927.5,1007.6 1928.3,1014.3 1929.1,1011.3 1929.9,1010.8 1930.7,1013.3 1931.5,1008.9 1932.3,1007.6 1933.1,1012.2 1933.9,1017.6 1934.7,1012.1 1935.5,1016.8 1936.3,1009.3 1937.1,1014.8 1937.9,1017.6 1938.7,1021.3 1939.5,1011.1 1940.3,1015.8 1941.1,1014.1 1941.9,1017.9 1942.7,1015.9 1943.5,1017.9 1944.3,1015.8 1945.1,1016.7 1945.9,1020.3 1946.7,1023.9 1947.5,1020.4 1948.3,1020.0 1949.1,1018.9 1949.9,1024.6 1950.7,1014.3 1951.5,1014.0 1952.3,1018.2 1953.1,1022.6 1953.9,1024.6 1954.7,1023.8 1955.5,1024.4 1956.3,1022.7 1957.1,1020.7 1957.9,1019.3 1958.7,1023.8 1959.5,1020.3 1960.3,1024.5 1961.1,1025.8 1961.9,1021.9 1962.7,1022.4 1963.5,1022.6 1964.3,1026.5 1965.1,1025.2 1965.9,1022.9 1966.7,1026.1 1967.5,1030.1 1968.3,1026.8 1969.1,1026.2 1969.9,1024.6 1970.7,1023.3 1971.5,1026.3 1972.3,1026.9" stroke="#f08ea2"/>
<path d="M1089.1,1032.0 1089.9,1029.0 1090.7,1041.9 1091.5,1043.8 1092.3,1042.5 1093.1,1036.7 1093.9,1037.2 1094.7,1036.7 1095.5,1041.6 1096.3,1040.0 1097.1,1037.2 1097.9,1039.0 1098.7,1040.8 1099.5,1037.2 1100.3,1032.3 1101.1,1034.9 1101.9,1033.5 1102.7,1029.4 1103.5,1027.9 1104.3,1034.4 1105.1,1031.1 1105.9,1035.1 1106.7,1031.6 1107.5,1036.3 1108.3,1036.6 1109.1,1034.4 1109.9,1028.7 1110.7,1026.4 1111.5,1039.0 1112.3,1033.1 1113.1,1038.7 1113.9,1031.3 1114.7,1027.8 1115.5,1030.9 1116.3,1027.2 1117.1,1031.2 1117.9,1036.3 1118.7,1034.5 1119.5,1040.7 1120.3,1032.1 1121.1,1030.9 1121.9,1026.6 1122.7,1026.3 1123.5,1029.7 1124.3,1026.1 1125.1,1027.5 1125.9,1027.3 1126.7,1025.1 1127.5,1035.2 1128.3,1022.2 1129.1,1028.1 1129.9,1031.1 1130.7,1031.2 1131.5,1025.8 1132.3,1024.0 1133.1,1035.1 1133.9,1034.4 1134.7,1027.4 1135.5,1026.3 1136.3,1026.1 1137.1,1022.0 1137.9,1025.4 1138.7,1029.2 1139.5,1027.6 1140.3,1022.0 1141.1,1026.9 1141.9,1021.4 1142.7,1018.5 1143.5,1024.9 1144.3,1026.4 1145.1,1028.5 1145.9,1021.0 1146.7,1026.7 1147.5,1025.1 1148.3,1023.7 1149.1,1021.2 1149.9,1021.6 1150.7,1024.0 1151.5,1023.1 1152.3,1017.8 1153.1,1019.4 1153.9,1021.3 1154.7,1024.8 1155.5,1023.0 1156.3,1020.9 1157.1,1020.3 1157.9,1025.8 1158.7,1019.0 1159.5,1017.2 1160.3,1018.2 1161.1,1020.7 1161.9,1019.3 1162.7,1017.0 1163.5,1017.1 1164.3,1020.2 1165.1,1019.9 1165.9,1018.7 1166.7,1014.1 1167.5,1017.0 1168.3,1020.5 1169.1,1014.1 1169.9,1021.3 1170.7,1016.5 1171.5,1017.9 1172.3,1011.4 1173.1,1018.6 1173.9,1014.2 1174.7,1014.8 1175.5,1015.6 1176.3,1017.8 1177.1,1011.5 1177.9,1013.0 1178.7,1010.5 1179.5,1003.4 1180.3,1003.1 1181.1,1001.6 1181.9,1005.3 1182.7,1006.2 1183.5,1006.6 1184.3,1007.2 1185.1,1003.1 1185.9,996.7 1186.7,1004.9 1187.5,997.3 1188.3,990.9 1189.1,983.9 1189.9,987.1 1190.7,976.1 1191.5,980.8 1192.3,972.0 1193.1,958.4 1193.9,957.3 1194.7,958.8 1195.5,936.9 1196.3,932.8 1197.1,918.5 1197.9,919.5 1198.7,918.2 1199.5,900.4 1200.3,889.1 1201.1,878.2 1201.9,869.0 1202.7,860.8 1203.5,859.6 1204.3,855.5 1205.1,834.0 1205.9,828.8 1206.7,843.8 1207.5,840.7 1208.3,825.1 1209.1,827.6 1209.9,828.9 1210.7,828.6 1211.5,823.9 1212.3,822.8 1213.1,819.1 1213.9,822.8 1214.7,818.1 1215.5,816.5 1216.3,816.2 1217.1,815.6 1217.9,823.9 1218.7,824.0 1219.5,825.2 1220.3,824.7 1221.1,831.9 1221.9,831.6 1222.7,825.8 1223.5,821.3 1224.3,833.2 1225.1,838.5 1225.9,851.0 1226.7,849.4 1227.5,847.7 1228.3,855.4 1229.1,841.9 1229.9,845.4 1230.7,849.1 1231.5,845.5 1232.3,844.9 1233.1,848.0 1233.9,846.1 1234.7,851.8 1235.5,837.8 1236.3,849.6 1237.1,856.2 1237.9,845.5 1238.7,844.5 1239.5,850.6 1240.3,850.0 1241.1,852.7 1241.9,848.9 1242.7,853.2 1243.5,855.3 1244.3,842.1 1245.1,853.1 1245.9,856.7 1246.7,849.1 1247.5,849.6 1248.3,860.3 1249.1,854.4 1249.9,859.4 1250.7,862.9 1251.5,862.9 1252.3,852.5 1253.1,860.7 1253.9,857.1 1254.7,851.2 1255.5,863.1 1256.3,866.4 1257.1,861.6 1257.9,866.5 1258.7,866.1 1259.5,865.3 1260.3,856.8 1261.1,867.8 1261.9,859.7 1262.7,859.1 1263.5,864.4 1264.3,874.5 1265.1,873.1 1265.9,876.9 1266.7,870.0 1267.5,873.9 1268.3,870.2 1269.1,870.1 1269.9,875.4 1270.7,873.1 1271.5,865.6 1272.3,876.3 1273.1,872.9 1273.9,883.8 1274.7,876.0 1275.5,876.2 1276.3,869.0 1277.1,880.6 1277.9,878.9 1278.7,871.4 1279.5,873.4 1280.3,870.3 1281.1,884.1 1281.9,871.0 1282.7,880.5 1283.5,872.4 1284.3,887.6 1285.1,884.9 1285.9,881.0 1286.7,875.3 1287.5,873.3 1288.3,878.2 1289.1,876.3 1289.9,869.5 1290.7,878.2 1291.5,874.3 1292.3,868.8 1293.1,868.7 1293.9,870.2 1294.7,869.2 1295.5,865.0 1296.3,863.1 1297.1,853.8 1297.9,868.7 1298.7,859.1 1299.5,853.2 1300.3,860.0 1301.1,849.7 1301.9,854.1 1302.7,842.1 1303.5,852.7 1304.3,850.3 1305.1,854.3 1305.9,860.2 1306.7,860.4 1307.5,852.2 1308.3,860.5 1309.1,861.9 1309.9,857.3 1310.7,845.6 1311.5,847.0 1312.3,852.9 1313.1,840.1 1313.9,849.8 1314.7,845.0 1315.5,853.5 1316.3,841.0 1317.1,841.6 1317.9,833.9 1318.7,828.0 1319.5,832.8 1320.3,828.2 1321.1,835.4 1321.9,835.2 1322.7,831.8 1323.5,829.1 1324.3,830.1 1325.1,827.3 1325.9,829.7 1326.7,832.2 1327.5,833.7 1328.3,830.7 1329.1,833.0 1329.9,827.8 1330.7,834.7 1331.5,843.8 1332.3,836.1 1333.1,833.5 1333.9,832.0 1334.7,827.9 1335.5,835.7 1336.3,838.1 1337.1,835.9 1337.9,832.1 1338.7,834.8 1339.5,833.3 1340.3,840.8 1341.1,833.6 1341.9,839.4 1342.7,832.3 1343.5,830.6 1344.3,835.1 1345.1,835.6 1345.9,833.2 1346.7,839.8 1347.5,828.9 1348.3,834.4 1349.1,835.8 1349.9,832.4 1350.7,837.0 1351.5,828.9 1352.3,829.0 1353.1,837.5 1353.9,838.5 1354.7,843.3 1355.5,840.2 1356.3,838.9 1357.1,839.5 1357.9,840.5 1358.7,832.7 1359.5,841.1 1360.3,838.8 1361.1,841.6 1361.9,832.9 1362.7,844.6 1363.5,846.9 1364.3,843.2 1365.1,851.1 1365.9,833.3 1366.7,836.6 1367.5,839.8 1368.3,843.0 1369.1,840.8 1369.9,842.0 1370.7,842.9 1371.5,837.6 1372.3,846.2 1373.1,846.1 1373.9,837.0 1374.7,834.8 1375.5,835.8 1376.3,834.0 1377.1,839.0 1377.9,838.0 1378.7,840.0 1379.5,831.4 1380.3,836.2 1381.1,836.6 1381.9,837.8 1382.7,837.4 1383.5,836.6 1384.3,833.6 1385.1,826.7 1385.9,831.0 1386.7,839.7 1387.5,835.4 1388.3,832.0 1389.1,819.8 1389.9,829.1 1390.7,829.8 1391.5,823.1 1392.3,815.2 1393.1,827.6 1393.9,817.5 1394.7,820.3 1395.5,823.1 1396.3,823.1 1397.1,819.8 1397.9,804.0 1398.7,812.8 1399.5,808.8 1400.3,812.6 1401.1,809.2 1401.9,820.6 1402.7,804.3 1403.5,815.9 1404.3,809.8 1405.1,811.7 1405.9,807.2 1406.7,805.6 1407.5,803.6 1408.3,813.9 1409.1,807.7 1409.9,804.9 1410.7,807.5 1411.5,806.1 1412.3,802.6 1413.1,805.6 1413.9,806.7 1414.7,811.8 1415.5,796.4 1416.3,790.1 1417.1,798.8 1417.9,810.7 1418.7,804.0 1419.5,799.2 1420.3,796.5 1421.1,791.0 1421.9,805.2 1422.7,804.3 1423.5,805.9 1424.3,791.9 1425.1,803.1 1425.9,800.7 1426.7,797.9 1427.5,788.3 1428.3,792.8 1429.1,789.0 1429.9,791.3 1430.7,781.4 1431.5,783.7 1432.3,786.2 1433.1,778.2 1433.9,789.5 1434.7,791.9 1435.5,785.0 1436.3,785.4 1437.1,785.9 1437.9,791.5 1438.7,789.8 1439.5,790.2 1440.3,787.4 1441.1,785.2 1441.9,787.3 1442.7,790.5 1443.5,796.3 1444.3,787.7 1445.1,778.6 1445.9,777.2 1446.7,775.4 1447.5,781.3 1448.3,782.1 1449.1,774.5 1449.9,776.4 1450.7,781.2 1451.5,784.5 1452.3,779.2 1453.1,790.6 1453.9,782.6 1454.7,780.2 1455.5,772.9 1456.3,782.9 1457.1,776.2 1457.9,776.3 1458.7,768.6 1459.5,784.6 1460.3,789.6 1461.1,779.6 1461.9,776.5 1462.7,777.8 1463.5,776.1 1464.3,782.2 1465.1,781.4 1465.9,777.0 1466.7,771.6 1467.5,775.3 1468.3,777.3 1469.1,775.2 1469.9,788.6 1470.7,770.6 1471.5,771.4 1472.3,776.7 1473.1,783.4 1473.9,775.9 1474.7,774.8 1475.5,782.9 1476.3,787.8 1477.1,776.4 1477.9,783.3 1478.7,784.1 1479.5,776.5 1480.3,771.7 1481.1,775.7 1481.9,776.2 1482.7,780.8 1483.5,774.4 1484.3,789.7 1485.1,783.6 1485.9,776.8 1486.7,776.5 1487.5,773.2 1488.3,766.9 1489.1,774.9 1489.9,777.3 1490.7,773.8 1491.5,779.2 1492.3,774.2 1493.1,772.7 1493.9,768.5 1494.7,775.9 1495.5,764.4 1496.3,769.6 1497.1,770.1 1497.9,779.6 1498.7,764.8 1499.5,771.0 1500.3,775.8 1501.1,769.5 1501.9,776.3 1502.7,769.8 1503.5,771.3 1504.3,774.7 1505.1,773.5 1505.9,765.4 1506.7,774.5 1507.5,765.6 1508.3,778.0 1509.1,765.1 1509.9,770.1 1510.7,765.3 1511.5,774.2 1512.3,773.7 1513.1,769.4 1513.9,768.6 1514.7,752.3 1515.5,760.4 1516.3,765.4 1517.1,764.4 1517.9,765.2 1518.7,768.2 1519.5,775.1 1520.3,766.0 1521.1,764.0 1521.9,765.3 1522.7,768.8 1523.5,769.3 1524.3,767.6 1525.1,772.7 1525.9,765.8 1526.7,764.6 1527.5,760.2 1528.3,767.3 1529.1,761.9 1529.9,770.2 1530.7,759.9 1531.5,765.6 1532.3,762.3 1533.1,753.9 1533.9,739.8 1534.7,761.5 1535.5,759.5 1536.3,756.3 1537.1,754.9 1537.9,764.6 1538.7,759.7 1539.5,751.4 1540.3,770.7 1541.1,755.9 1541.9,754.7 1542.7,761.2 1543.5,751.8 1544.3,760.4 1545.1,770.3 1545.9,761.9 1546.7,760.3 1547.5,761.5 1548.3,757.0 1549.1,749.3 1549.9,759.2 1550.7,761.9 1551.5,756.5 1552.3,754.6 1553.1,759.2 1553.9,759.5 1554.7,766.8 1555.5,762.9 1556.3,761.8 1557.1,758.0 1557.9,751.9 1558.7,755.0 1559.5,761.8 1560.3,764.8 1561.1,763.7 1561.9,755.2 1562.7,767.9 1563.5,759.3 1564.3,765.8 1565.1,768.5 1565.9,760.8 1566.7,769.8 1567.5,756.0 1568.3,761.2 1569.1,758.4 1569.9,770.4 1570.7,769.5 1571.5,779.2 1572.3,772.1 1573.1,766.7 1573.9,757.1 1574.7,761.8 1575.5,765.1 1576.3,764.1 1577.1,771.2 1577.9,763.7 1578.7,761.7 1579.5,762.4 1580.3,759.8 1581.1,756.1 1581.9,771.8 1582.7,774.3 1583.5,769.7 1584.3,768.6 1585.1,762.6 1585.9,787.2 1586.7,780.4 1587.5,773.2 1588.3,773.3 1589.1,779.2 1589.9,789.4 1590.7,778.1 1591.5,779.1 1592.3,776.3 1593.1,781.0 1593.9,791.0 1594.7,786.1 1595.5,782.1 1596.3,798.9 1597.1,785.6 1597.9,793.5 1598.7,794.0 1599.5,780.9 1600.3,781.9 1601.1,791.1 1601.9,788.6 1602.7,798.5 1603.5,795.4 1604.3,783.2 1605.1,803.9 1605.9,790.5 1606.7,795.0 1607.5,801.8 1608.3,800.2 1609.1,800.2 1609.9,801.4 1610.7,803.3 1611.5,806.2 1612.3,797.2 1613.1,807.2 1613.9,807.5 1614.7,813.9 1615.5,812.3 1616.3,802.2 1617.1,801.4 1617.9,815.7 1618.7,807.5 1619.5,819.1 1620.3,822.6 1621.1,816.9 1621.9,818.4 1622.7,807.3 1623.5,823.9 1624.3,817.2 1625.1,825.2 1625.9,822.8 1626.7,824.1 1627.5,818.4 1628.3,818.4 1629.1,804.5 1629.9,823.7 1630.7,817.3 1631.5,823.4 1632.3,814.1 1633.1,820.9 1633.9,822.2 1634.7,825.4 1635.5,823.2 1636.3,829.0 1637.1,842.9 1637.9,829.4 1638.7,826.6 1639.5,830.9 1640.3,833.5 1641.1,842.4 1641.9,830.7 1642.7,835.2 1643.5,826.4 1644.3,837.4 1645.1,835.0 1645.9,830.0 1646.7,843.0 1647.5,829.2 1648.3,835.5 1649.1,834.4 1649.9,836.4 1650.7,843.0 1651.5,832.6 1652.3,845.3 1653.1,851.7 1653.9,844.1 1654.7,850.7 1655.5,852.0 1656.3,852.8 1657.1,851.4 1657.9,852.8 1658.7,848.0 1659.5,852.9 1660.3,846.5 1661.1,862.0 1661.9,857.3 1662.7,851.1 1663.5,863.9 1664.3,858.4 1665.1,860.0 1665.9,862.0 1666.7,855.8 1667.5,864.9 1668.3,861.6 1669.1,871.1 1669.9,856.5 1670.7,873.5 1671.5,866.7 1672.3,870.5 1673.1,864.0 1673.9,870.4 1674.7,870.5 1675.5,872.9 1676.3,871.6 1677.1,879.7 1677.9,880.0 1678.7,878.5 1679.5,878.1 1680.3,874.3 1681.1,887.8 1681.9,879.7 1682.7,877.9 1683.5,880.1 1684.3,874.4 1685.1,877.8 1685.9,886.1 1686.7,880.0 1687.5,889.3 1688.3,883.2 1689.1,895.6 1689.9,888.1 1690.7,884.9 1691.5,889.1 1692.3,888.9 1693.1,886.1 1693.9,889.3 1694.7,888.6 1695.5,876.5 1696.3,883.2 1697.1,893.1 1697.9,886.6 1698.7,897.0 1699.5,892.2 1700.3,893.9 1701.1,891.8 1701.9,896.9 1702.7,904.3 1703.5,908.8 1704.3,898.3 1705.1,904.8 1705.9,897.4 1706.7,895.7 1707.5,899.7 1708.3,907.5 1709.1,907.7 1709.9,910.2 1710.7,915.5 1711.5,915.3 1712.3,910.6 1713.1,907.2 1713.9,909.1 1714.7,912.1 1715.5,914.9 1716.3,912.5 1717.1,913.1 1717.9,905.8 1718.7,911.1 1719.5,912.3 1720.3,904.2 1721.1,909.2 1721.9,912.2 1722.7,916.1 1723.5,915.7 1724.3,908.3 1725.1,917.8 1725.9,924.6 1726.7,922.5 1727.5,916.2 1728.3,915.9 1729.1,926.5 1729.9,919.6 1730.7,918.8 1731.5,915.4 1732.3,930.2 1733.1,923.5 1733.9,918.4 1734.7,923.0 1735.5,926.8 1736.3,932.1 1737.1,928.0 1737.9,924.4 1738.7,930.2 1739.5,928.1 1740.3,930.3 1741.1,931.1 1741.9,929.9 1742.7,929.8 1743.5,924.8 1744.3,935.9 1745.1,931.8 1745.9,934.4 1746.7,936.5 1747.5,933.8 1748.3,939.2 1749.1,939.4 1749.9,941.6 1750.7,940.0 1751.5,942.6 1752.3,945.0 1753.1,937.0 1753.9,933.4 1754.7,938.7 1755.5,941.9 1756.3,937.2 1757.1,940.1 1757.9,946.0 1758.7,949.2 1759.5,943.2 1760.3,947.7 1761.1,947.1 1761.9,942.3 1762.7,945.4 1763.5,949.8 1764.3,948.0 1765.1,949.9 1765.9,943.5 1766.7,948.2 1767.5,946.0 1768.3,944.9 1769.1,950.9 1769.9,949.9 1770.7,946.6 1771.5,955.0 1772.3,946.1 1773.1,949.4 1773.9,958.5 1774.7,957.4 1775.5,958.7 1776.3,954.3 1777.1,955.6 1777.9,949.4 1778.7,952.7 1779.5,962.6 1780.3,960.8 1781.1,959.6 1781.9,963.2 1782.7,963.8 1783.5,956.8 1784.3,961.7 1785.1,963.5 1785.9,958.9 1786.7,964.7 1787.5,961.8 1788.3,968.2 1789.1,966.8 1789.9,964.7 1790.7,961.4 1791.5,969.0 1792.3,966.6 1793.1,965.6 1793.9,965.0 1794.7,968.4 1795.5,972.0 1796.3,970.4 1797.1,973.2 1797.9,971.8 1798.7,968.7 1799.5,971.4 1800.3,971.5 1801.1,971.1 1801.9,970.9 1802.7,973.2 1803.5,976.3 1804.3,976.8 1805.1,969.4 1805.9,976.2 1806.7,978.8 1807.5,973.1 1808.3,976.9 1809.1,974.8 1809.9,974.9 1810.7,980.9 1811.5,981.2 1812.3,978.1 1813.1,978.6 1813.9,971.9 1814.7,969.9 1815.5,973.7 1816.3,972.5 1817.1,976.8 1817.9,985.1 1818.7,986.2 1819.5,988.5 1820.3,986.1 1821.1,981.3 1821.9,979.8 1822.7,984.4 1823.5,992.3 1824.3,979.8 1825.1,989.9 1825.9,987.6 1826.7,982.5 1827.5,984.0 1828.3,985.3 1829.1,985.1 1829.9,983.3 1830.7,988.7 1831.5,991.0 1832.3,987.1 1833.1,988.7 1833.9,987.4 1834.7,993.3 1835.5,989.5 1836.3,990.9 1837.1,996.9 1837.9,994.5 1838.7,999.1 1839.5,996.9 1840.3,994.3 1841.1,990.9 1841.9,993.9 1842.7,996.8 1843.5,990.8 1844.3,990.1 1845.1,989.2 1845.9,993.5 1846.7,990.6 1847.5,994.3 1848.3,995.7 1849.1,997.8 1849.9,995.3 1850.7,996.0 1851.5,992.0 1852.3,992.4 1853.1,1000.9 1853.9,996.9 1854.7,997.0 1855.5,999.7 1856.3,994.3 1857.1,1001.1 1857.9,1003.6 1858.7,1003.4 1859.5,999.6 1860.3,998.7 1861.1,999.5 1861.9,997.6 1862.7,994.5 1863.5,1001.5 1864.3,993.6 1865.1,997.5 1865.9,999.1 1866.7,995.4 1867.5,999.6 1868.3,1005.0 1869.1,1002.1 1869.9,1006.7 1870.7,1003.7 1871.5,997.0 1872.3,1004.1 1873.1,999.6 1873.9,1009.2 1874.7,1001.6 1875.5,1003.4 1876.3,1007.6 1877.1,1005.2 1877.9,1002.5 1878.7,1006.1 1879.5,1007.2 1880.3,1004.4 1881.1,1000.8 1881.9,1007.5 1882.7,1006.9 1883.5,1006.2 1884.3,1005.2 1885.1,1013.0 1885.9,1006.7 1886.7,1010.9 1887.5,1007.1 1888.3,1009.2 1889.1,1006.0 1889.9,1006.0 1890.7,1010.2 1891.5,1014.3 1892.3,1007.7 1893.1,1018.0 1893.9,1010.5 1894.7,1016.3 1895.5,1008.6 1896.3,1008.0 1897.1,1010.7 1897.9,1011.2 1898.7,1011.7 1899.5,1011.2 1900.3,1015.7 1901.1,1016.8 1901.9,1013.8 1902.7,1022.3 1903.5,1017.4 1904.3,1018.7 1905.1,1015.8 1905.9,1018.8 1906.7,1011.4 1907.5,1015.8 1908.3,1014.7 1909.1,1008.9 1909.9,1007.4 1910.7,1012.0 1911.5,1018.0 1912.3,1007.2 1913.1,1019.5 1913.9,1018.1 1914.7,1017.3 1915.5,1014.1 1916.3,1012.3 1917.1,1015.3 1917.9,1020.5 1918.7,1016.2 1919.5,1015.0 1920.3,1017.3 1921.1,1015.5 1921.9,1016.7 1922.7,1010.5 1923.5,1018.2 1924.3,1013.8 1925.1,1021.3 1925.9,1019.1 1926.7,1018.5 1927.5,1019.5 1928.3,1017.1 1929.1,1019.1 1929.9,1017.3 1930.7,1015.6 1931.5,1020.5 1932.3,1016.7 1933.1,1018.7 1933.9,1016.8 1934.7,1021.5 1935.5,1017.1 1936.3,1019.5 1937.1,1017.9 1937.9,1023.9 1938.7,1023.2 1939.5,1021.7 1940.3,1024.1 1941.1,1021.9 1941.9,1026.6 1942.7,1017.9 1943.5,1019.4 1944.3,1015.8 1945.1,1024.2 1945.9,1028.7 1946.7,1029.0 1947.5,1024.2 1948.3,1022.8 1949.1,1025.7 1949.9,1021.5 1950.7,1022.8 1951.5,1030.6 1952.3,1023.7 1953.1,1030.1 1953.9,1020.7 1954.7,1028.2 1955.5,1030.7 1956.3,1030.8 1957.1,1028.1 1957.9,1033.5 1958.7,1029.0 1959.5,1031.0 1960.3,1027.9 1961.1,1034.2 1961.9,1026.7 1962.7,1022.3 1963.5,1029.8 1964.3,1029.6 1965.1,1031.9 1965.9,1029.0 1966.7,1032.1 1967.5,1031.8 1968.3,1033.3 1969.1,1035.6 1969.9,1030.1 1970.7,1028.4 1971.5,1030.9 1972.3,1033.0" stroke="#3b6ee0"/>
</g>
<rect x="1723.4" y="627.1" width="241.4" height="242.7" fill="#fff" stroke="#333" stroke-width="1.6"/>
<g fill="none" stroke-width="2" stroke-linejoin="round" clip-path="url(#clipDI)">
<path d="M1724.5,845.4 1726.9,846.0 1729.3,843.8 1731.7,843.0 1734.1,841.4 1736.5,846.0 1738.9,844.6 1741.3,844.6 1743.7,843.1 1746.1,846.2 1748.5,845.8 1750.9,843.9 1753.3,843.0 1755.7,843.1 1758.1,842.4 1760.5,843.6 1762.9,842.6 1765.3,844.4 1767.7,842.9 1770.1,842.9 1772.5,845.7 1774.9,842.0 1777.3,840.5 1779.7,843.3 1782.1,839.6 1784.5,843.3 1786.9,844.5 1789.3,843.0 1791.7,842.6 1794.1,839.4 1796.5,843.5 1798.9,843.3 1801.3,840.9 1803.7,845.6 1806.1,840.6 1808.5,839.5 1810.9,839.4 1813.3,842.4 1815.7,843.1 1818.1,843.2 1820.5,841.8 1822.9,841.1 1825.3,843.5 1827.7,840.7 1830.1,840.2 1832.5,844.3 1834.9,842.5 1837.3,842.8 1839.7,842.8 1842.1,840.8 1844.5,840.7 1846.9,842.4 1849.3,840.4 1851.7,841.7 1854.1,840.8 1856.5,839.0 1858.9,842.1 1861.3,838.6 1863.7,840.7 1866.1,840.6 1868.5,842.2 1870.9,838.2 1873.3,838.9 1875.7,839.5 1878.1,839.9 1880.5,840.9 1882.9,839.9 1885.3,839.3 1887.7,840.9 1890.1,842.3 1892.5,836.7 1894.9,838.5 1897.3,839.7 1899.7,838.6 1902.1,840.5 1904.5,837.5 1906.9,836.2 1909.3,838.8 1911.7,833.0 1914.1,836.6 1916.5,841.2 1918.9,837.5 1921.3,837.7 1923.7,835.5 1926.1,836.9 1928.5,836.9 1930.9,840.0 1933.3,835.2 1935.7,832.4 1938.1,837.6 1940.5,839.7 1942.9,836.0 1945.3,834.1 1947.7,835.5 1950.1,838.0 1952.5,836.7 1954.9,837.5 1957.3,833.8 1959.7,836.8 1962.1,839.1 1964.5,837.5" stroke="#7f7f7f"/>
<path d="M1724.5,793.8 1726.9,795.8 1729.3,795.7 1731.7,795.7 1734.1,798.9 1736.5,796.3 1738.9,796.5 1741.3,795.2 1743.7,792.7 1746.1,795.2 1748.5,796.5 1750.9,794.7 1753.3,792.6 1755.7,790.9 1758.1,797.7 1760.5,791.6 1762.9,790.9 1765.3,789.6 1767.7,793.5 1770.1,792.9 1772.5,790.5 1774.9,791.8 1777.3,792.6 1779.7,790.9 1782.1,789.2 1784.5,791.1 1786.9,792.3 1789.3,789.3 1791.7,790.4 1794.1,793.6 1796.5,795.0 1798.9,794.3 1801.3,793.1 1803.7,795.1 1806.1,791.1 1808.5,791.6 1810.9,791.3 1813.3,793.7 1815.7,789.3 1818.1,789.9 1820.5,794.6 1822.9,789.0 1825.3,785.3 1827.7,791.5 1830.1,791.9 1832.5,786.8 1834.9,786.4 1837.3,787.2 1839.7,789.1 1842.1,792.1 1844.5,791.3 1846.9,785.7 1849.3,792.3 1851.7,787.1 1854.1,789.5 1856.5,788.8 1858.9,787.9 1861.3,786.3 1863.7,794.3 1866.1,789.5 1868.5,792.5 1870.9,787.6 1873.3,790.5 1875.7,788.0 1878.1,790.3 1880.5,791.6 1882.9,787.1 1885.3,788.8 1887.7,790.3 1890.1,792.0 1892.5,791.6 1894.9,787.5 1897.3,786.1 1899.7,788.1 1902.1,790.8 1904.5,791.0 1906.9,784.8 1909.3,783.0 1911.7,786.4 1914.1,788.9 1916.5,791.0 1918.9,786.0 1921.3,787.4 1923.7,790.4 1926.1,786.2 1928.5,790.2 1930.9,792.2 1933.3,791.2 1935.7,792.7 1938.1,787.3 1940.5,784.5 1942.9,792.1 1945.3,790.6 1947.7,791.8 1950.1,788.7 1952.5,785.3 1954.9,786.9 1957.3,787.3 1959.7,786.5 1962.1,788.7 1964.5,789.2" stroke="#8d6240"/>
<path d="M1724.5,809.0 1726.9,810.5 1729.3,810.5 1731.7,811.0 1734.1,811.9 1736.5,811.6 1738.9,813.0 1741.3,812.1 1743.7,812.9 1746.1,809.2 1748.5,808.7 1750.9,806.3 1753.3,803.0 1755.7,800.8 1758.1,805.6 1760.5,802.8 1762.9,802.1 1765.3,801.8 1767.7,803.5 1770.1,803.2 1772.5,802.9 1774.9,803.3 1777.3,807.5 1779.7,799.8 1782.1,797.0 1784.5,788.6 1786.9,786.9 1789.3,793.8 1791.7,792.2 1794.1,783.4 1796.5,779.9 1798.9,780.1 1801.3,772.9 1803.7,776.0 1806.1,776.1 1808.5,780.1 1810.9,771.1 1813.3,771.7 1815.7,770.1 1818.1,768.2 1820.5,761.9 1822.9,759.3 1825.3,754.6 1827.7,763.0 1830.1,763.4 1832.5,759.7 1834.9,762.3 1837.3,758.9 1839.7,762.6 1842.1,765.6 1844.5,762.9 1846.9,765.0 1849.3,768.5 1851.7,768.0 1854.1,765.9 1856.5,772.7 1858.9,774.3 1861.3,773.2 1863.7,773.0 1866.1,774.2 1868.5,775.3 1870.9,770.9 1873.3,777.7 1875.7,774.3 1878.1,778.3 1880.5,779.4 1882.9,782.7 1885.3,787.5 1887.7,785.5 1890.1,784.5 1892.5,786.8 1894.9,785.4 1897.3,780.8 1899.7,780.6 1902.1,785.0 1904.5,792.4 1906.9,788.1 1909.3,791.4 1911.7,793.7 1914.1,787.9 1916.5,794.5 1918.9,793.3 1921.3,792.0 1923.7,792.1 1926.1,784.0 1928.5,788.8 1930.9,784.7 1933.3,789.1 1935.7,787.9 1938.1,787.1 1940.5,789.2 1942.9,783.2 1945.3,787.9 1947.7,793.3 1950.1,790.1 1952.5,784.7 1954.9,787.8 1957.3,786.3 1959.7,787.5 1962.1,783.2 1964.5,787.4" stroke="#ffa514"/>
<path d="M1724.5,819.0 1726.9,819.0 1729.3,818.5 1731.7,820.0 1734.1,824.5 1736.5,817.2 1738.9,822.9 1741.3,823.5 1743.7,819.2 1746.1,818.0 1748.5,820.7 1750.9,822.5 1753.3,824.4 1755.7,821.1 1758.1,822.0 1760.5,816.5 1762.9,814.5 1765.3,811.9 1767.7,812.6 1770.1,814.0 1772.5,814.5 1774.9,810.2 1777.3,814.2 1779.7,811.0 1782.1,808.2 1784.5,806.9 1786.9,812.4 1789.3,806.5 1791.7,802.0 1794.1,800.4 1796.5,805.3 1798.9,797.8 1801.3,799.9 1803.7,797.9 1806.1,785.9 1808.5,791.4 1810.9,783.8 1813.3,776.7 1815.7,773.3 1818.1,771.3 1820.5,766.1 1822.9,761.4 1825.3,754.0 1827.7,754.9 1830.1,751.5 1832.5,748.0 1834.9,741.6 1837.3,739.9 1839.7,736.2 1842.1,728.1 1844.5,724.5 1846.9,720.3 1849.3,717.3 1851.7,715.5 1854.1,706.4 1856.5,708.4 1858.9,709.2 1861.3,700.6 1863.7,701.4 1866.1,708.8 1868.5,701.2 1870.9,702.5 1873.3,705.1 1875.7,703.3 1878.1,703.2 1880.5,705.7 1882.9,708.2 1885.3,710.5 1887.7,715.4 1890.1,721.6 1892.5,720.4 1894.9,725.6 1897.3,725.1 1899.7,726.8 1902.1,727.5 1904.5,726.4 1906.9,729.7 1909.3,730.4 1911.7,727.5 1914.1,733.1 1916.5,732.9 1918.9,731.7 1921.3,728.1 1923.7,721.8 1926.1,732.3 1928.5,727.6 1930.9,721.2 1933.3,728.3 1935.7,724.6 1938.1,727.7 1940.5,725.1 1942.9,727.6 1945.3,724.0 1947.7,722.6 1950.1,721.4 1952.5,723.4 1954.9,716.8 1957.3,724.2 1959.7,724.2 1962.1,722.0 1964.5,724.8" stroke="#7edcd2"/>
<path d="M1724.5,824.2 1726.9,824.6 1729.3,824.3 1731.7,826.0 1734.1,821.3 1736.5,825.7 1738.9,824.0 1741.3,828.1 1743.7,828.3 1746.1,828.9 1748.5,827.0 1750.9,824.6 1753.3,826.5 1755.7,827.5 1758.1,822.0 1760.5,824.2 1762.9,822.4 1765.3,825.1 1767.7,819.0 1770.1,819.4 1772.5,820.2 1774.9,818.9 1777.3,813.3 1779.7,816.9 1782.1,814.7 1784.5,813.0 1786.9,812.0 1789.3,811.4 1791.7,805.2 1794.1,811.3 1796.5,803.3 1798.9,797.3 1801.3,800.2 1803.7,801.3 1806.1,793.6 1808.5,795.5 1810.9,792.2 1813.3,782.3 1815.7,774.3 1818.1,773.7 1820.5,775.8 1822.9,765.8 1825.3,758.1 1827.7,752.6 1830.1,750.1 1832.5,744.2 1834.9,740.9 1837.3,735.4 1839.7,724.4 1842.1,720.7 1844.5,712.9 1846.9,711.0 1849.3,703.0 1851.7,698.8 1854.1,703.9 1856.5,694.7 1858.9,692.9 1861.3,695.2 1863.7,687.8 1866.1,682.9 1868.5,681.4 1870.9,678.1 1873.3,681.8 1875.7,677.2 1878.1,681.7 1880.5,675.1 1882.9,674.2 1885.3,673.8 1887.7,676.7 1890.1,676.2 1892.5,679.9 1894.9,675.7 1897.3,679.2 1899.7,684.9 1902.1,680.3 1904.5,683.8 1906.9,688.4 1909.3,687.1 1911.7,684.8 1914.1,682.4 1916.5,695.6 1918.9,691.6 1921.3,694.0 1923.7,689.9 1926.1,696.2 1928.5,692.8 1930.9,690.7 1933.3,687.5 1935.7,690.2 1938.1,687.3 1940.5,687.1 1942.9,683.0 1945.3,685.9 1947.7,687.7 1950.1,683.9 1952.5,687.7 1954.9,689.5 1957.3,686.9 1959.7,685.9 1962.1,686.2 1964.5,691.0" stroke="#f08ea2"/>
<path d="M1724.5,819.0 1726.9,820.2 1729.3,823.3 1731.7,821.1 1734.1,823.4 1736.5,823.7 1738.9,818.2 1741.3,823.4 1743.7,819.6 1746.1,825.4 1748.5,821.6 1750.9,817.8 1753.3,818.8 1755.7,818.5 1758.1,818.3 1760.5,820.4 1762.9,818.0 1765.3,820.0 1767.7,817.0 1770.1,814.3 1772.5,810.5 1774.9,810.3 1777.3,814.5 1779.7,815.7 1782.1,816.6 1784.5,810.6 1786.9,810.8 1789.3,807.3 1791.7,806.2 1794.1,800.0 1796.5,805.0 1798.9,799.4 1801.3,798.2 1803.7,796.6 1806.1,792.7 1808.5,785.0 1810.9,788.0 1813.3,782.0 1815.7,776.3 1818.1,767.8 1820.5,759.2 1822.9,752.6 1825.3,748.7 1827.7,741.1 1830.1,730.2 1832.5,729.0 1834.9,718.5 1837.3,715.8 1839.7,712.5 1842.1,705.1 1844.5,708.5 1846.9,704.1 1849.3,694.8 1851.7,694.6 1854.1,690.1 1856.5,685.4 1858.9,682.4 1861.3,673.9 1863.7,675.7 1866.1,673.9 1868.5,674.1 1870.9,672.9 1873.3,674.3 1875.7,671.9 1878.1,666.9 1880.5,671.4 1882.9,673.3 1885.3,668.9 1887.7,662.8 1890.1,663.2 1892.5,663.1 1894.9,661.2 1897.3,669.9 1899.7,672.4 1902.1,681.4 1904.5,682.9 1906.9,681.3 1909.3,678.4 1911.7,682.8 1914.1,681.1 1916.5,682.5 1918.9,689.0 1921.3,685.5 1923.7,685.4 1926.1,692.8 1928.5,696.6 1930.9,696.0 1933.3,693.2 1935.7,695.6 1938.1,688.3 1940.5,694.6 1942.9,694.2 1945.3,687.2 1947.7,688.7 1950.1,684.1 1952.5,684.9 1954.9,689.3 1957.3,684.8 1959.7,688.5 1962.1,689.4 1964.5,688.4" stroke="#3b6ee0"/>
</g>
<line x1="1829.5" y1="637.7" x2="1829.5" y2="855" stroke="#d6a526" stroke-width="2" stroke-dasharray="6,4"/>
<line x1="1887.9" y1="637.7" x2="1887.9" y2="855" stroke="#3a5ee0" stroke-width="2" stroke-dasharray="6,4"/>
<path d="M1786.5,651.8H1822 M1930.8,651.8H1895" stroke="#333" stroke-width="1.3"/>
<path d="M1829,651.8l-8,-4v8z M1888.4,651.8l8,-4v8z" fill="#333"/>
<text x="1830.8" y="659.5" font-size="21" textLength="55" lengthAdjust="spacingAndGlyphs">10 nm</text>
<line x1="1723.4" y1="869.8" x2="1964.8" y2="869.8" stroke="#222" stroke-width="2.8"/>
<path d="M1724.6,870v7.5M1754.5,870v7.5M1784.4,870v7.5M1814.3,870v7.5M1844.2,870v7.5M1874.1,870v7.5M1904,870v7.5M1933.9,870v7.5M1963.8,870v7.5" stroke="#222" stroke-width="2.4"/>
<g font-size="24.5" text-anchor="middle" style="fill:#333"><text x="1754.5" y="901.5" textLength="40.5" lengthAdjust="spacingAndGlyphs" style="fill:#333">350</text><text x="1814.3" y="901.5" textLength="40.5" lengthAdjust="spacingAndGlyphs" style="fill:#333">360</text><text x="1874.1" y="901.5" textLength="40.5" lengthAdjust="spacingAndGlyphs" style="fill:#333">370</text><text x="1933.9" y="901.5" textLength="40.5" lengthAdjust="spacingAndGlyphs" style="fill:#333">380</text></g>
<rect x="1085.0" y="618.7" width="890.0" height="451.8" fill="none" stroke="#333" stroke-width="2.6"/>
<path d="M1089.1,1070.5v19M1124.4,1070.5v10M1159.6,1070.5v10M1194.9,1070.5v10M1230.2,1070.5v10M1265.4,1070.5v19M1300.7,1070.5v10M1336,1070.5v10M1371.2,1070.5v10M1406.5,1070.5v10M1441.8,1070.5v19M1477,1070.5v10M1512.3,1070.5v10M1547.6,1070.5v10M1582.9,1070.5v10M1618.1,1070.5v19M1653.4,1070.5v10M1688.7,1070.5v10M1723.9,1070.5v10M1759.2,1070.5v10M1794.5,1070.5v19M1829.7,1070.5v10M1865,1070.5v10M1900.3,1070.5v10M1935.5,1070.5v10M1970.8,1070.5v19" stroke="#1a1a1a" stroke-width="2.2"/>
<path d="M1085,694.1h20M1085,812.9h20M1085,931.1h20" stroke="#6a6a6a" stroke-width="2.2"/><path d="M1085,1049h4" stroke="#222" stroke-width="2"/>
<g font-size="25.3" text-anchor="middle"><text x="1089.1" y="1127.8" textLength="45" lengthAdjust="spacingAndGlyphs">300</text><text x="1265.4" y="1127.8" textLength="45" lengthAdjust="spacingAndGlyphs">400</text><text x="1441.8" y="1127.8" textLength="45" lengthAdjust="spacingAndGlyphs">500</text><text x="1618.1" y="1127.8" textLength="45" lengthAdjust="spacingAndGlyphs">600</text><text x="1794.5" y="1127.8" textLength="45" lengthAdjust="spacingAndGlyphs">700</text><text x="1970.8" y="1127.8" textLength="45" lengthAdjust="spacingAndGlyphs">800</text></g>
<text x="1526.5" y="1173" font-size="29.4" text-anchor="middle">Wavelength (nm)</text>
<text transform="translate(1055.4,853) rotate(-90)" font-size="29.4" text-anchor="middle">CL intensity (a.u.)</text>
<line x1="1119" y1="645.6" x2="1158.6" y2="645.6" stroke="#f08ea2" stroke-width="3.2"/>
<rect x="1181.3" y="639.4" width="25.5" height="12.4" fill="none" stroke="#f08ea2" stroke-width="2.4"/>
<text x="1170.2" y="652.9" font-size="21.5" font-weight="bold" text-anchor="middle" style="fill:#555">1</text>
<line x1="1119" y1="676.5" x2="1158.6" y2="676.5" stroke="#3b6ee0" stroke-width="3.2"/>
<rect x="1181.3" y="670.3" width="25.5" height="12.4" fill="none" stroke="#3b6ee0" stroke-width="2.4"/>
<text x="1170.2" y="683.8" font-size="21.5" font-weight="bold" text-anchor="middle" style="fill:#555">2</text>
<line x1="1119" y1="708" x2="1158.6" y2="708" stroke="#7edcd2" stroke-width="3.2"/>
<rect x="1181.3" y="701.8" width="25.5" height="12.4" fill="none" stroke="#7edcd2" stroke-width="2.4"/>
<text x="1170.2" y="715.3" font-size="21.5" font-weight="bold" text-anchor="middle" style="fill:#555">3</text>
<line x1="1119" y1="739.4" x2="1158.6" y2="739.4" stroke="#ffa514" stroke-width="3.2"/>
<rect x="1181.3" y="733.2" width="25.5" height="12.4" fill="none" stroke="#ffa514" stroke-width="2.4"/>
<text x="1170.2" y="746.7" font-size="21.5" font-weight="bold" text-anchor="middle" style="fill:#555">4</text>
<line x1="1119" y1="770.4" x2="1158.6" y2="770.4" stroke="#8d6240" stroke-width="3.2"/>
<rect x="1181.3" y="764.2" width="25.5" height="12.4" fill="none" stroke="#8d6240" stroke-width="2.4"/>
<text x="1170.2" y="777.7" font-size="21.5" font-weight="bold" text-anchor="middle" style="fill:#555">5</text>
<line x1="1119" y1="801" x2="1158.6" y2="801" stroke="#7f7f7f" stroke-width="3.2"/>
<rect x="1181.3" y="794.8" width="25.5" height="12.4" fill="none" stroke="#7f7f7f" stroke-width="2.4"/>
<text x="1170.2" y="808.3" font-size="21.5" font-weight="bold" text-anchor="middle" style="fill:#555">6</text>
</g>
</svg></body></html>
